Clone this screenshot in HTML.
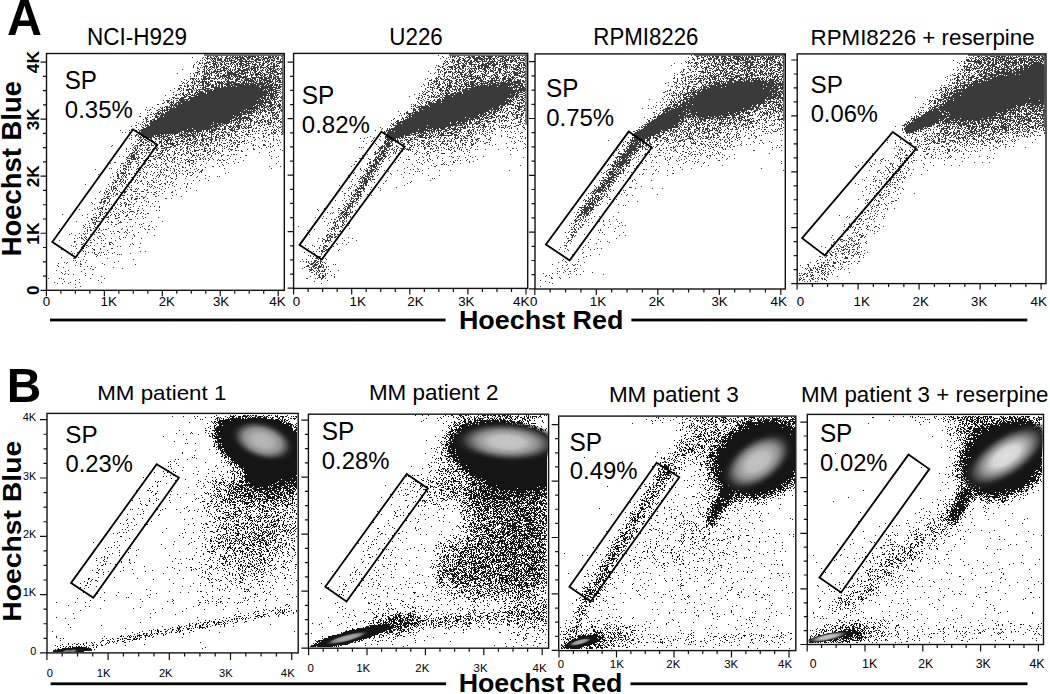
<!DOCTYPE html>
<html><head><meta charset="utf-8"><style>
html,body{margin:0;padding:0;background:#fff;}
svg{display:block;}
</style></head><body>
<svg width="1050" height="694" viewBox="0 0 1050 694" font-family="Liberation Sans, sans-serif">
<rect width="1050" height="694" fill="#fff"/>
<defs><radialGradient id="g0"><stop offset="0" stop-color="#b8b8b8"/><stop offset="0.3" stop-color="#b8b8b8" stop-opacity="0.95"/><stop offset="0.55" stop-color="#8c8c8c"/><stop offset="0.8" stop-color="#2a2a2a"/><stop offset="1" stop-color="#151515" stop-opacity="0"/></radialGradient><clipPath id="c0"><rect x="47.70" y="414.10" width="249.80" height="238.10"/></clipPath><radialGradient id="g1"><stop offset="0" stop-color="#c8c8c8"/><stop offset="0.3" stop-color="#c8c8c8" stop-opacity="0.95"/><stop offset="0.55" stop-color="#8c8c8c"/><stop offset="0.8" stop-color="#2a2a2a"/><stop offset="1" stop-color="#151515" stop-opacity="0"/></radialGradient><clipPath id="c1"><rect x="309.10" y="414.90" width="238.80" height="232.60"/></clipPath><radialGradient id="g2"><stop offset="0" stop-color="#c4c4c4"/><stop offset="0.3" stop-color="#c4c4c4" stop-opacity="0.95"/><stop offset="0.55" stop-color="#8c8c8c"/><stop offset="0.8" stop-color="#2a2a2a"/><stop offset="1" stop-color="#151515" stop-opacity="0"/></radialGradient><clipPath id="c2"><rect x="559.40" y="416.80" width="235.70" height="233.10"/></clipPath><radialGradient id="g3"><stop offset="0" stop-color="#e0e0e0"/><stop offset="0.3" stop-color="#e0e0e0" stop-opacity="0.95"/><stop offset="0.55" stop-color="#8c8c8c"/><stop offset="0.8" stop-color="#2a2a2a"/><stop offset="1" stop-color="#151515" stop-opacity="0"/></radialGradient><clipPath id="c3"><rect x="808.00" y="415.10" width="234.80" height="228.70"/></clipPath><radialGradient id="g4"><stop offset="0" stop-color="#a8a8a8"/><stop offset="0.3" stop-color="#a8a8a8" stop-opacity="0.95"/><stop offset="0.55" stop-color="#8c8c8c"/><stop offset="0.8" stop-color="#2a2a2a"/><stop offset="1" stop-color="#151515" stop-opacity="0"/></radialGradient><clipPath id="c4"><rect x="309.10" y="414.90" width="238.80" height="232.60"/></clipPath><radialGradient id="g5"><stop offset="0" stop-color="#a8a8a8"/><stop offset="0.3" stop-color="#a8a8a8" stop-opacity="0.95"/><stop offset="0.55" stop-color="#8c8c8c"/><stop offset="0.8" stop-color="#2a2a2a"/><stop offset="1" stop-color="#151515" stop-opacity="0"/></radialGradient><clipPath id="c5"><rect x="559.40" y="416.80" width="235.70" height="233.10"/></clipPath><radialGradient id="g6"><stop offset="0" stop-color="#c4c4c4"/><stop offset="0.3" stop-color="#c4c4c4" stop-opacity="0.95"/><stop offset="0.55" stop-color="#8c8c8c"/><stop offset="0.8" stop-color="#2a2a2a"/><stop offset="1" stop-color="#151515" stop-opacity="0"/></radialGradient><clipPath id="c6"><rect x="808.00" y="415.10" width="234.80" height="228.70"/></clipPath><radialGradient id="g7"><stop offset="0" stop-color="#707070"/><stop offset="0.3" stop-color="#707070" stop-opacity="0.95"/><stop offset="0.55" stop-color="#8c8c8c"/><stop offset="0.8" stop-color="#2a2a2a"/><stop offset="1" stop-color="#151515" stop-opacity="0"/></radialGradient><clipPath id="c7"><rect x="47.70" y="414.10" width="249.80" height="238.10"/></clipPath></defs>
<text x="6.89" y="35.40" font-size="49.86" font-weight="bold" textLength="34.92" lengthAdjust="spacingAndGlyphs" fill="#000">A</text>
<text x="6.79" y="402.10" font-size="48.41" font-weight="bold" textLength="34.57" lengthAdjust="spacingAndGlyphs" fill="#000">B</text>
<text transform="translate(20.70,256.28) rotate(-90)" x="0" y="0" font-size="26.76" font-weight="bold" textLength="175.25" lengthAdjust="spacingAndGlyphs">Hoechst Blue</text>
<text transform="translate(20.70,621.64) rotate(-90)" x="0" y="0" font-size="26.48" font-weight="bold" textLength="180.84" lengthAdjust="spacingAndGlyphs">Hoechst Blue</text>
<text x="458.95" y="328.50" font-size="26.48" font-weight="bold" textLength="164.47" lengthAdjust="spacingAndGlyphs" fill="#000">Hoechst Red</text>
<text x="458.66" y="692.00" font-size="25.66" font-weight="bold" textLength="163.75" lengthAdjust="spacingAndGlyphs" fill="#000">Hoechst Red</text>
<rect x="50" y="318.6" width="395.6" height="2.8" fill="#000"/>
<rect x="631.4" y="318.6" width="396" height="2.8" fill="#000"/>
<rect x="50.6" y="682.4" width="395.4" height="2.8" fill="#000"/>
<rect x="630.5" y="682.4" width="397" height="2.8" fill="#000"/>
<text x="87.10" y="44.90" font-size="23.29" textLength="100.03" lengthAdjust="spacingAndGlyphs" fill="#000">NCI-H929</text>
<text x="389.32" y="45.10" font-size="23.29" textLength="53.49" lengthAdjust="spacingAndGlyphs" fill="#000">U226</text>
<text x="593.32" y="45.20" font-size="23.00" textLength="105.17" lengthAdjust="spacingAndGlyphs" fill="#000">RPMI8226</text>
<text x="810.51" y="45.10" font-size="22.07" textLength="224.17" lengthAdjust="spacingAndGlyphs" fill="#000">RPMI8226 + reserpine</text>
<text x="97.21" y="400.10" font-size="21.10" textLength="129.20" lengthAdjust="spacingAndGlyphs" fill="#000">MM patient 1</text>
<text x="368.91" y="400.00" font-size="21.66" textLength="129.62" lengthAdjust="spacingAndGlyphs" fill="#000">MM patient 2</text>
<text x="608.90" y="402.10" font-size="21.66" textLength="129.91" lengthAdjust="spacingAndGlyphs" fill="#000">MM patient 3</text>
<text x="801.01" y="401.70" font-size="21.79" textLength="247.47" lengthAdjust="spacingAndGlyphs" fill="#000">MM patient 3 + reserpine</text>
<text x="64.71" y="89.40" font-size="25.00" textLength="32.30" lengthAdjust="spacingAndGlyphs" fill="#000">SP</text>
<text x="64.84" y="118.40" font-size="24.43" textLength="68.01" lengthAdjust="spacingAndGlyphs" fill="#000">0.35%</text>
<text x="301.70" y="104.40" font-size="25.00" textLength="32.51" lengthAdjust="spacingAndGlyphs" fill="#000">SP</text>
<text x="301.84" y="132.80" font-size="23.71" textLength="68.11" lengthAdjust="spacingAndGlyphs" fill="#000">0.82%</text>
<text x="546.01" y="97.00" font-size="24.86" textLength="32.41" lengthAdjust="spacingAndGlyphs" fill="#000">SP</text>
<text x="546.14" y="125.60" font-size="24.00" textLength="68.01" lengthAdjust="spacingAndGlyphs" fill="#000">0.75%</text>
<text x="810.51" y="93.20" font-size="24.57" textLength="32.41" lengthAdjust="spacingAndGlyphs" fill="#000">SP</text>
<text x="810.65" y="122.00" font-size="24.29" textLength="67.29" lengthAdjust="spacingAndGlyphs" fill="#000">0.06%</text>
<text x="65.31" y="442.60" font-size="24.43" textLength="32.41" lengthAdjust="spacingAndGlyphs" fill="#000">SP</text>
<text x="65.45" y="471.60" font-size="23.71" textLength="67.39" lengthAdjust="spacingAndGlyphs" fill="#000">0.23%</text>
<text x="321.70" y="440.30" font-size="25.00" textLength="32.51" lengthAdjust="spacingAndGlyphs" fill="#000">SP</text>
<text x="321.84" y="469.20" font-size="23.71" textLength="67.80" lengthAdjust="spacingAndGlyphs" fill="#000">0.28%</text>
<text x="569.60" y="450.80" font-size="25.00" textLength="32.51" lengthAdjust="spacingAndGlyphs" fill="#000">SP</text>
<text x="569.74" y="479.30" font-size="24.14" textLength="67.80" lengthAdjust="spacingAndGlyphs" fill="#000">0.49%</text>
<text x="819.91" y="442.40" font-size="24.86" textLength="32.41" lengthAdjust="spacingAndGlyphs" fill="#000">SP</text>
<text x="820.05" y="471.10" font-size="23.71" textLength="67.50" lengthAdjust="spacingAndGlyphs" fill="#000">0.02%</text>
<path d="M46.40 290.30v6M46.50 290.30h-6M60.89 290.30v3.5M46.50 276.04h-3.5M75.38 290.30v3.5M46.50 261.78h-3.5M89.86 290.30v3.5M46.50 247.51h-3.5M104.35 290.30v6M46.50 233.25h-6M118.84 290.30v3.5M46.50 218.99h-3.5M133.33 290.30v3.5M46.50 204.73h-3.5M147.81 290.30v3.5M46.50 190.46h-3.5M162.30 290.30v6M46.50 176.20h-6M176.79 290.30v3.5M46.50 161.94h-3.5M191.28 290.30v3.5M46.50 147.68h-3.5M205.76 290.30v3.5M46.50 133.41h-3.5M220.25 290.30v6M46.50 119.15h-6M234.74 290.30v3.5M46.50 104.89h-3.5M249.23 290.30v3.5M46.50 90.63h-3.5M263.71 290.30v3.5M46.50 76.36h-3.5M278.20 290.30v6M46.50 62.10h-6" stroke="#111" stroke-width="1.2" fill="none"/>
<path d="M293.60 288.40v6M293.60 288.20h-6M308.12 288.40v3.5M293.60 274.07h-3.5M322.65 288.40v3.5M293.60 259.95h-3.5M337.18 288.40v3.5M293.60 245.82h-3.5M351.70 288.40v6M293.60 231.70h-6M366.23 288.40v3.5M293.60 217.57h-3.5M380.75 288.40v3.5M293.60 203.45h-3.5M395.28 288.40v3.5M293.60 189.32h-3.5M409.80 288.40v6M293.60 175.20h-6M424.33 288.40v3.5M293.60 161.07h-3.5M438.85 288.40v3.5M293.60 146.95h-3.5M453.38 288.40v3.5M293.60 132.82h-3.5M467.90 288.40v6M293.60 118.70h-6M482.43 288.40v3.5M293.60 104.57h-3.5M496.95 288.40v3.5M293.60 90.45h-3.5M511.48 288.40v3.5M293.60 76.32h-3.5M526.00 288.40v6M293.60 62.20h-6" stroke="#111" stroke-width="1.2" fill="none"/>
<path d="M534.80 289.00v6M535.00 288.90h-6M550.17 289.00v3.5M535.00 274.70h-3.5M565.55 289.00v3.5M535.00 260.50h-3.5M580.92 289.00v3.5M535.00 246.30h-3.5M596.30 289.00v6M535.00 232.10h-6M611.67 289.00v3.5M535.00 217.90h-3.5M627.05 289.00v3.5M535.00 203.70h-3.5M642.42 289.00v3.5M535.00 189.50h-3.5M657.80 289.00v6M535.00 175.30h-6M673.17 289.00v3.5M535.00 161.10h-3.5M688.55 289.00v3.5M535.00 146.90h-3.5M703.92 289.00v3.5M535.00 132.70h-3.5M719.30 289.00v6M535.00 118.50h-6M734.67 289.00v3.5M535.00 104.30h-3.5M750.05 289.00v3.5M535.00 90.10h-3.5M765.42 289.00v3.5M535.00 75.90h-3.5M780.80 289.00v6M535.00 61.70h-6" stroke="#111" stroke-width="1.2" fill="none"/>
<path d="M797.10 283.60v6M797.20 283.60h-6M812.35 283.60v3.5M797.20 269.62h-3.5M827.60 283.60v3.5M797.20 255.65h-3.5M842.85 283.60v3.5M797.20 241.68h-3.5M858.10 283.60v6M797.20 227.70h-6M873.35 283.60v3.5M797.20 213.73h-3.5M888.60 283.60v3.5M797.20 199.75h-3.5M903.85 283.60v3.5M797.20 185.78h-3.5M919.10 283.60v6M797.20 171.80h-6M934.35 283.60v3.5M797.20 157.83h-3.5M949.60 283.60v3.5M797.20 143.85h-3.5M964.85 283.60v3.5M797.20 129.88h-3.5M980.10 283.60v6M797.20 115.90h-6M995.35 283.60v3.5M797.20 101.93h-3.5M1010.60 283.60v3.5M797.20 87.95h-3.5M1025.85 283.60v3.5M797.20 73.98h-3.5M1041.10 283.60v6M797.20 60.00h-6" stroke="#111" stroke-width="1.2" fill="none"/>
<path d="M46.90 652.90v7M47.00 652.90h-7M62.20 652.90v3.5M47.00 638.32h-3.5M77.50 652.90v3.5M47.00 623.75h-3.5M92.80 652.90v3.5M47.00 609.17h-3.5M108.10 652.90v7M47.00 594.60h-7M123.40 652.90v3.5M47.00 580.02h-3.5M138.70 652.90v3.5M47.00 565.45h-3.5M154.00 652.90v3.5M47.00 550.88h-3.5M169.30 652.90v7M47.00 536.30h-7M184.60 652.90v3.5M47.00 521.73h-3.5M199.90 652.90v3.5M47.00 507.15h-3.5M215.20 652.90v3.5M47.00 492.57h-3.5M230.50 652.90v7M47.00 478.00h-7M245.80 652.90v3.5M47.00 463.42h-3.5M261.10 652.90v3.5M47.00 448.85h-3.5M276.40 652.90v3.5M47.00 434.27h-3.5M291.70 652.90v7M47.00 419.70h-7" stroke="#111" stroke-width="1.2" fill="none"/>
<path d="M308.60 648.20v7M308.40 648.20h-7M323.20 648.20v3.5M308.40 633.95h-3.5M337.80 648.20v3.5M308.40 619.70h-3.5M352.40 648.20v3.5M308.40 605.45h-3.5M367.00 648.20v7M308.40 591.20h-7M381.60 648.20v3.5M308.40 576.95h-3.5M396.20 648.20v3.5M308.40 562.70h-3.5M410.80 648.20v3.5M308.40 548.45h-3.5M425.40 648.20v7M308.40 534.20h-7M440.00 648.20v3.5M308.40 519.95h-3.5M454.60 648.20v3.5M308.40 505.70h-3.5M469.20 648.20v3.5M308.40 491.45h-3.5M483.80 648.20v7M308.40 477.20h-7M498.40 648.20v3.5M308.40 462.95h-3.5M513.00 648.20v3.5M308.40 448.70h-3.5M527.60 648.20v3.5M308.40 434.45h-3.5M542.20 648.20v7M308.40 420.20h-7" stroke="#111" stroke-width="1.2" fill="none"/>
<path d="M559.00 650.60v7M558.70 650.40h-7M573.38 650.60v3.5M558.70 636.29h-3.5M587.75 650.60v3.5M558.70 622.17h-3.5M602.12 650.60v3.5M558.70 608.06h-3.5M616.50 650.60v7M558.70 593.95h-7M630.88 650.60v3.5M558.70 579.84h-3.5M645.25 650.60v3.5M558.70 565.72h-3.5M659.62 650.60v3.5M558.70 551.61h-3.5M674.00 650.60v7M558.70 537.50h-7M688.38 650.60v3.5M558.70 523.39h-3.5M702.75 650.60v3.5M558.70 509.27h-3.5M717.12 650.60v3.5M558.70 495.16h-3.5M731.50 650.60v7M558.70 481.05h-7M745.88 650.60v3.5M558.70 466.94h-3.5M760.25 650.60v3.5M558.70 452.82h-3.5M774.62 650.60v3.5M558.70 438.71h-3.5M789.00 650.60v7M558.70 424.60h-7" stroke="#111" stroke-width="1.2" fill="none"/>
<path d="M807.20 644.50v7M807.30 644.50h-7M821.65 644.50v3.5M807.30 630.60h-3.5M836.10 644.50v3.5M807.30 616.70h-3.5M850.55 644.50v3.5M807.30 602.80h-3.5M865.00 644.50v7M807.30 588.90h-7M879.45 644.50v3.5M807.30 575.00h-3.5M893.90 644.50v3.5M807.30 561.10h-3.5M908.35 644.50v3.5M807.30 547.20h-3.5M922.80 644.50v7M807.30 533.30h-7M937.25 644.50v3.5M807.30 519.40h-3.5M951.70 644.50v3.5M807.30 505.50h-3.5M966.15 644.50v3.5M807.30 491.60h-3.5M980.60 644.50v7M807.30 477.70h-7M995.05 644.50v3.5M807.30 463.80h-3.5M1009.50 644.50v3.5M807.30 449.90h-3.5M1023.95 644.50v3.5M807.30 436.00h-3.5M1038.40 644.50v7M807.30 422.10h-7" stroke="#111" stroke-width="1.2" fill="none"/>
<text transform="translate(38.6,295.06) rotate(-90)" font-size="17.14" font-weight="bold">0</text>
<text transform="translate(38.6,244.77) rotate(-90)" font-size="17.39" font-weight="bold">1K</text>
<text transform="translate(38.6,187.34) rotate(-90)" font-size="17.14" font-weight="bold">2K</text>
<text transform="translate(38.6,130.21) rotate(-90)" font-size="17.14" font-weight="bold">3K</text>
<text transform="translate(38.6,73.23) rotate(-90)" font-size="17.39" font-weight="bold">4K</text>
<text x="36.2" y="654.50" font-size="10.86" text-anchor="end">0</text>
<text x="36.2" y="596.20" font-size="11.01" text-anchor="end">1K</text>
<text x="36.2" y="537.90" font-size="10.86" text-anchor="end">2K</text>
<text x="36.2" y="479.60" font-size="10.86" text-anchor="end">3K</text>
<text x="36.2" y="421.30" font-size="11.01" text-anchor="end">4K</text>
<text x="42.77" y="306.30" font-size="13.29">0</text>
<text x="100.59" y="306.30" font-size="13.48">1K</text>
<text x="158.64" y="306.30" font-size="13.29">2K</text>
<text x="212.97" y="306.30" font-size="13.29">3K</text>
<text x="269.23" y="306.30" font-size="13.48">4K</text>
<text x="292.87" y="305.80" font-size="13.29">0</text>
<text x="349.59" y="305.80" font-size="13.48">1K</text>
<text x="407.34" y="305.80" font-size="13.29">2K</text>
<text x="458.17" y="305.80" font-size="13.29">3K</text>
<text x="513.03" y="305.80" font-size="13.48">4K</text>
<text x="530.07" y="305.80" font-size="13.29">0</text>
<text x="589.69" y="305.80" font-size="13.48">1K</text>
<text x="648.64" y="305.80" font-size="13.29">2K</text>
<text x="711.47" y="305.80" font-size="13.29">3K</text>
<text x="770.43" y="305.80" font-size="13.48">4K</text>
<text x="796.67" y="305.80" font-size="13.29">0</text>
<text x="853.59" y="305.80" font-size="13.48">1K</text>
<text x="912.54" y="305.80" font-size="13.29">2K</text>
<text x="971.07" y="305.80" font-size="13.29">3K</text>
<text x="1030.43" y="305.80" font-size="13.48">4K</text>
<text x="46.85" y="677.10" font-size="11.14">0</text>
<text x="96.65" y="677.10" font-size="11.30">1K</text>
<text x="158.94" y="677.10" font-size="11.14">2K</text>
<text x="219.05" y="677.10" font-size="11.14">3K</text>
<text x="280.87" y="677.10" font-size="11.30">4K</text>
<text x="307.44" y="671.60" font-size="11.43">0</text>
<text x="356.13" y="671.60" font-size="11.59">1K</text>
<text x="415.33" y="671.60" font-size="11.43">2K</text>
<text x="473.54" y="671.60" font-size="11.43">3K</text>
<text x="532.47" y="671.60" font-size="11.59">4K</text>
<text x="557.74" y="667.80" font-size="11.43">0</text>
<text x="609.83" y="667.80" font-size="11.59">1K</text>
<text x="666.33" y="667.80" font-size="11.43">2K</text>
<text x="724.14" y="667.80" font-size="11.43">3K</text>
<text x="778.07" y="667.80" font-size="11.59">4K</text>
<text x="809.81" y="668.00" font-size="12.29">0</text>
<text x="862.07" y="668.00" font-size="12.46">1K</text>
<text x="918.19" y="668.00" font-size="12.29">2K</text>
<text x="975.71" y="668.00" font-size="12.29">3K</text>
<text x="1029.45" y="668.00" font-size="12.46">4K</text>
<path d="M206 55.5h3m2 0h1m4 0h1m1 0h1m2 0h3m3 0h1m3 0h1m1 0h10m1 0h2m1 0h1m2 0h4m3 0h4m2 0h1m2 0h1m2 0h2m2 0h1m4 0h1m3 0h1M207 56.5h2m1 0h1m2 0h1m1 0h3m3 0h1m4 0h2m2 0h1m1 0h2m1 0h1m1 0h1m1 0h2m1 0h1m1 0h3m1 0h8m1 0h2m2 0h1m1 0h1m4 0h3m1 0h2m1 0h2m1 0h1m2 0h1M192 57.5h1m10 0h1m1 0h1m1 0h1m2 0h2m2 0h1m1 0h1m1 0h1m3 0h1m2 0h2m2 0h1m1 0h2m1 0h10m2 0h5m1 0h1m1 0h2m2 0h3m1 0h2m1 0h2m1 0h6m1 0h1m1 0h2M202 58.5h1m3 0h4m1 0h5m1 0h2m1 0h2m3 0h6m1 0h2m1 0h3m2 0h5m2 0h3m1 0h2m3 0h3m2 0h1m1 0h6m1 0h1m2 0h2m1 0h3m2 0h2M204 59.5h1m2 0h1m2 0h1m1 0h1m1 0h2m1 0h5m2 0h2m1 0h1m1 0h1m1 0h1m3 0h1m1 0h5m1 0h3m1 0h2m2 0h3m1 0h6m1 0h3m2 0h1m1 0h1m1 0h2m1 0h1m2 0h2m1 0h1M200 60.5h1m1 0h1m2 0h1m5 0h1m1 0h1m1 0h1m1 0h5m2 0h2m1 0h1m1 0h6m2 0h1m1 0h4m2 0h2m2 0h1m4 0h3m1 0h3m1 0h1m1 0h1m2 0h3m1 0h4m5 0h1M197 61.5h1m9 0h1m1 0h1m2 0h4m5 0h3m1 0h4m1 0h2m2 0h3m2 0h15m1 0h2m6 0h1m1 0h5m3 0h1m2 0h7M196 62.5h1m2 0h1m2 0h1m3 0h5m2 0h1m1 0h3m1 0h2m1 0h1m1 0h1m6 0h5m2 0h1m1 0h2m3 0h2m1 0h1m2 0h1m1 0h1m2 0h5m2 0h1m1 0h2m1 0h1m2 0h2m3 0h1m2 0h4M199 63.5h2m1 0h1m1 0h3m1 0h1m3 0h4m1 0h1m2 0h2m2 0h1m1 0h3m1 0h2m1 0h1m2 0h2m1 0h5m2 0h5m1 0h1m2 0h1m3 0h1m2 0h3m2 0h1m2 0h2m1 0h2m2 0h3M194 64.5h1m3 0h1m5 0h1m4 0h2m2 0h4m1 0h1m1 0h3m1 0h2m2 0h1m1 0h1m1 0h1m1 0h1m1 0h2m1 0h3m1 0h4m1 0h1m3 0h5m2 0h2m1 0h2m4 0h2m1 0h1m1 0h2m1 0h1M193 65.5h1m7 0h1m3 0h2m6 0h2m1 0h1m1 0h1m2 0h1m3 0h2m4 0h1m3 0h1m1 0h1m2 0h4m1 0h5m4 0h2m1 0h1m1 0h1m1 0h3m3 0h2m4 0h2m1 0h3m3 0h1M193 66.5h1m9 0h5m2 0h3m1 0h1m1 0h3m1 0h1m2 0h2m2 0h3m1 0h1m2 0h2m1 0h1m1 0h2m1 0h1m2 0h2m2 0h1m1 0h4m2 0h2m1 0h2m4 0h2m2 0h8m1 0h1M193 67.5h1m3 0h1m2 0h1m1 0h1m1 0h1m1 0h1m2 0h2m1 0h3m1 0h2m3 0h4m1 0h1m1 0h1m4 0h1m1 0h1m4 0h1m1 0h3m3 0h2m1 0h1m1 0h6m1 0h6m1 0h2m1 0h1m2 0h2m7 0h1M197 68.5h2m5 0h1m1 0h1m1 0h1m2 0h1m2 0h1m1 0h1m3 0h1m2 0h5m2 0h1m4 0h1m1 0h3m2 0h1m3 0h3m1 0h6m1 0h1m2 0h1m2 0h1m2 0h1m1 0h7m2 0h2m1 0h2M182 69.5h1m16 0h1m3 0h2m2 0h1m1 0h2m1 0h1m2 0h1m1 0h4m2 0h2m1 0h1m1 0h1m1 0h1m1 0h1m1 0h2m2 0h3m2 0h7m1 0h2m1 0h2m1 0h2m3 0h1m2 0h1m1 0h1m1 0h3m1 0h1m1 0h3m1 0h1m1 0h1M197 70.5h1m6 0h1m1 0h1m1 0h2m4 0h2m1 0h1m2 0h6m1 0h1m1 0h2m1 0h1m1 0h1m2 0h11m1 0h1m1 0h1m1 0h3m1 0h1m2 0h4m1 0h1m1 0h2m1 0h1m1 0h4m2 0h1m2 0h1M198 71.5h2m2 0h3m1 0h1m2 0h1m1 0h1m1 0h9m2 0h1m2 0h2m1 0h2m3 0h4m2 0h4m2 0h1m2 0h1m3 0h3m2 0h1m1 0h1m4 0h2m2 0h7m3 0h1M195 72.5h4m3 0h1m1 0h1m1 0h2m1 0h1m1 0h4m1 0h2m1 0h1m5 0h1m1 0h6m1 0h4m1 0h1m1 0h2m1 0h5m1 0h1m1 0h1m1 0h2m2 0h3m1 0h1m3 0h5m1 0h1m1 0h4m3 0h2M177 73.5h1m12 0h1m2 0h1m3 0h1m1 0h1m4 0h5m1 0h2m3 0h2m1 0h1m1 0h2m3 0h1m1 0h9m2 0h8m1 0h1m2 0h1m2 0h1m1 0h4m1 0h2m1 0h2m3 0h1m1 0h4m3 0h6M194 74.5h1m2 0h1m1 0h1m4 0h2m1 0h3m1 0h1m5 0h2m4 0h2m2 0h12m2 0h3m1 0h1m4 0h4m1 0h6m1 0h1m1 0h4m1 0h2m2 0h2m1 0h3m1 0h1m1 0h1M194 75.5h1m1 0h1m5 0h2m3 0h1m1 0h1m1 0h1m2 0h1m1 0h3m1 0h1m1 0h8m1 0h1m1 0h4m1 0h3m4 0h1m1 0h1m1 0h1m1 0h2m2 0h3m2 0h3m1 0h2m3 0h3m2 0h2M190 76.5h1m3 0h1m1 0h1m4 0h1m1 0h4m2 0h1m5 0h1m1 0h2m1 0h7m1 0h2m1 0h2m1 0h8m1 0h5m3 0h1m4 0h1m1 0h1m2 0h1m1 0h2m2 0h1m1 0h3m1 0h1m1 0h4m3 0h1M203 77.5h3m2 0h3m4 0h1m3 0h2m1 0h1m1 0h1m1 0h5m2 0h1m1 0h1m1 0h1m1 0h8m4 0h12m1 0h3m1 0h4m1 0h3m1 0h2m3 0h1M190 78.5h5m1 0h1m1 0h1m2 0h1m1 0h7m1 0h6m1 0h2m2 0h2m1 0h1m1 0h4m1 0h1m3 0h4m2 0h2m1 0h6m1 0h4m3 0h4m1 0h6m1 0h1m1 0h3m1 0h5M184 79.5h1m5 0h1m1 0h2m1 0h1m2 0h1m2 0h6m1 0h2m4 0h1m2 0h1m3 0h1m3 0h2m1 0h1m1 0h3m2 0h5m1 0h1m2 0h5m1 0h3m1 0h2m1 0h1m1 0h1m1 0h6m2 0h2m1 0h2m1 0h2m1 0h2M186 80.5h1m6 0h1m2 0h1m2 0h1m2 0h1m1 0h1m5 0h3m12 0h1m1 0h2m6 0h3m3 0h2m1 0h10m1 0h1m1 0h1m1 0h3m1 0h8m1 0h1m2 0h1m1 0h4m1 0h1M181 81.5h1m6 0h1m3 0h1m1 0h1m1 0h4m1 0h6m1 0h1m1 0h3m1 0h2m1 0h3m1 0h1m1 0h2m1 0h4m1 0h3m1 0h2m1 0h3m2 0h2m1 0h1m1 0h7m1 0h2m1 0h2m1 0h1m1 0h1m1 0h7m2 0h3m1 0h2m1 0h1M183 82.5h1m3 0h1m3 0h2m1 0h1m3 0h1m1 0h4m1 0h2m1 0h2m5 0h1m1 0h6m1 0h1m2 0h9m4 0h1m1 0h3m1 0h1m1 0h1m2 0h1m1 0h4m2 0h4m1 0h4m1 0h3m1 0h1m1 0h1m2 0h5M182 83.5h1m1 0h1m1 0h1m5 0h1m1 0h2m3 0h1m2 0h2m1 0h4m1 0h1m4 0h2m1 0h6m1 0h7m1 0h7m1 0h13m1 0h11m1 0h3m2 0h2m1 0h1M187 84.5h1m6 0h1m3 0h1m3 0h2m2 0h5m1 0h2m1 0h2m2 0h1m1 0h2m1 0h6m1 0h13m1 0h4m1 0h6m1 0h8m1 0h3m1 0h3m1 0h4m1 0h4M179 85.5h3m2 0h1m2 0h2m1 0h1m1 0h2m2 0h2m1 0h5m1 0h1m1 0h3m1 0h3m2 0h1m1 0h2m1 0h2m3 0h7m1 0h26m1 0h3m1 0h2m1 0h5m1 0h4m1 0h1M184 86.5h2m1 0h2m2 0h1m1 0h1m3 0h1m5 0h1m1 0h4m2 0h3m1 0h2m1 0h2m1 0h2m1 0h2m1 0h4m1 0h4m1 0h22m1 0h12m1 0h1m2 0h1m1 0h4M180 87.5h1m6 0h1m4 0h2m3 0h1m2 0h1m1 0h4m5 0h9m1 0h39m1 0h16m1 0h3M174 88.5h1m3 0h2m1 0h1m1 0h1m5 0h1m2 0h2m1 0h1m6 0h2m1 0h5m4 0h54m1 0h4m2 0h5M178 89.5h2m3 0h1m2 0h6m1 0h1m2 0h1m1 0h8m1 0h2m1 0h3m1 0h50m1 0h1m1 0h9m4 0h1m1 0h1M170 90.5h1m6 0h1m3 0h1m1 0h1m2 0h3m2 0h2m1 0h1m1 0h2m1 0h1m4 0h8m1 0h50m1 0h3m1 0h6m1 0h5M180 91.5h1m7 0h1m2 0h2m3 0h1m1 0h5m2 0h65m1 0h1m1 0h4m3 0h1M173 92.5h1m9 0h1m4 0h2m1 0h2m2 0h3m1 0h5m1 0h1m1 0h61m1 0h1m1 0h1m1 0h1m1 0h5m1 0h1M180 93.5h1m1 0h2m3 0h1m1 0h1m4 0h2m1 0h9m1 0h70m3 0h1m1 0h1M173 94.5h1m2 0h1m1 0h2m2 0h2m1 0h2m1 0h3m1 0h1m1 0h1m1 0h71m1 0h1m1 0h4m1 0h1m1 0h2M165 95.5h1m9 0h2m3 0h1m2 0h2m1 0h2m3 0h6m1 0h76m1 0h3m4 0h1M184 96.5h3m1 0h3m3 0h69m1 0h2m2 0h1m1 0h5m1 0h1m2 0h1m1 0h2M172 97.5h3m6 0h5m3 0h77m1 0h2m1 0h3m1 0h5m1 0h2M169 98.5h1m3 0h1m1 0h4m1 0h4m4 0h72m1 0h5m1 0h2m1 0h5m2 0h1m3 0h2M171 99.5h1m7 0h10m1 0h71m1 0h1m1 0h6m1 0h1m1 0h4m5 0h1M163 100.5h1m2 0h4m3 0h1m2 0h2m1 0h6m1 0h2m1 0h68m1 0h6m1 0h2m2 0h2m1 0h1m1 0h1m4 0h3M167 101.5h2m2 0h1m1 0h1m4 0h1m1 0h84m1 0h6m3 0h2m1 0h2m1 0h1M164 102.5h1m2 0h2m1 0h4m2 0h96m2 0h2m2 0h1m3 0h1M162 103.5h2m5 0h1m1 0h1m1 0h1m1 0h2m1 0h3m1 0h81m1 0h2m2 0h4m2 0h1m1 0h1m2 0h1m2 0h1M157 104.5h2m11 0h3m1 0h3m1 0h78m1 0h1m1 0h5m1 0h1m4 0h5m1 0h1m1 0h3M170 105.5h85m1 0h6m1 0h3m1 0h1m1 0h4m2 0h1m1 0h4m1 0h1M165 106.5h3m1 0h1m1 0h1m1 0h1m1 0h78m1 0h4m1 0h1m1 0h4m1 0h6m2 0h1m2 0h3m1 0h1M146 107.5h1m5 0h1m7 0h1m1 0h1m1 0h1m1 0h6m1 0h2m1 0h82m1 0h1m1 0h2m1 0h3m1 0h1m1 0h1m1 0h4m3 0h2m1 0h1M154 108.5h1m6 0h2m3 0h2m2 0h90m3 0h2m2 0h1m1 0h1m1 0h3m1 0h1m3 0h2M145 109.5h1m4 0h1m7 0h2m2 0h1m1 0h1m1 0h80m1 0h8m1 0h2m1 0h2m1 0h1m1 0h1m2 0h2m1 0h2m1 0h2m3 0h1m2 0h2M147 110.5h1m1 0h1m6 0h2m2 0h8m1 0h75m1 0h3m1 0h1m1 0h1m1 0h3m1 0h1m2 0h6m2 0h6m6 0h3M158 111.5h2m2 0h1m1 0h1m2 0h88m1 0h1m1 0h1m1 0h1m1 0h1m1 0h3m4 0h1m5 0h1m1 0h1m1 0h1M147 112.5h1m3 0h1m5 0h2m1 0h1m1 0h1m2 0h75m1 0h11m1 0h2m1 0h2m1 0h3m3 0h1m2 0h2m1 0h4m1 0h2m1 0h1M140 113.5h1m12 0h1m1 0h9m1 0h77m1 0h3m1 0h6m3 0h1m1 0h1m1 0h1m7 0h2m2 0h2m1 0h2M150 114.5h2m2 0h1m1 0h1m1 0h2m1 0h86m1 0h1m2 0h1m4 0h1m1 0h1m1 0h1m4 0h2m5 0h1m1 0h2m1 0h2M147 115.5h2m6 0h2m3 0h73m1 0h8m6 0h6m5 0h1m2 0h1m4 0h1m2 0h1m1 0h3m2 0h2M139 116.5h2m11 0h1m2 0h4m1 0h3m1 0h71m1 0h2m1 0h3m2 0h2m2 0h1m5 0h2m1 0h1m4 0h2m1 0h1m1 0h1m4 0h1m2 0h2m1 0h1m3 0h1M145 117.5h1m1 0h1m2 0h1m4 0h3m1 0h78m1 0h3m1 0h8m4 0h1m1 0h1m1 0h1m3 0h2m6 0h1m2 0h1m2 0h2M145 118.5h2m7 0h1m2 0h77m1 0h16m1 0h1m4 0h2m5 0h1m5 0h1m1 0h7m2 0h1M143 119.5h1m2 0h2m4 0h3m2 0h75m2 0h4m1 0h3m1 0h1m2 0h2m1 0h3m4 0h1m4 0h3m4 0h1m1 0h1m3 0h1m1 0h1m3 0h1M146 120.5h1m3 0h2m1 0h77m1 0h5m1 0h1m1 0h2m1 0h2m1 0h1m1 0h2m1 0h3m4 0h1m1 0h3m2 0h2m1 0h2m1 0h2m6 0h2M143 121.5h1m2 0h3m1 0h82m1 0h1m2 0h1m1 0h3m2 0h1m1 0h1m4 0h2m2 0h1m1 0h2m2 0h1m1 0h1m1 0h2m1 0h2m2 0h1m2 0h1m3 0h1m1 0h2M136 122.5h1m5 0h1m3 0h1m3 0h63m1 0h16m1 0h1m1 0h1m1 0h3m1 0h2m2 0h1m6 0h1m3 0h3m1 0h2m1 0h2m2 0h1m2 0h4m1 0h2m2 0h1m2 0h2M138 123.5h1m5 0h1m4 0h68m1 0h3m1 0h7m1 0h2m3 0h1m1 0h3m4 0h1m1 0h1m1 0h1m1 0h1m3 0h1m3 0h2m7 0h2m1 0h1m4 0h1m6 0h1M140 124.5h1m1 0h1m2 0h1m1 0h1m2 0h63m1 0h9m1 0h1m1 0h1m7 0h2m2 0h1m2 0h2m2 0h1m4 0h1m3 0h1m7 0h1m1 0h1m1 0h1m1 0h3m2 0h1m6 0h1M135 125.5h2m6 0h1m1 0h4m1 0h61m1 0h6m1 0h2m1 0h2m2 0h2m2 0h1m2 0h1m2 0h5m4 0h1m2 0h3m2 0h1m4 0h2m1 0h1m2 0h1m8 0h1m1 0h1M131 126.5h1m9 0h1m3 0h1m1 0h72m1 0h2m2 0h2m2 0h4m1 0h2m1 0h4m1 0h1m1 0h2m1 0h1m1 0h1m2 0h1m8 0h1m8 0h2m1 0h1m3 0h1m1 0h1m2 0h2M136 127.5h1m5 0h2m2 0h67m1 0h3m2 0h1m4 0h2m3 0h2m1 0h2m1 0h1m1 0h3m1 0h1m2 0h2m1 0h5m4 0h1m6 0h1m3 0h1m5 0h1m3 0h1m1 0h2M143 128.5h49m1 0h19m1 0h1m1 0h5m2 0h1m1 0h2m2 0h1m2 0h2m1 0h1m3 0h2m2 0h2m1 0h2m1 0h1m4 0h1m1 0h2m2 0h1m5 0h1m12 0h1M131 129.5h1m1 0h1m4 0h1m2 0h46m1 0h22m1 0h6m1 0h3m1 0h4m3 0h4m1 0h1m1 0h3m13 0h1m15 0h1m3 0h1m1 0h1m1 0h1m4 0h1M120 130.5h1m8 0h1m6 0h1m2 0h55m2 0h6m1 0h1m2 0h2m1 0h1m1 0h5m6 0h1m7 0h5m8 0h1m4 0h2m2 0h1m5 0h2m4 0h3m4 0h1m2 0h2m2 0h1M139 131.5h1m1 0h41m2 0h18m1 0h1m2 0h2m1 0h4m1 0h1m2 0h2m2 0h1m2 0h2m6 0h1m1 0h4m3 0h1m3 0h1m2 0h1m3 0h1m1 0h1m1 0h1m5 0h1m10 0h1m2 0h1m2 0h1m2 0h1M122 132.5h1m2 0h1m3 0h1m8 0h42m1 0h2m1 0h2m1 0h2m1 0h2m1 0h1m1 0h1m1 0h2m3 0h1m2 0h1m3 0h5m2 0h1m2 0h1m1 0h3m1 0h2m1 0h2m5 0h1m6 0h2m4 0h2m16 0h1m4 0h1m1 0h3m5 0h1M141 133.5h37m1 0h1m1 0h1m1 0h5m3 0h5m1 0h1m1 0h2m1 0h1m1 0h1m2 0h1m3 0h1m2 0h1m3 0h1m4 0h1m3 0h1m3 0h1m2 0h1m4 0h1m6 0h1m8 0h1m2 0h1m3 0h2m1 0h1m5 0h2m1 0h2m6 0h1M136 134.5h2m1 0h1m2 0h18m1 0h3m1 0h2m1 0h1m1 0h1m1 0h1m1 0h2m3 0h4m1 0h1m1 0h5m1 0h2m1 0h1m1 0h1m1 0h1m1 0h2m1 0h1m4 0h1m1 0h3m2 0h3m3 0h1m1 0h1m2 0h3m1 0h1m3 0h1m1 0h1m7 0h4m1 0h1m1 0h1m15 0h2m3 0h1m3 0h1m3 0h1M131 135.5h1m3 0h2m1 0h1m2 0h13m1 0h1m1 0h5m1 0h1m1 0h1m1 0h3m1 0h1m2 0h1m4 0h7m1 0h8m1 0h2m1 0h1m1 0h6m4 0h1m4 0h1m1 0h1m1 0h3m1 0h1m3 0h2m1 0h1m3 0h2m4 0h2m4 0h1m15 0h1m4 0h1M127 136.5h1m7 0h1m2 0h1m1 0h1m1 0h12m1 0h5m1 0h7m4 0h1m2 0h5m1 0h2m1 0h5m1 0h1m1 0h4m2 0h1m2 0h2m2 0h1m1 0h1m3 0h1m1 0h1m1 0h2m2 0h1m2 0h2m4 0h1m2 0h1m5 0h2m5 0h1m3 0h1m1 0h1m12 0h2m8 0h1m4 0h1M131 137.5h1m7 0h3m1 0h9m1 0h2m4 0h3m1 0h2m2 0h4m1 0h1m2 0h1m4 0h1m1 0h2m1 0h2m2 0h1m3 0h3m2 0h1m3 0h1m5 0h4m3 0h4m1 0h1m3 0h1m5 0h1m1 0h1m1 0h1m4 0h1m1 0h1m11 0h2m3 0h1m4 0h1m2 0h1M129 138.5h1m10 0h1m2 0h1m2 0h3m1 0h2m3 0h2m1 0h2m2 0h2m2 0h1m1 0h2m1 0h1m4 0h4m1 0h2m1 0h1m2 0h1m1 0h2m2 0h1m1 0h2m5 0h3m1 0h3m2 0h2m2 0h1m3 0h2m1 0h3m8 0h1m1 0h1m3 0h1m4 0h1m14 0h1m9 0h1m3 0h1M131 139.5h1m5 0h1m1 0h1m1 0h2m1 0h2m1 0h2m2 0h1m3 0h2m2 0h1m1 0h1m1 0h3m1 0h6m2 0h1m1 0h1m5 0h2m2 0h4m1 0h1m1 0h2m1 0h1m3 0h3m1 0h2m2 0h4m2 0h2m2 0h1m6 0h1m3 0h1m24 0h1m17 0h1m2 0h1M138 140.5h1m1 0h2m3 0h2m2 0h4m8 0h1m3 0h4m1 0h2m1 0h1m4 0h1m2 0h2m3 0h2m1 0h3m4 0h2m1 0h1m1 0h3m2 0h1m3 0h2m3 0h2m2 0h1m2 0h1m2 0h1m3 0h3m2 0h1m1 0h2m6 0h1m2 0h1m6 0h1m7 0h1m1 0h1m8 0h1m3 0h1m1 0h1M135 141.5h1m4 0h2m1 0h1m3 0h2m2 0h3m1 0h1m3 0h3m2 0h1m1 0h2m2 0h1m4 0h3m2 0h5m1 0h1m6 0h4m5 0h2m2 0h1m1 0h1m2 0h1m2 0h1m4 0h1m11 0h1m5 0h1m1 0h1m2 0h3m6 0h1m13 0h1m2 0h1M139 142.5h1m2 0h2m1 0h2m2 0h1m3 0h1m5 0h3m1 0h1m2 0h2m2 0h1m1 0h1m3 0h2m5 0h1m3 0h2m1 0h1m1 0h2m1 0h1m1 0h1m2 0h2m2 0h1m5 0h2m5 0h1m3 0h1m5 0h1m1 0h1m3 0h3m2 0h2m1 0h1m6 0h1m31 0h1M131 143.5h1m5 0h2m4 0h1m1 0h1m5 0h1m3 0h1m3 0h1m1 0h1m2 0h1m2 0h8m2 0h1m2 0h1m1 0h1m2 0h3m3 0h2m1 0h2m1 0h1m2 0h1m1 0h1m3 0h2m2 0h1m1 0h2m3 0h1m5 0h3m5 0h1m1 0h1m1 0h1m8 0h1m1 0h1m4 0h1m18 0h1m6 0h1M133 144.5h1m6 0h3m4 0h2m2 0h1m2 0h1m6 0h1m2 0h3m1 0h1m1 0h4m2 0h4m2 0h1m2 0h1m1 0h4m3 0h1m1 0h1m2 0h2m1 0h2m1 0h4m8 0h1m1 0h2m9 0h1m3 0h1m2 0h3m13 0h1m9 0h2m5 0h1M112 145.5h1m19 0h1m2 0h3m1 0h3m1 0h2m1 0h1m1 0h2m1 0h3m1 0h3m3 0h2m3 0h1m5 0h4m1 0h1m6 0h1m6 0h2m1 0h1m5 0h2m1 0h1m3 0h2m1 0h1m3 0h1m1 0h1m2 0h1m1 0h1m5 0h1m4 0h1m4 0h1m14 0h2m1 0h1m7 0h3m7 0h1m4 0h1M111 146.5h1m22 0h1m2 0h1m2 0h1m15 0h1m3 0h4m6 0h2m2 0h2m4 0h2m5 0h2m1 0h1m2 0h1m3 0h1m4 0h1m2 0h1m2 0h1m7 0h1m5 0h1m1 0h1m2 0h1m1 0h1m1 0h2m3 0h2m20 0h1m9 0h1m1 0h1m1 0h1M133 147.5h1m1 0h1m1 0h1m7 0h1m2 0h2m5 0h1m1 0h1m6 0h7m2 0h1m6 0h1m2 0h1m2 0h2m3 0h1m2 0h1m1 0h1m1 0h1m5 0h1m9 0h1m11 0h1m10 0h1m21 0h1m6 0h1m3 0h1M126 148.5h1m3 0h1m3 0h2m1 0h1m1 0h1m2 0h1m4 0h2m4 0h4m1 0h1m2 0h4m1 0h1m9 0h2m4 0h1m3 0h2m1 0h1m14 0h3m2 0h2m3 0h1m7 0h1m1 0h1m4 0h1m5 0h1m17 0h1m7 0h1M126 149.5h1m5 0h1m2 0h2m3 0h2m4 0h2m2 0h1m1 0h1m3 0h2m7 0h2m2 0h1m5 0h1m4 0h2m5 0h1m1 0h1m4 0h1m4 0h1m1 0h2m1 0h1m5 0h1m3 0h1m13 0h1m1 0h3m14 0h1m5 0h2m25 0h1M133 150.5h1m1 0h2m1 0h1m3 0h1m1 0h1m2 0h3m3 0h1m2 0h2m3 0h3m1 0h1m1 0h2m7 0h1m3 0h1m2 0h1m2 0h1m3 0h1m3 0h5m5 0h2m1 0h1m2 0h1m1 0h2m2 0h1m5 0h1m8 0h1m3 0h2m1 0h1m2 0h1m32 0h1m7 0h1M126 151.5h1m1 0h1m5 0h1m2 0h1m1 0h1m11 0h1m8 0h1m1 0h1m4 0h1m4 0h1m1 0h1m8 0h1m3 0h2m3 0h1m1 0h2m7 0h3m3 0h2m3 0h2m2 0h1m3 0h1m6 0h1m11 0h2m28 0h1M132 152.5h3m1 0h2m3 0h2m1 0h1m1 0h1m1 0h2m1 0h1m3 0h1m5 0h2m1 0h1m9 0h1m3 0h2m6 0h1m1 0h1m1 0h1m16 0h2m4 0h1m3 0h1m1 0h1m39 0h1m9 0h1M130 153.5h3m2 0h2m4 0h1m4 0h1m10 0h5m5 0h1m6 0h2m1 0h1m5 0h1m2 0h2m2 0h2m4 0h1m3 0h1m6 0h1m4 0h1m2 0h1m2 0h1m1 0h1M129 154.5h1m1 0h1m1 0h2m1 0h3m3 0h1m17 0h1m1 0h2m4 0h2m4 0h1m3 0h1m2 0h2m1 0h1m6 0h1m1 0h1m4 0h1m3 0h2m4 0h2m5 0h1m7 0h1m7 0h1m1 0h2m1 0h1M129 155.5h1m1 0h4m10 0h1m3 0h1m3 0h1m1 0h1m2 0h2m2 0h1m3 0h1m2 0h1m3 0h1m7 0h1m3 0h1m6 0h3m1 0h1m1 0h1m1 0h1m6 0h1m3 0h1m9 0h2m4 0h2m16 0h2m22 0h1M119 156.5h1m3 0h1m4 0h1m1 0h5m3 0h1m5 0h1m5 0h4m2 0h1m4 0h1m2 0h1m1 0h1m25 0h1m4 0h1m6 0h1m6 0h1m9 0h1m8 0h1m40 0h1m6 0h1M126 157.5h2m3 0h4m1 0h1m1 0h2m15 0h1m2 0h3m6 0h1m2 0h2m2 0h2m1 0h1m10 0h1m2 0h1m3 0h1m3 0h1m3 0h1m6 0h1m29 0h1m35 0h1M127 158.5h5m1 0h3m1 0h2m2 0h2m3 0h1m1 0h1m4 0h2m2 0h1m1 0h2m2 0h1m3 0h1m5 0h2m5 0h2m18 0h1m1 0h1m2 0h1m2 0h1m3 0h1m16 0h1m41 0h1M126 159.5h1m4 0h5m1 0h1m7 0h1m1 0h1m6 0h2m5 0h1m2 0h1m2 0h1m4 0h1m1 0h1m2 0h1m6 0h1m1 0h2m1 0h1m5 0h2m2 0h2m2 0h1m1 0h1m3 0h1m3 0h1m4 0h1m3 0h1m4 0h1m7 0h1M127 160.5h3m8 0h1m4 0h4m1 0h3m14 0h1m2 0h1m3 0h1m8 0h1m3 0h1m2 0h1m1 0h4m14 0h1m8 0h1m1 0h2m2 0h2m18 0h1M127 161.5h1m1 0h1m2 0h1m2 0h2m8 0h1m4 0h1m5 0h1m7 0h1m4 0h1m1 0h1m2 0h1m12 0h3m3 0h1m2 0h1m6 0h1m29 0h1m44 0h1M114 162.5h2m9 0h1m2 0h4m6 0h1m1 0h1m7 0h1m12 0h1m10 0h1m1 0h1m5 0h1m1 0h1m2 0h1m3 0h1m3 0h1m27 0h1m4 0h1m11 0h1M110 163.5h1m10 0h3m3 0h1m2 0h1m5 0h2m7 0h1m6 0h1m10 0h1m1 0h2m10 0h1m7 0h1m5 0h2m2 0h1m10 0h1m10 0h1m10 0h1m5 0h1m41 0h1M127 164.5h4m7 0h1m4 0h2m4 0h1m3 0h1m2 0h1m4 0h1m3 0h1m12 0h2m9 0h1m3 0h1m7 0h1m20 0h1M120 165.5h1m2 0h3m12 0h1m8 0h2m2 0h1m5 0h1m2 0h1m5 0h1m8 0h1m13 0h1m10 0h1m22 0h1M123 166.5h1m1 0h2m1 0h1m1 0h1m6 0h1m7 0h1m4 0h1m3 0h1m12 0h1m3 0h1m3 0h1m2 0h1m3 0h1m9 0h1m2 0h1m16 0h2m5 0h1m49 0h1m10 0h1M120 167.5h1m5 0h1m1 0h1m1 0h1m2 0h1m5 0h1m4 0h1m1 0h1m2 0h1m2 0h1m2 0h2m1 0h1m2 0h1m5 0h2m13 0h2m1 0h1m19 0h1M109 168.5h1m1 0h1m11 0h3m11 0h2m1 0h1m1 0h1m21 0h1m5 0h1m2 0h1m5 0h1m10 0h1m5 0h1m27 0h1m46 0h1M95 169.5h1m21 0h1m5 0h1m1 0h2m1 0h1m2 0h1m4 0h1m1 0h1m4 0h1m13 0h1m3 0h1m1 0h1m2 0h1m7 0h1m1 0h1m17 0h1m3 0h1m3 0h1M120 170.5h1m3 0h1m3 0h1m11 0h1m19 0h1m3 0h1m1 0h2m2 0h1m3 0h1m3 0h1m3 0h1m3 0h2m9 0h1m3 0h2M117 171.5h1m2 0h1m4 0h1m10 0h1m6 0h1m7 0h1m8 0h1m13 0h1m4 0h1m5 0h1m9 0h1m4 0h2M116 172.5h1m4 0h3m1 0h1m13 0h2m3 0h1m2 0h1m6 0h1m2 0h1m2 0h2m1 0h1m8 0h1m3 0h1m12 0h2m1 0h1m6 0h1m1 0h1m26 0h1M112 173.5h1m4 0h1m2 0h6m2 0h2m4 0h2m10 0h1m6 0h1m17 0h1m1 0h1m1 0h1m3 0h1m2 0h1m4 0h1m5 0h1m31 0h1M98 174.5h1m18 0h2m4 0h1m2 0h1m2 0h1m1 0h1m8 0h1m5 0h1m3 0h1m7 0h1m1 0h1m1 0h1m1 0h1m11 0h1m6 0h1m3 0h1m4 0h1M117 175.5h2m3 0h1m1 0h1m1 0h1m10 0h1m1 0h1m12 0h1m4 0h1m1 0h1m3 0h1m2 0h1m2 0h1m6 0h1m13 0h2m13 0h1M113 176.5h1m3 0h2m2 0h1m1 0h1m1 0h1m13 0h1m3 0h1m1 0h1m10 0h1m2 0h1m6 0h1m1 0h1m7 0h1m9 0h1m10 0h1m11 0h1m7 0h1m1 0h1M110 177.5h1m7 0h1m2 0h1m3 0h2m4 0h2m4 0h1m5 0h1m2 0h1m11 0h1m6 0h1m4 0h1m25 0h1M117 178.5h3m2 0h1m21 0h1m8 0h1m1 0h1m15 0h2m3 0h1m8 0h1m19 0h1M113 179.5h1m6 0h2m1 0h1m3 0h1m4 0h2m2 0h1m28 0h1m9 0h1M114 180.5h2m1 0h1m2 0h1m2 0h1m1 0h1m5 0h2m2 0h1m1 0h1m3 0h1m9 0h2m3 0h1m3 0h1m32 0h1m5 0h1m8 0h1M115 181.5h2m2 0h2m1 0h1m2 0h1m9 0h1m4 0h2m5 0h1m5 0h1m4 0h1m8 0h1m3 0h1M112 182.5h2m1 0h2m4 0h1m1 0h1m1 0h1m2 0h1m2 0h1m2 0h1m3 0h1m9 0h1m4 0h2m1 0h1m10 0h1m2 0h1m2 0h1M113 183.5h1m6 0h1m3 0h1m12 0h1m4 0h1m4 0h1m13 0h1m2 0h2m6 0h1m11 0h1m2 0h1m3 0h1M85 184.5h1m22 0h1m3 0h1m4 0h1m1 0h1m1 0h1m4 0h1m16 0h1m3 0h1m1 0h1m1 0h1m7 0h2m4 0h1m3 0h1m6 0h1m10 0h1M115 185.5h1m6 0h1m4 0h1m3 0h1m20 0h1m19 0h1M109 186.5h1m1 0h1m1 0h2m2 0h1m4 0h1m5 0h1m18 0h1m1 0h1m1 0h1m2 0h1m7 0h1m11 0h1m11 0h1M111 187.5h1m1 0h1m1 0h1m9 0h1m3 0h1m1 0h1m18 0h1m4 0h1m1 0h1m10 0h1m17 0h1M106 188.5h1m4 0h1m1 0h4m8 0h1m10 0h1m1 0h1m14 0h1m5 0h1m5 0h1m14 0h1m9 0h1M108 189.5h1m2 0h1m1 0h1m2 0h1m10 0h1m2 0h2m3 0h1m1 0h1m6 0h1m2 0h1m13 0h1M105 190.5h1m3 0h1m2 0h1m2 0h1m1 0h1m13 0h1m14 0h2m27 0h1m20 0h1M100 191.5h1m5 0h2m4 0h1m6 0h1m4 0h3m6 0h4m4 0h3m12 0h1m2 0h1m4 0h1m7 0h1m13 0h1M99 192.5h1m4 0h1m1 0h1m2 0h1m4 0h1m5 0h2m2 0h2m21 0h2m2 0h1m2 0h2m15 0h2M104 193.5h1m3 0h1m1 0h1m2 0h1m2 0h2m6 0h1m10 0h1m1 0h1m1 0h1m16 0h1m5 0h1M105 194.5h1m1 0h2m4 0h1m2 0h2m2 0h1m6 0h1m3 0h1m7 0h1m6 0h1m6 0h2m21 0h1M111 195.5h1m3 0h1m6 0h3m5 0h1m1 0h1m25 0h1m13 0h1M104 196.5h1m2 0h3m3 0h1m5 0h1m16 0h2m3 0h2m2 0h1m9 0h2m24 0h1M106 197.5h2m10 0h2m3 0h1m7 0h2m10 0h2M95 198.5h1m7 0h3m1 0h2m1 0h1m9 0h2m5 0h1m3 0h1m3 0h3m1 0h1m3 0h1m3 0h1m17 0h2m4 0h1M101 199.5h2m6 0h1m13 0h2m2 0h1m3 0h1m2 0h3M101 200.5h1m2 0h2m3 0h1m18 0h1m15 0h1M101 201.5h1m1 0h3m3 0h1m6 0h1m12 0h1m6 0h1m9 0h1m1 0h1m6 0h1m2 0h1M91 202.5h1m7 0h3m1 0h2m2 0h2m7 0h1m3 0h1m3 0h2m5 0h1m9 0h1m6 0h1M92 203.5h1m7 0h1m3 0h1m2 0h1m7 0h1m5 0h1m2 0h1m1 0h1m7 0h1m17 0h1M94 204.5h1m8 0h1m5 0h1m1 0h1m5 0h1m2 0h1m4 0h2m1 0h3m2 0h1M106 205.5h1m7 0h1m6 0h1m3 0h1m2 0h1m13 0h1m3 0h1M99 206.5h1m3 0h1m16 0h1m4 0h1m7 0h1m5 0h1m10 0h1m3 0h1m4 0h1M97 207.5h1m3 0h2m12 0h1m14 0h1m28 0h1M94 208.5h1m2 0h1m1 0h4m2 0h1m2 0h1m3 0h1m3 0h1m11 0h1m9 0h1m3 0h1M79 209.5h1m15 0h1m2 0h1m3 0h1m2 0h2m4 0h1m3 0h1m2 0h1m10 0h2M92 210.5h1m7 0h1m8 0h1m12 0h1m14 0h2m4 0h1m12 0h1m2 0h1M101 211.5h1m11 0h1m6 0h1m2 0h1m3 0h1m2 0h4m3 0h1M99 212.5h2m1 0h1m2 0h2m3 0h1m11 0h1m2 0h1m3 0h1m4 0h1m6 0h1M95 213.5h1m4 0h1m3 0h1m1 0h1m9 0h1m1 0h1m4 0h1m13 0h1m2 0h1m2 0h1m3 0h2M62 214.5h1m24 0h1m5 0h1m5 0h2m1 0h1m3 0h1m4 0h1m2 0h1m4 0h1m7 0h1m4 0h1m3 0h1m8 0h1M82 215.5h1m13 0h1m3 0h1m4 0h1m4 0h1m4 0h1m2 0h1m7 0h2M99 216.5h1m3 0h1m4 0h1m6 0h1m9 0h2m8 0h1m6 0h1M87 217.5h1m5 0h4m1 0h1m7 0h3m9 0h2m8 0h1m16 0h1m12 0h1M91 218.5h1m4 0h1m1 0h1m2 0h2m12 0h3m19 0h1m5 0h1M91 219.5h2m2 0h1m12 0h1m15 0h1m4 0h3M92 220.5h1m1 0h1m1 0h1m21 0h1M76 221.5h1m11 0h1m7 0h4m7 0h1m3 0h1m8 0h1m30 0h1m10 0h1M92 222.5h4m9 0h1m2 0h1m2 0h2m6 0h3m5 0h1m7 0h1M89 223.5h1m3 0h1m1 0h1m22 0h1m24 0h1M85 224.5h1m8 0h2m4 0h1m10 0h1m3 0h2m22 0h1m1 0h1M83 225.5h1m5 0h1m7 0h2m50 0h1M84 226.5h1m9 0h1m19 0h1m11 0h1m3 0h1m1 0h1m9 0h1m5 0h1m7 0h1M83 227.5h1m3 0h1m1 0h2m4 0h1m44 0h1m11 0h1M59 228.5h1m25 0h1m7 0h1m5 0h1m8 0h1m13 0h1m21 0h1M87 229.5h1m2 0h1m4 0h1m3 0h1m3 0h1m1 0h2m14 0h1m5 0h1m17 0h1m2 0h2m4 0h1M87 230.5h1m2 0h2m6 0h1m2 0h1m25 0h1m4 0h1M84 231.5h1m2 0h1m22 0h1m2 0h1m3 0h2m6 0h1M96 232.5h1m1 0h2m19 0h1m4 0h1m1 0h1m2 0h1m8 0h1m8 0h1M71 233.5h1m7 0h1m3 0h1m1 0h1m1 0h1m14 0h1m8 0h1m2 0h1m12 0h1M69 234.5h1m14 0h1m5 0h1m3 0h1m8 0h1m29 0h1M75 235.5h1m5 0h1m9 0h1m12 0h1m21 0h1m7 0h1m19 0h1M85 236.5h1m13 0h2m18 0h1m14 0h1M79 237.5h1m1 0h1m2 0h1m1 0h1m10 0h1m25 0h1m1 0h1M74 238.5h1m2 0h1m3 0h2m2 0h1m12 0h1m2 0h1m3 0h1m5 0h1m7 0h1m12 0h1m8 0h1M83 239.5h1m2 0h1m6 0h1m26 0h1M59 240.5h1m24 0h1m5 0h1m3 0h1m6 0h1m1 0h1m11 0h1M74 241.5h2m11 0h1M74 242.5h1m6 0h1m8 0h2m17 0h3M83 243.5h1m1 0h1m11 0h1m3 0h1m3 0h1m3 0h1m2 0h1m19 0h1m7 0h1M76 244.5h1m4 0h2m26 0h2m2 0h1m16 0h1m2 0h1M71 245.5h1m14 0h2m2 0h1m3 0h1M73 246.5h1m1 0h1m6 0h1m1 0h1m3 0h1m14 0h2m12 0h1m2 0h1m8 0h1M60 247.5h1m20 0h1m4 0h1m52 0h1M76 248.5h1m5 0h2m8 0h1m7 0h1m10 0h2M61 249.5h1m31 0h2m5 0h1M82 250.5h1m11 0h1m12 0h1M71 251.5h1m11 0h1m1 0h1m54 0h1m4 0h1M77 252.5h1m10 0h1m3 0h1m1 0h1m4 0h1m1 0h1m1 0h1m4 0h1m5 0h1M72 253.5h1m1 0h1m10 0h1m8 0h1m3 0h1m13 0h1m17 0h1M70 254.5h1m14 0h1m9 0h2m7 0h1m1 0h1m10 0h1m1 0h1m1 0h1M71 255.5h1m5 0h1m19 0h1m2 0h1M74 256.5h1m9 0h1m11 0h1M61 257.5h1m12 0h1m3 0h1M73 258.5h2m32 0h1M83 259.5h1m49 0h1M73 260.5h1m1 0h1m10 0h1M80 261.5h1m37 0h1M64 262.5h1m2 0h1m8 0h1m8 0h1m28 0h1M58 263.5h1m7 0h1m13 0h1m21 0h1M80 264.5h2m22 0h1m30 0h1M57 265.5h1m17 0h1M58 266.5h1m21 0h1m6 0h1m3 0h1M63 267.5h1m31 0h1m17 0h1M90 268.5h1m31 0h1M84 269.5h1m7 0h2M56 270.5h1m11 0h1M65 271.5h1m15 0h1M61 272.5h1M62 273.5h1m2 0h1m19 0h1M64 274.5h1m3 0h1m4 0h1m18 0h1M85 275.5h1M101 276.5h1M48 278.5h1m10 0h1m1 0h1m28 0h1m13 0h1M63 279.5h1m15 0h1M75 280.5h1m22 0h1M64 281.5h1M54 282.5h1m15 0h1m8 0h1m21 0h1M57 283.5h1m4 0h1m5 0h1M75 284.5h1M80 286.5h1M75 287.5h1" stroke="#3a3a3a" stroke-width="1" fill="none"/>
<path d="M438 55.5h1m11 0h1m1 0h3m2 0h1m1 0h3m1 0h2m2 0h5m1 0h1m2 0h1m1 0h2m1 0h3m1 0h9m5 0h2m2 0h2m4 0h2m3 0h2m3 0h1m3 0h1m1 0h1M442 56.5h1m7 0h1m1 0h4m1 0h2m5 0h1m3 0h2m1 0h4m3 0h2m1 0h4m1 0h7m2 0h2m1 0h6m1 0h2m2 0h1m1 0h4m2 0h1m1 0h1m2 0h1m2 0h1M443 57.5h1m4 0h1m1 0h1m1 0h1m1 0h1m4 0h2m5 0h5m1 0h3m1 0h5m2 0h2m3 0h4m3 0h1m1 0h2m3 0h4m2 0h2m1 0h1m1 0h1m2 0h1m1 0h2m4 0h1M440 58.5h1m5 0h1m9 0h1m2 0h1m2 0h2m1 0h1m3 0h2m2 0h10m1 0h7m1 0h3m1 0h1m3 0h3m1 0h2m2 0h1m1 0h2m1 0h3m1 0h3m1 0h3m1 0h1M449 59.5h1m2 0h2m4 0h3m2 0h2m3 0h2m4 0h4m1 0h6m1 0h2m1 0h3m1 0h2m2 0h1m2 0h1m1 0h2m1 0h4m3 0h1m1 0h2m3 0h2m2 0h2M445 60.5h1m6 0h3m2 0h3m2 0h4m1 0h2m1 0h2m2 0h4m3 0h2m1 0h1m1 0h1m2 0h1m2 0h1m1 0h1m3 0h3m1 0h1m1 0h5m1 0h4m1 0h2m1 0h1m1 0h5M444 61.5h1m1 0h2m2 0h1m1 0h1m1 0h1m1 0h3m1 0h1m3 0h4m2 0h2m1 0h2m1 0h5m1 0h5m1 0h8m1 0h1m2 0h5m1 0h1m3 0h3m1 0h3m8 0h1M445 62.5h1m1 0h1m3 0h2m1 0h1m2 0h2m2 0h1m2 0h1m1 0h1m1 0h5m2 0h1m1 0h2m3 0h1m4 0h2m1 0h4m2 0h2m1 0h2m3 0h2m1 0h1m2 0h2m4 0h1m1 0h6M443 63.5h2m3 0h1m4 0h1m4 0h3m1 0h2m1 0h2m2 0h3m7 0h1m2 0h2m1 0h7m1 0h2m1 0h2m4 0h4m11 0h1m1 0h2m2 0h2M443 64.5h1m2 0h2m7 0h4m4 0h2m1 0h1m2 0h8m1 0h1m2 0h6m1 0h3m1 0h6m1 0h2m1 0h1m1 0h7m2 0h2m3 0h2m1 0h1m1 0h2M436 65.5h1m1 0h1m6 0h1m7 0h2m1 0h1m1 0h1m2 0h5m5 0h1m2 0h1m3 0h11m2 0h5m3 0h1m3 0h4m3 0h1m2 0h1m1 0h5m1 0h1m1 0h3M438 66.5h2m2 0h2m4 0h5m1 0h2m2 0h2m2 0h4m1 0h2m2 0h1m1 0h3m1 0h3m1 0h2m1 0h5m4 0h2m4 0h1m1 0h3m1 0h3m1 0h1m1 0h1m3 0h1m1 0h2m2 0h1m3 0h1M435 67.5h1m4 0h1m1 0h1m4 0h1m1 0h4m1 0h2m1 0h3m2 0h2m5 0h1m5 0h1m2 0h2m1 0h2m1 0h7m2 0h1m1 0h3m3 0h1m1 0h5m1 0h1m1 0h3m2 0h4m2 0h3M443 68.5h2m6 0h2m2 0h2m2 0h2m1 0h2m1 0h1m2 0h1m1 0h7m1 0h4m1 0h3m1 0h1m1 0h1m2 0h2m1 0h1m2 0h3m2 0h1m1 0h1m1 0h1m1 0h1m3 0h4m2 0h3m1 0h1m1 0h1M437 69.5h3m4 0h2m1 0h2m1 0h1m1 0h1m1 0h2m2 0h1m1 0h2m3 0h1m1 0h1m1 0h1m1 0h1m2 0h1m1 0h1m1 0h1m3 0h4m2 0h1m1 0h1m2 0h1m1 0h1m2 0h4m3 0h2m4 0h1m1 0h6m1 0h1m2 0h1M438 70.5h1m2 0h1m2 0h1m10 0h1m2 0h1m3 0h2m1 0h1m3 0h2m1 0h1m1 0h2m3 0h1m4 0h3m3 0h3m1 0h2m2 0h3m2 0h1m2 0h1m9 0h2m1 0h2m2 0h1M428 71.5h1m9 0h1m1 0h1m1 0h1m3 0h1m1 0h4m3 0h2m1 0h2m2 0h1m1 0h1m3 0h6m1 0h1m2 0h1m1 0h2m1 0h1m1 0h2m1 0h1m1 0h4m3 0h1m1 0h2m3 0h2m1 0h1m1 0h1m2 0h3m3 0h1m1 0h3m1 0h2M435 72.5h1m2 0h1m1 0h1m3 0h3m1 0h3m1 0h1m1 0h2m1 0h7m3 0h1m1 0h3m2 0h2m1 0h1m6 0h2m2 0h1m4 0h1m1 0h3m1 0h2m4 0h5m1 0h1m1 0h5m1 0h2m1 0h3M430 73.5h1m3 0h1m9 0h2m6 0h2m2 0h1m3 0h2m3 0h2m2 0h2m2 0h1m7 0h2m2 0h1m1 0h2m6 0h2m2 0h1m1 0h1m1 0h3m4 0h1m2 0h8m4 0h1M438 74.5h2m2 0h1m1 0h1m7 0h1m1 0h1m3 0h1m1 0h3m1 0h2m2 0h1m1 0h3m9 0h3m1 0h1m6 0h2m1 0h2m4 0h1m1 0h1m1 0h1m1 0h2m1 0h1m2 0h4m4 0h1m1 0h2M444 75.5h1m3 0h1m3 0h1m4 0h1m1 0h1m1 0h1m2 0h4m1 0h3m3 0h1m1 0h2m1 0h1m1 0h1m1 0h3m4 0h2m1 0h2m1 0h1m4 0h2m2 0h1m2 0h2m3 0h6m1 0h1m1 0h2M438 76.5h2m3 0h2m2 0h1m1 0h2m1 0h1m2 0h3m3 0h4m2 0h9m1 0h1m1 0h1m2 0h3m2 0h3m1 0h1m3 0h3m1 0h1m4 0h3m1 0h1m1 0h1m1 0h2m5 0h5M436 77.5h1m1 0h1m1 0h1m5 0h1m4 0h1m1 0h1m1 0h1m1 0h3m2 0h1m1 0h4m3 0h1m1 0h1m1 0h6m1 0h1m1 0h1m5 0h1m2 0h1m1 0h4m4 0h3m2 0h1m2 0h4m1 0h2m3 0h2m1 0h2M427 78.5h1m7 0h3m2 0h2m2 0h1m2 0h1m4 0h4m7 0h1m2 0h1m1 0h1m1 0h5m1 0h5m2 0h1m1 0h1m3 0h1m1 0h4m1 0h3m1 0h1m1 0h4m1 0h4m1 0h2m1 0h1m9 0h1M425 79.5h1m5 0h1m4 0h1m1 0h1m2 0h3m1 0h5m6 0h2m1 0h3m1 0h3m3 0h1m1 0h2m2 0h2m1 0h1m1 0h2m1 0h1m1 0h1m5 0h2m1 0h1m1 0h1m2 0h1m2 0h4m2 0h5m1 0h1m2 0h2m1 0h1M429 80.5h3m2 0h1m1 0h2m6 0h2m2 0h4m3 0h2m2 0h2m2 0h2m1 0h2m6 0h2m3 0h4m4 0h2m1 0h10m2 0h2m2 0h6m2 0h1m2 0h4m1 0h2m1 0h1M433 81.5h5m1 0h1m3 0h1m3 0h1m1 0h1m1 0h2m3 0h2m1 0h1m1 0h1m1 0h1m1 0h1m2 0h1m1 0h6m4 0h6m2 0h5m1 0h2m3 0h1m1 0h1m1 0h1m1 0h2m1 0h4m1 0h8m1 0h3M428 82.5h1m2 0h1m2 0h1m1 0h1m2 0h1m3 0h2m4 0h3m3 0h2m1 0h1m2 0h1m2 0h1m1 0h3m1 0h5m2 0h3m1 0h1m1 0h1m1 0h4m1 0h3m2 0h4m1 0h6m1 0h3m1 0h10m2 0h2M428 83.5h1m3 0h2m2 0h2m1 0h1m2 0h1m1 0h1m2 0h1m1 0h2m1 0h1m1 0h3m2 0h2m3 0h3m1 0h1m1 0h4m1 0h3m2 0h8m1 0h7m1 0h16m1 0h9M423 84.5h1m4 0h1m1 0h2m3 0h2m1 0h3m4 0h1m1 0h1m1 0h2m5 0h2m3 0h2m1 0h5m1 0h5m1 0h2m1 0h1m1 0h2m1 0h1m2 0h4m1 0h7m1 0h16m2 0h2m1 0h2m1 0h2M424 85.5h1m3 0h1m4 0h1m4 0h2m5 0h1m1 0h5m2 0h1m3 0h2m1 0h1m3 0h2m1 0h2m1 0h5m1 0h2m1 0h8m1 0h22m1 0h1m1 0h9M421 86.5h1m8 0h1m3 0h1m2 0h2m3 0h2m3 0h5m1 0h4m2 0h6m1 0h8m1 0h22m1 0h10m1 0h1m1 0h1m1 0h5m2 0h4m1 0h1M427 87.5h2m1 0h4m3 0h3m2 0h2m2 0h2m1 0h3m3 0h1m1 0h1m2 0h1m2 0h1m2 0h1m4 0h50m1 0h3M425 88.5h1m6 0h1m1 0h1m1 0h2m2 0h2m2 0h1m1 0h1m1 0h2m2 0h1m2 0h1m1 0h1m1 0h2m1 0h1m2 0h48m1 0h1m1 0h1m2 0h7M425 89.5h1m4 0h1m1 0h1m6 0h3m4 0h2m1 0h1m2 0h5m1 0h3m1 0h6m1 0h44m2 0h2m1 0h8M427 90.5h1m4 0h1m6 0h5m1 0h4m1 0h1m3 0h1m1 0h1m1 0h2m2 0h64M422 91.5h1m1 0h1m3 0h2m3 0h1m6 0h1m1 0h1m2 0h1m1 0h2m2 0h2m3 0h1m2 0h2m1 0h57m1 0h2m1 0h2M423 92.5h1m2 0h2m3 0h2m2 0h1m1 0h1m3 0h1m3 0h2m1 0h2m4 0h2m1 0h5m1 0h53m1 0h6m2 0h1M419 93.5h1m2 0h1m2 0h1m6 0h1m5 0h1m1 0h1m1 0h2m1 0h5m1 0h11m1 0h52m1 0h3m4 0h2M414 94.5h1m8 0h3m7 0h1m1 0h1m4 0h2m1 0h1m2 0h2m2 0h4m1 0h55m1 0h7m1 0h4m2 0h1M419 95.5h1m1 0h1m5 0h2m2 0h1m2 0h1m2 0h3m2 0h1m1 0h71m1 0h3m4 0h3M409 96.5h1m12 0h1m1 0h1m4 0h1m1 0h4m1 0h1m1 0h2m2 0h1m2 0h7m1 0h61m1 0h4m1 0h3m2 0h1M418 97.5h2m2 0h1m5 0h2m1 0h1m1 0h1m1 0h3m2 0h2m1 0h71m1 0h3m1 0h1m1 0h2m1 0h2M416 98.5h1m1 0h1m2 0h1m3 0h1m13 0h1m2 0h1m1 0h63m2 0h1m1 0h1m1 0h1m2 0h1m1 0h1m3 0h2M418 99.5h1m4 0h1m3 0h2m5 0h1m2 0h4m1 0h67m1 0h1m1 0h3m1 0h1m3 0h3m1 0h1M420 100.5h2m2 0h1m5 0h1m2 0h2m2 0h4m1 0h70m1 0h1m3 0h3m1 0h3M417 101.5h1m4 0h1m3 0h4m2 0h1m2 0h70m1 0h7m2 0h1m7 0h2M418 102.5h1m2 0h1m3 0h2m1 0h4m1 0h1m2 0h5m1 0h66m1 0h2m2 0h1m3 0h1m1 0h3m1 0h1m1 0h1M419 103.5h1m2 0h1m3 0h1m1 0h81m1 0h1m3 0h1m2 0h3m1 0h2m2 0h1M411 104.5h1m1 0h1m1 0h1m4 0h1m4 0h1m2 0h78m1 0h7m5 0h1m5 0h1M414 105.5h2m1 0h1m3 0h1m3 0h3m1 0h71m1 0h4m2 0h1m4 0h2m1 0h3m1 0h1m2 0h3M411 106.5h1m1 0h1m1 0h1m2 0h11m1 0h69m1 0h3m2 0h1m9 0h1m1 0h6m1 0h1M416 107.5h4m1 0h78m1 0h3m6 0h1m1 0h1m3 0h1m2 0h4m1 0h1M411 108.5h1m1 0h2m4 0h73m1 0h7m1 0h1m2 0h1m1 0h2m3 0h3m1 0h2m1 0h2m4 0h2M413 109.5h3m2 0h4m1 0h76m1 0h2m1 0h1m3 0h1m9 0h5m2 0h1M413 110.5h3m3 0h70m2 0h2m1 0h2m1 0h3m1 0h1m1 0h1m2 0h2m5 0h2m3 0h2m3 0h3M398 111.5h1m8 0h1m5 0h1m1 0h3m1 0h71m1 0h1m1 0h5m2 0h1m1 0h1m2 0h1m3 0h2m5 0h2m3 0h2M406 112.5h2m4 0h74m2 0h4m1 0h3m3 0h2m1 0h1m1 0h1m3 0h1m2 0h1m1 0h1m1 0h2m1 0h1m4 0h1M400 113.5h1m3 0h1m1 0h7m1 0h70m1 0h2m2 0h3m1 0h2m1 0h1m9 0h1m1 0h1m2 0h2m2 0h1m5 0h3M404 114.5h1m3 0h3m1 0h67m1 0h7m1 0h2m2 0h3m12 0h1m4 0h3m1 0h4m1 0h2M399 115.5h1m1 0h1m5 0h1m1 0h69m1 0h3m1 0h3m1 0h2m2 0h1m2 0h2m2 0h2m2 0h3m2 0h1m4 0h1m3 0h2m2 0h3m2 0h1M406 116.5h1m1 0h3m1 0h67m1 0h4m2 0h1m2 0h4m3 0h3m1 0h1m1 0h3m1 0h1m6 0h1m2 0h2m3 0h1m3 0h1M402 117.5h1m2 0h3m1 0h56m1 0h14m2 0h1m1 0h5m2 0h4m1 0h1m3 0h1m1 0h1m2 0h3m6 0h1m1 0h2m1 0h2m2 0h1M394 118.5h1m7 0h2m3 0h62m1 0h4m1 0h5m1 0h1m1 0h1m1 0h3m1 0h3m6 0h1m2 0h1m4 0h1m1 0h1m6 0h3m3 0h1M393 119.5h1m7 0h1m1 0h1m1 0h70m2 0h1m1 0h5m4 0h1m6 0h1m3 0h1m3 0h1m7 0h1m1 0h2m5 0h2m3 0h1M391 120.5h1m5 0h2m4 0h65m1 0h2m1 0h1m1 0h1m4 0h2m4 0h3m5 0h3m3 0h1m1 0h2m1 0h3m1 0h1m3 0h1m7 0h1m3 0h1M396 121.5h3m1 0h57m1 0h10m1 0h2m3 0h1m1 0h4m1 0h2m1 0h1m1 0h5m1 0h3m4 0h1m1 0h1m2 0h1m2 0h1m10 0h1m1 0h2m3 0h1M395 122.5h1m1 0h53m1 0h5m1 0h4m1 0h3m1 0h1m2 0h3m3 0h2m1 0h3m6 0h2m5 0h2m3 0h1m11 0h1m6 0h3M391 123.5h1m1 0h1m2 0h5m1 0h48m1 0h16m2 0h3m2 0h6m2 0h1m1 0h1m4 0h2m11 0h1m8 0h1m1 0h1m1 0h1m6 0h1m1 0h1M392 124.5h2m3 0h60m1 0h1m1 0h2m1 0h2m1 0h2m1 0h1m2 0h2m2 0h2m2 0h1m2 0h2m3 0h1m4 0h1m2 0h1m22 0h2M390 125.5h1m2 0h34m1 0h35m2 0h1m1 0h1m4 0h1m6 0h1m1 0h4m8 0h1m4 0h1m2 0h1m1 0h1m1 0h2m3 0h1m5 0h3m4 0h1M391 126.5h1m3 0h56m1 0h1m2 0h2m5 0h1m1 0h2m1 0h2m3 0h1m1 0h1m3 0h2m3 0h4m1 0h1m1 0h1m1 0h1m6 0h1m5 0h1m2 0h2m4 0h2m6 0h1M380 127.5h1m13 0h52m2 0h3m3 0h2m2 0h8m1 0h1m1 0h2m1 0h2m2 0h3m1 0h1m1 0h2m1 0h1m4 0h1m8 0h1m1 0h3m1 0h1m1 0h1m3 0h1m11 0h2M382 128.5h1m4 0h1m1 0h1m1 0h35m1 0h5m1 0h6m1 0h5m2 0h3m1 0h5m1 0h1m2 0h1m2 0h3m8 0h1m8 0h1m6 0h1m2 0h2m9 0h1m4 0h1m1 0h1m5 0h1m6 0h1M381 129.5h1m5 0h1m1 0h29m1 0h9m1 0h1m1 0h5m1 0h2m2 0h6m2 0h2m1 0h7m1 0h2m7 0h1m2 0h2m3 0h1m2 0h1m1 0h1m1 0h1m4 0h1m4 0h2m21 0h1m7 0h1M375 130.5h1m10 0h5m1 0h40m1 0h2m1 0h6m3 0h4m4 0h2m2 0h1m1 0h2m6 0h3m1 0h1m1 0h1m3 0h1m1 0h1m3 0h1m3 0h1m3 0h1m9 0h1M384 131.5h1m1 0h1m1 0h6m1 0h29m1 0h1m1 0h3m1 0h4m1 0h1m1 0h1m1 0h1m2 0h4m4 0h2m2 0h2m2 0h2m3 0h1m2 0h2m1 0h1m2 0h1m1 0h1m6 0h2m1 0h1m5 0h2m12 0h1m1 0h1m2 0h1m3 0h1m3 0h1M384 132.5h2m1 0h29m2 0h8m3 0h1m1 0h2m1 0h1m3 0h2m1 0h1m1 0h1m3 0h5m2 0h5m2 0h1m6 0h1m1 0h2m3 0h1m3 0h1m7 0h1m1 0h1m21 0h1m9 0h2M387 133.5h25m2 0h5m1 0h2m1 0h5m1 0h2m1 0h1m3 0h1m1 0h2m1 0h3m1 0h1m1 0h2m1 0h4m5 0h1m3 0h1m2 0h1m1 0h2m1 0h1m1 0h1m2 0h1m2 0h1m2 0h1m2 0h1m6 0h1m22 0h1m4 0h1M385 134.5h25m1 0h5m3 0h1m1 0h3m2 0h1m1 0h1m1 0h1m2 0h1m1 0h1m2 0h1m1 0h4m7 0h2m1 0h3m1 0h1m11 0h1m1 0h1m2 0h1m5 0h1m1 0h1m3 0h1m7 0h1m11 0h1M386 135.5h18m1 0h6m2 0h1m1 0h1m1 0h7m1 0h3m1 0h1m1 0h2m2 0h1m1 0h1m1 0h13m2 0h4m2 0h1m1 0h1m3 0h4m2 0h1m11 0h2m3 0h1m11 0h1M370 136.5h1m9 0h1m4 0h19m1 0h1m10 0h1m1 0h5m2 0h1m3 0h3m1 0h2m3 0h1m2 0h1m6 0h1m6 0h1m2 0h1m2 0h1m1 0h2m2 0h1m2 0h2m13 0h1m15 0h1m5 0h1m5 0h1m6 0h1m1 0h1M367 137.5h1m6 0h1m2 0h1m7 0h15m1 0h3m1 0h2m1 0h2m2 0h1m1 0h2m1 0h1m1 0h8m1 0h3m2 0h1m2 0h3m1 0h1m3 0h2m8 0h2m1 0h2m5 0h2m5 0h1m2 0h1m15 0h1m18 0h2m4 0h1m9 0h1M360 138.5h1m3 0h1m8 0h1m11 0h1m1 0h9m1 0h1m1 0h2m1 0h1m1 0h1m5 0h2m2 0h1m10 0h2m2 0h1m1 0h1m8 0h1m3 0h1m1 0h1m2 0h1m2 0h1m2 0h3m2 0h2m1 0h1m1 0h3m9 0h3m6 0h1m3 0h1m21 0h1m8 0h1m3 0h1M379 139.5h1m6 0h8m1 0h1m1 0h1m7 0h3m2 0h3m1 0h4m10 0h1m6 0h1m3 0h1m3 0h1m7 0h1m2 0h1m6 0h1m9 0h2m2 0h3m10 0h2M372 140.5h1m7 0h1m4 0h1m1 0h3m1 0h3m1 0h1m1 0h2m1 0h3m1 0h1m1 0h1m1 0h3m6 0h1m3 0h4m5 0h1m1 0h1m5 0h1m5 0h1m2 0h2m2 0h1m8 0h3m1 0h2m1 0h1m4 0h1m3 0h1m1 0h1m11 0h1m27 0h1M363 141.5h1m7 0h1m12 0h3m1 0h1m1 0h3m5 0h1m1 0h1m6 0h2m2 0h2m6 0h1m2 0h2m4 0h2m1 0h3m2 0h1m2 0h2m1 0h3m2 0h1m1 0h3m1 0h1m1 0h1m4 0h1m10 0h2m4 0h1m2 0h1m2 0h1m27 0h1m2 0h1m5 0h1m1 0h1M384 142.5h2m1 0h3m1 0h1m3 0h1m2 0h1m2 0h2m4 0h3m4 0h1m6 0h1m2 0h1m2 0h1m1 0h1m12 0h1m12 0h1m4 0h1m4 0h2m3 0h1m4 0h1m10 0h2m1 0h1m25 0h1M366 143.5h1m8 0h1m8 0h7m1 0h1m10 0h2m3 0h1m3 0h1m4 0h1m3 0h3m2 0h1m1 0h2m1 0h1m4 0h1m4 0h3m1 0h1m1 0h1m2 0h1m4 0h2m5 0h2m7 0h1m1 0h1m1 0h1m8 0h2m20 0h1m7 0h1m9 0h1M376 144.5h1m8 0h5m2 0h1m7 0h1m2 0h2m2 0h1m1 0h1m4 0h1m2 0h1m1 0h1m3 0h1m2 0h2m1 0h1m3 0h2m5 0h1m3 0h1m1 0h2m10 0h1m3 0h1m1 0h2m5 0h3m15 0h1m5 0h1m29 0h1M382 145.5h1m1 0h1m1 0h7m3 0h1m13 0h3m1 0h1m3 0h1m5 0h1m3 0h1m2 0h1m3 0h2m3 0h1m5 0h1m4 0h1m4 0h1m1 0h1m3 0h1m2 0h1m5 0h2m19 0h1M370 146.5h1m7 0h1m2 0h4m1 0h5m5 0h2m4 0h2m1 0h1m5 0h1m5 0h1m3 0h1m1 0h1m3 0h3m2 0h1m4 0h1m10 0h1m3 0h1m5 0h1m10 0h1m7 0h1M359 147.5h1m1 0h1m1 0h1m15 0h4m1 0h2m1 0h2m5 0h1m3 0h1m10 0h2m2 0h1m10 0h2m10 0h1m1 0h1m2 0h1m1 0h1m6 0h2m2 0h1m2 0h1m2 0h1m1 0h1m2 0h1m5 0h1m35 0h1m17 0h1M379 148.5h4m1 0h3m2 0h1m2 0h1m4 0h1m2 0h2m3 0h1m1 0h1m1 0h1m8 0h1m5 0h2m4 0h2m1 0h1m2 0h1m1 0h1m5 0h1m3 0h1m4 0h1m3 0h1m1 0h1m10 0h1m41 0h2m2 0h1m6 0h1M378 149.5h1m1 0h1m3 0h3m2 0h1m1 0h2m1 0h1m1 0h1m7 0h1m1 0h5m1 0h1m11 0h1m5 0h1m1 0h1m13 0h1m1 0h2m1 0h1m7 0h1m1 0h1m4 0h2m7 0h1m1 0h1m7 0h1m12 0h1M379 150.5h2m1 0h3m1 0h3m4 0h1m2 0h1m2 0h1m2 0h1m5 0h1m1 0h1m5 0h1m18 0h1m1 0h2m2 0h1m8 0h1m3 0h1m6 0h1m7 0h1m40 0h1m6 0h1M375 151.5h1m3 0h1m1 0h5m8 0h1m1 0h1m5 0h1m9 0h1m4 0h1m9 0h2m4 0h2m19 0h2m7 0h1m3 0h1M374 152.5h2m1 0h2m2 0h3m2 0h2m2 0h1m2 0h1m1 0h1m4 0h1m15 0h1m2 0h1m6 0h1m3 0h1m7 0h1m13 0h1m16 0h1M375 153.5h3m1 0h1m1 0h5m1 0h1m5 0h1m1 0h1m2 0h1m16 0h1m6 0h1m1 0h1m2 0h2m12 0h4m6 0h1m12 0h1M367 154.5h1m6 0h2m3 0h3m1 0h2m4 0h1m9 0h1m14 0h1m1 0h1m10 0h1m82 0h1M362 155.5h1m15 0h1m1 0h1m1 0h4m2 0h1m37 0h1m2 0h1m6 0h1m31 0h1M376 156.5h1m1 0h3m2 0h4m3 0h1m5 0h1m11 0h1m13 0h1m6 0h1m8 0h1m10 0h1m1 0h1m5 0h1m1 0h1m10 0h1m4 0h1m7 0h1M375 157.5h4m2 0h2m2 0h1m3 0h1m10 0h1m18 0h1m3 0h1m13 0h1m14 0h2m11 0h1m6 0h1m50 0h1M359 158.5h3m1 0h1m4 0h1m6 0h1m1 0h6m1 0h1m3 0h1m7 0h1m32 0h1m7 0h1m4 0h1m15 0h1M369 159.5h2m3 0h3m1 0h4m1 0h1m22 0h1m1 0h2m8 0h1m8 0h1m2 0h1m36 0h1m9 0h1M373 160.5h4m2 0h2m1 0h1m6 0h1m8 0h1m17 0h1m6 0h1m3 0h1m4 0h1m9 0h1m12 0h1m1 0h1m2 0h1m5 0h1M355 161.5h2m13 0h1m2 0h1m1 0h3m1 0h1m2 0h2m44 0h1m21 0h1m2 0h1m15 0h1m3 0h1M369 162.5h2m4 0h4m16 0h1m7 0h1m13 0h1m1 0h1m4 0h1m19 0h1m8 0h2m14 0h1M367 163.5h1m1 0h2m2 0h1m1 0h4m2 0h1m39 0h1m11 0h1m9 0h1m16 0h1M354 164.5h1m12 0h1m5 0h4m1 0h3m31 0h1m9 0h1m18 0h2m1 0h1m1 0h1m5 0h1M369 165.5h6m1 0h1m54 0h1m4 0h1m11 0h1m71 0h1M351 166.5h1m18 0h7m4 0h1m32 0h1m19 0h2M368 167.5h2m1 0h1m1 0h3m1 0h1m1 0h1m27 0h1M360 168.5h1m5 0h1m3 0h2m3 0h2m27 0h1m12 0h1m10 0h1M360 169.5h1m3 0h1m2 0h1m3 0h4m1 0h3m31 0h1m2 0h1m4 0h1M361 170.5h1m3 0h3m1 0h5m1 0h1m8 0h1m12 0h1m24 0h1m16 0h1m10 0h1m58 0h1M363 171.5h1m2 0h2m2 0h3m1 0h2m1 0h1m10 0h1m26 0h1m1 0h1m1 0h1M354 172.5h1m12 0h5m32 0h1M353 173.5h1m12 0h4m1 0h1m1 0h1m16 0h1m18 0h1m12 0h1M364 174.5h1m2 0h3m1 0h1m2 0h1m3 0h1m12 0h1m9 0h1m11 0h1M348 175.5h1m6 0h1m7 0h1m1 0h1m1 0h1m1 0h1m2 0h1m4 0h1m50 0h1m10 0h1M360 176.5h1m1 0h1m2 0h4m1 0h4M349 177.5h1m11 0h4m2 0h3m2 0h1m14 0h1m15 0h1M357 178.5h1m2 0h2m1 0h4m1 0h1m1 0h1m61 0h1m1 0h1M352 179.5h1m6 0h1m2 0h1m1 0h3m1 0h3m1 0h3M362 180.5h1m1 0h4m2 0h1m15 0h1m43 0h1M351 181.5h1m6 0h3m1 0h6m3 0h1m13 0h1m25 0h1M360 182.5h3m1 0h4m6 0h1m35 0h1M359 183.5h1m1 0h1m1 0h4m16 0h1m23 0h1M352 184.5h1m2 0h1m7 0h1m1 0h2M339 185.5h1m14 0h1m4 0h5m1 0h2m1 0h1m35 0h1M341 186.5h1m9 0h1m4 0h1m3 0h2m1 0h1M349 187.5h1m7 0h1m1 0h1m1 0h3m7 0h1m6 0h1m17 0h1M348 188.5h1m1 0h1m6 0h8m15 0h1M355 189.5h2m1 0h1m1 0h1m2 0h2m5 0h1M348 190.5h1m4 0h1m1 0h3m5 0h1m16 0h1M338 191.5h1m3 0h1m12 0h1m1 0h5m2 0h1M351 192.5h1m4 0h5M344 193.5h2m5 0h1m3 0h1m1 0h1m2 0h1M351 194.5h1m1 0h6m1 0h2m5 0h1m1 0h1M344 195.5h1m3 0h1m3 0h1m1 0h1m2 0h4m10 0h1M349 196.5h1m3 0h3m1 0h2m1 0h2M351 197.5h1m6 0h1m8 0h1M344 198.5h1m6 0h3m1 0h4m1 0h1M349 199.5h1m1 0h1m2 0h1m1 0h2m8 0h1M335 200.5h1m6 0h1m3 0h1m3 0h1m2 0h1m2 0h1m1 0h1M345 201.5h1m4 0h6M352 202.5h2m2 0h2M346 203.5h2m1 0h4m2 0h1M343 204.5h1m3 0h2m1 0h1m1 0h1m4 0h1M344 205.5h1m3 0h3m1 0h1M345 206.5h2m1 0h5m1 0h1m4 0h1M332 207.5h1m11 0h1m2 0h3m2 0h1M324 208.5h1m13 0h2m3 0h1m1 0h1m1 0h3M317 209.5h1m26 0h2m1 0h1m2 0h1M318 210.5h1m19 0h1m1 0h2m3 0h3m2 0h1m4 0h1M342 211.5h3m1 0h1m3 0h1m1 0h1M327 212.5h1m5 0h1m4 0h1m2 0h3m1 0h4m1 0h3M330 213.5h1m1 0h1m7 0h3m1 0h3m2 0h1M339 214.5h1m1 0h1m1 0h7M340 215.5h1m1 0h1m1 0h1m1 0h2M323 216.5h1m14 0h2m2 0h2m1 0h2m1 0h1m1 0h1M315 217.5h1m20 0h1m1 0h1m1 0h2m1 0h2m1 0h1m3 0h1M322 218.5h1m3 0h1m12 0h3m2 0h1m1 0h1M331 219.5h1m2 0h2m3 0h1m4 0h1M337 220.5h1m1 0h1m2 0h2m2 0h1m3 0h1M324 221.5h1m9 0h1m1 0h2m2 0h1m1 0h1m1 0h1m1 0h1M330 222.5h1m2 0h3m6 0h2M328 223.5h1m4 0h1m1 0h1m7 0h1m5 0h1M335 224.5h1m1 0h1m4 0h1m1 0h1M327 225.5h1m6 0h2m1 0h1m4 0h2m4 0h1M298 226.5h1m36 0h2m1 0h1m1 0h2M332 227.5h3m3 0h1m3 0h1M329 228.5h1m1 0h1m1 0h2m1 0h3m10 0h1M314 229.5h1m16 0h2m1 0h1M307 230.5h1m19 0h1m6 0h1m5 0h1M328 231.5h1m2 0h1m3 0h1m3 0h2M330 233.5h1m3 0h1M309 234.5h1m17 0h2m2 0h2m1 0h2m1 0h2M326 235.5h2m1 0h2m3 0h1M326 236.5h1m2 0h4m2 0h2M327 237.5h3m1 0h2m1 0h2m12 0h1M318 238.5h1m3 0h1m4 0h1m2 0h1m11 0h1m9 0h1M323 239.5h2m2 0h1m2 0h1m5 0h1M322 240.5h1m2 0h6m13 0h1m11 0h1M317 241.5h1m4 0h1m2 0h2m1 0h1m2 0h1M325 242.5h1m3 0h1m18 0h1M323 243.5h1m12 0h1m5 0h1M337 244.5h1m8 0h1M305 245.5h1m6 0h1m7 0h1m3 0h3M314 246.5h1m8 0h1m1 0h3m5 0h1M319 247.5h1m3 0h2m6 0h1M308 248.5h1m10 0h1m3 0h1m1 0h1m2 0h1M317 249.5h1m5 0h2m1 0h3m10 0h1M321 250.5h2m2 0h2m11 0h1M308 251.5h1m4 0h1m2 0h1m2 0h1m1 0h4M304 252.5h1m17 0h1M314 253.5h1m6 0h1M321 254.5h1m2 0h1M308 255.5h1m1 0h1m4 0h1M310 256.5h1m2 0h1m3 0h4m2 0h1M316 257.5h4m2 0h1M312 258.5h1m2 0h3m7 0h1M302 259.5h1m3 0h1m11 0h1m1 0h1m5 0h1M314 260.5h3m3 0h1M300 261.5h1m2 0h1m2 0h1m1 0h1m2 0h1m2 0h2m1 0h2m1 0h2M306 262.5h1m1 0h1m4 0h2m1 0h2m2 0h1m1 0h1m1 0h1M309 263.5h1m1 0h3m1 0h1m2 0h1m1 0h1m4 0h1M310 264.5h3m1 0h4m3 0h2m10 0h1m1 0h1M307 265.5h2m4 0h4m2 0h1m1 0h1m1 0h1M306 266.5h3m3 0h3m3 0h4m1 0h1m2 0h1m1 0h1M304 267.5h1m4 0h1m1 0h1m1 0h1m1 0h2m1 0h3m1 0h2m2 0h1M302 268.5h1m8 0h1m2 0h2m1 0h2M309 269.5h4m5 0h1m5 0h2m2 0h1M310 270.5h2m1 0h1m2 0h1m1 0h2m2 0h1m1 0h1m13 0h1M309 271.5h1m4 0h1m2 0h1m1 0h1m1 0h4m5 0h1M311 272.5h2m3 0h1m1 0h1M316 273.5h1m3 0h1m1 0h1m2 0h1m1 0h1M314 274.5h1m1 0h1m2 0h1m5 0h1m8 0h1M318 275.5h2m2 0h2m1 0h1m5 0h1M310 276.5h1m8 0h1m2 0h3m9 0h1M318 277.5h3m1 0h2m10 0h1M306 278.5h2m7 0h1m1 0h1m3 0h2m2 0h1M321 279.5h1M327 280.5h1M314 281.5h1M321 283.5h1" stroke="#3a3a3a" stroke-width="1" fill="none"/>
<path d="M691 55.5h1m4 0h1m1 0h2m4 0h2m3 0h1m1 0h2m2 0h3m2 0h3m4 0h2m2 0h3m1 0h3m1 0h2m1 0h2m5 0h3m2 0h6m3 0h6m1 0h9m1 0h1m1 0h1M696 56.5h3m2 0h1m2 0h2m1 0h1m1 0h1m2 0h2m1 0h4m2 0h5m2 0h3m2 0h8m1 0h1m1 0h1m1 0h1m1 0h2m1 0h2m1 0h6m1 0h3m2 0h1m1 0h1m1 0h1m1 0h2m1 0h5m2 0h1M688 57.5h1m3 0h1m4 0h1m3 0h3m3 0h1m2 0h1m1 0h2m2 0h3m2 0h2m1 0h3m3 0h1m1 0h3m1 0h3m1 0h4m1 0h2m1 0h6m1 0h1m4 0h2m1 0h2m1 0h1m1 0h6m1 0h2m2 0h1m1 0h1m1 0h1M693 58.5h1m3 0h3m3 0h1m4 0h4m2 0h4m3 0h1m1 0h3m1 0h4m2 0h7m1 0h3m1 0h4m2 0h3m1 0h1m1 0h1m2 0h1m1 0h4m1 0h6m2 0h2m1 0h1m3 0h2M692 59.5h3m2 0h1m5 0h1m2 0h1m1 0h4m1 0h2m1 0h1m1 0h2m1 0h6m1 0h1m1 0h2m3 0h6m1 0h2m1 0h4m2 0h5m1 0h4m1 0h1m1 0h1m1 0h5m1 0h3m5 0h1M689 60.5h1m4 0h1m6 0h5m3 0h1m3 0h2m3 0h2m3 0h2m1 0h1m1 0h6m3 0h2m1 0h6m1 0h1m1 0h2m3 0h2m1 0h1m5 0h1m2 0h2m2 0h3m1 0h1m3 0h1m1 0h1m2 0h1M685 61.5h1m2 0h1m12 0h2m1 0h1m2 0h1m2 0h1m2 0h2m4 0h1m2 0h4m4 0h2m2 0h1m2 0h3m5 0h6m1 0h2m3 0h2m1 0h1m4 0h3m1 0h1m1 0h1m1 0h3m3 0h1m2 0h1M686 62.5h1m1 0h2m1 0h2m2 0h3m2 0h2m2 0h1m3 0h1m3 0h1m1 0h1m1 0h1m2 0h2m1 0h1m1 0h2m1 0h3m1 0h1m1 0h3m1 0h1m2 0h1m1 0h13m1 0h3m1 0h1m2 0h2m1 0h2m1 0h1m2 0h1m1 0h2m1 0h3m2 0h2M674 63.5h1m6 0h1m6 0h1m1 0h1m3 0h3m1 0h1m1 0h1m1 0h1m3 0h4m1 0h1m2 0h3m1 0h1m2 0h3m1 0h5m2 0h1m1 0h5m1 0h2m1 0h1m1 0h3m2 0h3m5 0h2m4 0h1m1 0h1m2 0h3m1 0h1m4 0h3m2 0h1M696 64.5h2m6 0h1m2 0h1m3 0h1m3 0h1m1 0h4m1 0h2m1 0h1m2 0h1m6 0h4m3 0h1m2 0h3m2 0h4m2 0h2m3 0h2m1 0h1m1 0h2m2 0h3m2 0h7m1 0h1M671 65.5h1m19 0h1m2 0h1m1 0h1m3 0h1m7 0h1m2 0h3m1 0h1m1 0h1m2 0h1m1 0h2m3 0h4m1 0h3m5 0h2m1 0h3m1 0h2m1 0h3m2 0h2m1 0h3m1 0h3m1 0h2m1 0h2m3 0h2m1 0h1m1 0h4M687 66.5h2m2 0h1m1 0h1m1 0h1m1 0h1m3 0h2m3 0h1m1 0h2m3 0h4m1 0h1m2 0h1m3 0h2m1 0h1m2 0h2m1 0h1m5 0h1m1 0h1m1 0h4m1 0h2m2 0h2m1 0h1m3 0h3m2 0h3m4 0h1m4 0h1m2 0h1m2 0h1M694 67.5h1m2 0h2m2 0h1m2 0h5m5 0h1m2 0h2m2 0h2m4 0h1m2 0h3m2 0h3m1 0h1m3 0h2m2 0h10m1 0h1m1 0h3m1 0h2m1 0h1m2 0h6m2 0h4M688 68.5h1m7 0h1m5 0h2m1 0h2m2 0h3m1 0h1m2 0h1m1 0h1m3 0h4m1 0h1m1 0h4m1 0h1m2 0h1m2 0h3m3 0h5m6 0h1m1 0h1m4 0h1m1 0h1m1 0h2m1 0h1m7 0h3m1 0h1M683 69.5h2m4 0h2m4 0h2m8 0h2m5 0h1m3 0h4m3 0h2m1 0h1m2 0h1m2 0h5m1 0h1m2 0h2m1 0h2m1 0h1m1 0h1m1 0h1m1 0h2m1 0h1m3 0h1m2 0h1m1 0h1m1 0h1m2 0h2m2 0h1m2 0h3m3 0h1M683 70.5h1m6 0h1m11 0h1m2 0h1m1 0h1m1 0h2m3 0h4m1 0h5m1 0h2m6 0h2m3 0h3m1 0h4m1 0h4m2 0h2m1 0h1m1 0h1m1 0h2m4 0h2m1 0h3m1 0h2m3 0h2m1 0h3M681 71.5h1m1 0h1m8 0h2m1 0h1m2 0h6m1 0h1m1 0h1m4 0h2m1 0h1m4 0h1m1 0h1m1 0h1m1 0h2m2 0h3m5 0h1m2 0h2m1 0h1m1 0h1m1 0h2m4 0h3m1 0h1m1 0h4m2 0h1m3 0h1m1 0h1m2 0h3m2 0h1m1 0h1M680 72.5h1m1 0h1m4 0h2m2 0h1m9 0h5m1 0h4m2 0h1m6 0h2m2 0h3m2 0h2m1 0h1m1 0h2m1 0h2m5 0h1m1 0h1m1 0h1m1 0h3m2 0h2m2 0h4m2 0h1m2 0h1m2 0h1m1 0h2m3 0h3M674 73.5h1m11 0h1m13 0h1m2 0h1m4 0h1m1 0h1m1 0h1m1 0h1m1 0h2m2 0h2m1 0h1m1 0h1m1 0h3m1 0h2m3 0h2m1 0h1m4 0h1m1 0h2m1 0h4m1 0h1m4 0h2m1 0h1m1 0h3m1 0h6m2 0h1m5 0h1M677 74.5h1m3 0h4m9 0h1m1 0h1m10 0h1m2 0h1m2 0h1m1 0h1m2 0h3m2 0h1m1 0h3m3 0h4m5 0h4m1 0h4m2 0h4m2 0h1m2 0h4m1 0h2m1 0h1m1 0h2m1 0h1m2 0h3m1 0h2m1 0h1M674 75.5h1m7 0h1m7 0h2m2 0h1m4 0h2m2 0h1m1 0h1m3 0h4m1 0h1m1 0h3m4 0h4m1 0h3m4 0h7m1 0h1m1 0h3m2 0h3m1 0h5m1 0h1m2 0h2m1 0h1m2 0h2m1 0h1m2 0h1m1 0h1m4 0h2M687 76.5h2m1 0h1m1 0h1m3 0h1m2 0h1m1 0h3m1 0h3m2 0h2m1 0h4m1 0h2m1 0h3m1 0h1m2 0h1m1 0h4m1 0h5m6 0h4m1 0h2m2 0h1m11 0h2m1 0h1m1 0h1m1 0h4m1 0h4M674 77.5h1m8 0h1m1 0h1m2 0h2m1 0h1m3 0h1m2 0h1m4 0h1m3 0h1m1 0h1m1 0h5m2 0h1m5 0h1m1 0h2m3 0h1m2 0h4m1 0h3m1 0h1m1 0h3m1 0h1m1 0h1m5 0h2m1 0h1m1 0h1m1 0h1m1 0h2m4 0h4m1 0h2m3 0h1M673 78.5h2m2 0h1m3 0h2m2 0h1m8 0h1m1 0h7m1 0h2m1 0h3m2 0h1m1 0h3m1 0h1m1 0h1m1 0h2m1 0h10m1 0h1m3 0h3m1 0h3m1 0h2m1 0h9m1 0h3m2 0h1m1 0h1m1 0h1m3 0h1m2 0h2m2 0h1M677 79.5h1m7 0h1m2 0h1m1 0h2m1 0h1m1 0h2m3 0h1m2 0h2m1 0h1m2 0h2m1 0h4m2 0h1m1 0h1m2 0h1m3 0h1m1 0h5m4 0h7m1 0h1m1 0h3m1 0h2m1 0h2m1 0h2m1 0h2m1 0h1m1 0h1m2 0h6m1 0h2m1 0h3m1 0h1M677 80.5h1m3 0h1m2 0h2m13 0h3m1 0h1m5 0h2m4 0h1m1 0h3m1 0h1m4 0h1m2 0h7m2 0h3m2 0h2m1 0h4m1 0h10m1 0h2m1 0h2m1 0h6m1 0h4m2 0h1M673 81.5h1m3 0h1m4 0h1m2 0h1m2 0h1m1 0h3m1 0h2m2 0h3m4 0h3m2 0h1m2 0h2m1 0h1m2 0h6m1 0h6m2 0h9m1 0h6m1 0h1m1 0h15m1 0h7m1 0h2m1 0h1m1 0h2M668 82.5h1m5 0h3m5 0h1m6 0h1m1 0h2m5 0h1m1 0h2m1 0h1m2 0h2m1 0h3m1 0h7m1 0h1m1 0h1m1 0h1m1 0h6m1 0h33m1 0h6m1 0h2m2 0h2m1 0h2M665 83.5h1m10 0h1m2 0h1m3 0h1m1 0h1m2 0h2m6 0h2m3 0h1m4 0h1m1 0h3m1 0h1m1 0h6m1 0h5m1 0h48m1 0h7M674 84.5h1m5 0h1m1 0h1m2 0h2m6 0h4m5 0h1m1 0h2m3 0h1m1 0h1m2 0h7m1 0h41m1 0h20M668 85.5h1m7 0h1m11 0h1m13 0h2m1 0h1m1 0h9m1 0h57m1 0h2m1 0h5M671 86.5h2m2 0h1m1 0h1m4 0h1m2 0h1m1 0h4m2 0h3m5 0h1m1 0h4m2 0h16m1 0h40m1 0h12m1 0h1m1 0h1M676 87.5h1m1 0h2m3 0h1m3 0h2m3 0h1m3 0h1m1 0h1m1 0h2m1 0h6m1 0h11m1 0h50m1 0h5m2 0h4M676 88.5h1m6 0h2m2 0h2m3 0h3m4 0h1m1 0h1m1 0h3m1 0h56m1 0h19M670 89.5h1m12 0h1m2 0h2m3 0h1m1 0h2m2 0h2m1 0h74m1 0h4m2 0h2M667 90.5h1m1 0h2m4 0h1m1 0h1m4 0h1m4 0h1m2 0h4m1 0h2m1 0h3m1 0h68m1 0h7m2 0h1m2 0h1M665 91.5h1m1 0h1m5 0h1m6 0h1m1 0h1m4 0h1m3 0h1m1 0h3m1 0h3m1 0h76m1 0h5M663 92.5h2m8 0h2m4 0h1m2 0h1m1 0h1m2 0h93m1 0h2M669 93.5h1m1 0h1m1 0h1m1 0h2m3 0h2m3 0h4m1 0h1m1 0h3m2 0h75m1 0h1m1 0h2m1 0h3m1 0h2M667 94.5h1m1 0h1m6 0h1m1 0h1m1 0h1m1 0h5m1 0h2m1 0h5m1 0h81m1 0h3m1 0h1M666 95.5h1m4 0h4m1 0h1m1 0h1m1 0h1m2 0h3m2 0h1m1 0h1m2 0h79m1 0h8m2 0h1M664 96.5h1m7 0h1m5 0h2m3 0h1m2 0h91m1 0h3M668 97.5h1m4 0h1m2 0h1m1 0h1m1 0h1m2 0h4m3 0h3m1 0h73m1 0h8m1 0h6M662 98.5h1m11 0h1m1 0h1m3 0h1m3 0h90m1 0h4m1 0h4M649 99.5h1m13 0h1m3 0h1m1 0h1m1 0h1m2 0h1m4 0h1m1 0h1m1 0h5m1 0h76m1 0h5m2 0h2m2 0h2m3 0h1M671 100.5h1m2 0h1m2 0h1m2 0h4m2 0h79m2 0h1m2 0h1m5 0h1m2 0h2m1 0h2M666 101.5h1m3 0h1m1 0h2m1 0h1m2 0h3m2 0h2m1 0h81m1 0h7m1 0h1m1 0h1m1 0h1M656 102.5h1m3 0h1m3 0h1m5 0h2m1 0h1m1 0h2m1 0h3m1 0h6m1 0h76m1 0h1m1 0h3m2 0h6m1 0h2M671 103.5h1m2 0h1m2 0h1m2 0h1m1 0h84m1 0h3m2 0h2m2 0h1m2 0h1M662 104.5h1m3 0h1m2 0h3m1 0h5m2 0h12m1 0h64m1 0h3m2 0h1m2 0h1m3 0h1m1 0h1m1 0h1m1 0h5m1 0h1M648 105.5h1m7 0h1m4 0h1m4 0h1m1 0h2m3 0h5m1 0h7m1 0h65m1 0h3m2 0h2m3 0h4m2 0h1m1 0h1m3 0h2m1 0h4m1 0h1M653 106.5h1m13 0h1m2 0h1m1 0h3m1 0h5m1 0h75m1 0h2m3 0h4m2 0h2m1 0h1m1 0h1m3 0h2m1 0h1m1 0h1M655 107.5h1m6 0h1m4 0h4m3 0h3m1 0h73m1 0h2m1 0h4m1 0h1m9 0h1m1 0h2m1 0h1m1 0h2m2 0h2M642 108.5h1m5 0h1m2 0h1m8 0h1m4 0h9m1 0h68m1 0h10m2 0h4m1 0h2m1 0h3m1 0h1m2 0h1m1 0h1m1 0h1m2 0h4M663 109.5h7m1 0h15m1 0h67m2 0h2m1 0h2m7 0h6m1 0h1m4 0h3M656 110.5h1m3 0h1m1 0h2m1 0h3m1 0h20m1 0h57m4 0h1m2 0h4m7 0h1m1 0h1m5 0h3m2 0h1m1 0h1m1 0h1M663 111.5h20m1 0h56m1 0h4m1 0h1m1 0h1m4 0h3m4 0h1m1 0h1m3 0h1m1 0h1m1 0h1m2 0h1m1 0h3m1 0h3M653 112.5h2m5 0h1m2 0h2m1 0h20m1 0h9m1 0h31m1 0h7m1 0h4m1 0h2m1 0h6m1 0h1m1 0h1m5 0h2m1 0h2m1 0h2m1 0h2m2 0h1m2 0h1m1 0h1m2 0h1M656 113.5h1m2 0h1m2 0h27m2 0h43m1 0h5m3 0h1m1 0h5m5 0h1m3 0h1m3 0h5m2 0h1m1 0h1m1 0h1m3 0h1M654 114.5h1m3 0h1m2 0h25m1 0h1m1 0h40m1 0h5m1 0h4m1 0h2m5 0h2m2 0h1m2 0h1m3 0h1m2 0h1m1 0h1m1 0h2m2 0h2m7 0h1M658 115.5h21m1 0h11m1 0h3m1 0h25m1 0h8m1 0h6m2 0h2m2 0h1m3 0h1m1 0h4m5 0h1m1 0h1m1 0h2m3 0h1m1 0h1m3 0h2m4 0h1m2 0h2M654 116.5h2m1 0h27m1 0h11m1 0h11m1 0h5m1 0h4m1 0h2m1 0h4m5 0h3m4 0h4m1 0h2m1 0h2m8 0h1m3 0h1m7 0h1m1 0h1m5 0h3M644 117.5h1m8 0h3m1 0h29m1 0h4m1 0h2m1 0h2m1 0h3m1 0h9m1 0h4m1 0h14m1 0h4m1 0h3m1 0h4m2 0h1m12 0h2m4 0h1m2 0h2m3 0h1m3 0h1M650 118.5h1m5 0h28m1 0h1m2 0h1m2 0h1m1 0h1m1 0h1m1 0h1m1 0h4m1 0h10m2 0h5m1 0h1m2 0h1m1 0h3m2 0h2m1 0h1m2 0h4m2 0h1m5 0h1m1 0h2m10 0h1m1 0h1m2 0h1m8 0h1m2 0h2M647 119.5h1m4 0h1m1 0h26m1 0h3m2 0h1m1 0h1m1 0h3m1 0h2m1 0h1m1 0h7m3 0h1m1 0h2m1 0h2m1 0h1m1 0h7m1 0h1m2 0h2m1 0h2m1 0h1m1 0h2m1 0h2m2 0h1m1 0h3m1 0h1m6 0h2m1 0h1m1 0h1m1 0h1m9 0h1m1 0h6M648 120.5h2m2 0h29m1 0h2m1 0h2m7 0h2m2 0h1m1 0h2m1 0h3m2 0h2m5 0h1m1 0h1m1 0h1m1 0h1m1 0h1m3 0h1m1 0h2m2 0h1m1 0h2m2 0h3m1 0h7m3 0h1m2 0h2m1 0h1m4 0h2m2 0h1m2 0h1m1 0h2m4 0h1m3 0h1M648 121.5h2m1 0h36m4 0h3m1 0h2m1 0h1m1 0h2m2 0h2m1 0h1m3 0h2m3 0h1m4 0h3m2 0h2m1 0h1m4 0h1m1 0h1m3 0h1m4 0h1m2 0h1m1 0h5m2 0h1m8 0h1m7 0h1m6 0h1M646 122.5h1m2 0h30m2 0h2m3 0h2m1 0h1m1 0h1m3 0h1m1 0h4m1 0h1m5 0h1m2 0h1m2 0h3m2 0h3m3 0h1m3 0h3m1 0h2m4 0h2m6 0h1m1 0h3m4 0h1m1 0h1m6 0h2m15 0h1M647 123.5h31m1 0h3m1 0h1m4 0h1m1 0h1m1 0h2m2 0h3m3 0h4m3 0h2m1 0h3m3 0h8m1 0h4m1 0h1m1 0h2m2 0h1m4 0h1m1 0h1m1 0h1m2 0h3m2 0h2m2 0h1m2 0h1m9 0h1m1 0h1m2 0h1m5 0h1M644 124.5h35m1 0h2m1 0h1m1 0h1m2 0h2m1 0h1m1 0h1m1 0h2m1 0h2m1 0h1m1 0h2m2 0h2m6 0h1m3 0h2m1 0h1m1 0h1m3 0h1m1 0h1m3 0h2m1 0h1m1 0h1m2 0h4m1 0h1m1 0h1m14 0h1m6 0h1m2 0h1m4 0h1m1 0h1M642 125.5h1m2 0h1m1 0h27m1 0h3m1 0h1m2 0h1m5 0h1m1 0h1m1 0h2m1 0h2m2 0h1m2 0h1m4 0h3m1 0h1m1 0h1m1 0h1m3 0h2m3 0h1m1 0h2m1 0h1m6 0h1m4 0h2m2 0h2m5 0h1m3 0h1m5 0h1m6 0h2m1 0h2m5 0h1m1 0h1M641 126.5h1m1 0h36m1 0h1m3 0h1m2 0h1m2 0h2m2 0h1m1 0h1m7 0h1m2 0h1m1 0h1m7 0h2m3 0h2m1 0h1m2 0h1m4 0h3m3 0h1m1 0h1m1 0h1m4 0h1m3 0h2m5 0h1m5 0h1m15 0h1M639 127.5h1m1 0h2m1 0h34m1 0h1m1 0h1m2 0h3m1 0h2m1 0h1m4 0h2m1 0h2m1 0h2m3 0h1m4 0h1m1 0h1m2 0h1m1 0h2m6 0h1m7 0h2m1 0h1m6 0h2m1 0h2m1 0h1m1 0h1m8 0h1m1 0h1m1 0h2m15 0h1M643 128.5h29m6 0h2m8 0h2m6 0h4m3 0h1m1 0h4m3 0h5m1 0h1m1 0h1m6 0h2m3 0h1m3 0h1m1 0h1m4 0h1m4 0h1m9 0h2m18 0h1m1 0h2M638 129.5h2m1 0h27m2 0h2m1 0h2m2 0h1m1 0h1m1 0h1m2 0h3m1 0h3m3 0h2m2 0h2m2 0h2m1 0h3m1 0h1m2 0h1m1 0h1m1 0h1m1 0h1m2 0h1m3 0h1m2 0h1m1 0h3m2 0h3m5 0h1m4 0h1m7 0h1m4 0h1m2 0h2m5 0h1m3 0h1m1 0h1m1 0h1M636 130.5h2m1 0h22m1 0h7m1 0h2m1 0h1m1 0h2m3 0h1m1 0h2m3 0h2m5 0h1m1 0h2m1 0h1m2 0h1m2 0h1m1 0h1m1 0h4m2 0h3m1 0h2m3 0h1m15 0h1m5 0h1m3 0h1m3 0h1m17 0h1m4 0h1m4 0h1M633 131.5h2m2 0h25m1 0h2m2 0h2m1 0h1m1 0h2m1 0h3m2 0h1m1 0h1m1 0h2m2 0h1m1 0h1m3 0h2m3 0h1m2 0h3m2 0h3m7 0h1m1 0h1m8 0h1m2 0h1m5 0h1m2 0h1m10 0h1m10 0h2m2 0h1m1 0h1m4 0h4m3 0h1M635 132.5h25m1 0h4m4 0h1m3 0h2m1 0h1m4 0h1m1 0h1m2 0h1m3 0h1m1 0h1m1 0h2m5 0h1m2 0h3m1 0h1m5 0h1m3 0h4m1 0h1m1 0h1m10 0h1m8 0h1m8 0h1m15 0h1M634 133.5h26m3 0h1m1 0h2m3 0h3m6 0h1m3 0h1m2 0h2m1 0h3m1 0h1m4 0h2m2 0h3m3 0h2m2 0h1m2 0h3m2 0h1m6 0h2m1 0h1m6 0h2m9 0h1m4 0h1m11 0h1m1 0h1m3 0h1M634 134.5h22m2 0h2m2 0h2m5 0h2m1 0h1m1 0h1m1 0h1m3 0h2m2 0h1m2 0h1m1 0h1m1 0h1m1 0h1m4 0h1m10 0h1m2 0h2m3 0h1m8 0h2m1 0h1m4 0h1m1 0h1m2 0h1m11 0h1m28 0h1m1 0h1M632 135.5h2m1 0h20m1 0h2m1 0h3m4 0h1m1 0h1m1 0h1m1 0h1m1 0h1m1 0h2m1 0h1m6 0h2m1 0h1m2 0h1m2 0h1m1 0h1m4 0h1m5 0h1m4 0h2m2 0h2m7 0h1m9 0h1m1 0h1m6 0h1m5 0h1m2 0h1m4 0h1m1 0h1M634 136.5h17m2 0h1m3 0h4m10 0h1m1 0h1m2 0h1m1 0h2m1 0h1m3 0h2m1 0h2m1 0h1m5 0h1m1 0h2m2 0h1m1 0h2m1 0h1m2 0h1m1 0h1m5 0h1m4 0h1m2 0h1m5 0h1m2 0h1m7 0h1m10 0h2M628 137.5h1m3 0h16m1 0h2m2 0h4m2 0h2m2 0h3m1 0h1m7 0h1m2 0h1m2 0h1m1 0h1m5 0h2m1 0h1m5 0h1m2 0h1m4 0h3m1 0h2m1 0h2m2 0h2m4 0h2m2 0h1m1 0h1m2 0h1m3 0h1m1 0h3m15 0h1M632 138.5h1m1 0h17m2 0h1m1 0h3m4 0h2m2 0h2m7 0h1m4 0h1m6 0h6m7 0h1m1 0h2m1 0h3m2 0h1m5 0h1m11 0h1m2 0h1m5 0h1m10 0h2m5 0h1M630 139.5h1m1 0h1m1 0h11m2 0h3m6 0h2m6 0h2m1 0h2m2 0h1m2 0h2m6 0h2m1 0h2m3 0h1m1 0h2m1 0h1m4 0h1m7 0h2m3 0h1m5 0h2m1 0h1m2 0h1m3 0h1m5 0h1m3 0h1M608 140.5h1m21 0h15m1 0h4m5 0h2m3 0h2m4 0h2m4 0h1m1 0h1m1 0h1m2 0h4m1 0h1m8 0h1m17 0h1m8 0h1m3 0h1m4 0h1m7 0h1m22 0h2m19 0h1M625 141.5h1m5 0h7m1 0h2m1 0h3m2 0h1m1 0h1m4 0h1m2 0h1m2 0h1m3 0h1m1 0h1m1 0h1m6 0h1m2 0h3m2 0h2m5 0h1m3 0h1m2 0h1m3 0h2m2 0h1m8 0h1m9 0h1m2 0h1m3 0h2m8 0h1m11 0h1m15 0h1M623 142.5h1m3 0h2m1 0h2m1 0h1m1 0h6m1 0h3m1 0h1m2 0h1m2 0h1m1 0h1m12 0h1m4 0h2m3 0h1m13 0h1m1 0h1m1 0h1m13 0h2m1 0h1m3 0h1m1 0h1m6 0h2m2 0h1m24 0h1m7 0h1m8 0h1M627 143.5h1m1 0h1m1 0h8m1 0h1m1 0h2m5 0h2m12 0h1m5 0h2m7 0h1m5 0h1m6 0h5m4 0h2m1 0h1m13 0h1m2 0h1m8 0h1m11 0h1m17 0h1m3 0h1M623 144.5h1m4 0h1m1 0h3m1 0h7m2 0h1m4 0h1m1 0h2m4 0h3m3 0h1m15 0h1m5 0h1m10 0h1m5 0h2m1 0h1m2 0h1m2 0h1m2 0h1m1 0h2m14 0h1m8 0h1m5 0h1m3 0h1M622 145.5h1m1 0h1m4 0h8m2 0h2m1 0h1m2 0h2m10 0h1m3 0h1m6 0h1m7 0h1m3 0h1m2 0h1m7 0h1m6 0h2m5 0h1m2 0h1m6 0h1m2 0h1m1 0h1m3 0h1m2 0h1m2 0h1m6 0h1m3 0h1m35 0h1m3 0h1M622 146.5h1m4 0h17m2 0h1m2 0h1m1 0h1m1 0h1m2 0h1m16 0h1m1 0h1m1 0h1m1 0h1m2 0h2m2 0h1m18 0h1m3 0h1m1 0h1m4 0h1m10 0h1m1 0h1m3 0h2M626 147.5h1m2 0h7m2 0h3m1 0h1m1 0h1m3 0h1m1 0h1m4 0h1m10 0h1m3 0h2m1 0h2m12 0h1m2 0h1m5 0h1m6 0h1m8 0h2m5 0h1m1 0h2m7 0h1m41 0h1m3 0h1m2 0h1M626 148.5h2m1 0h9m4 0h1m2 0h1m6 0h1m6 0h1m3 0h1m2 0h1m6 0h1m9 0h1m4 0h1m2 0h1m5 0h1m10 0h1m1 0h1m11 0h1m2 0h1M618 149.5h1m4 0h2m2 0h10m1 0h1m3 0h1m2 0h3m11 0h1m10 0h1m4 0h1m11 0h1m13 0h1m11 0h1m9 0h1m1 0h1m6 0h1m39 0h1M616 150.5h1m7 0h1m1 0h13m18 0h1m2 0h2m5 0h1m3 0h1m2 0h2m23 0h1m3 0h1m1 0h1m8 0h1m38 0h2m26 0h1M619 151.5h1m4 0h8m2 0h1m1 0h2m2 0h1m32 0h1m2 0h1m5 0h2m5 0h1m3 0h1m1 0h1m13 0h1m7 0h1M618 152.5h1m6 0h1m1 0h6m1 0h2m13 0h1m8 0h2m3 0h1m13 0h1m7 0h2m4 0h1m7 0h1m5 0h1m6 0h1m5 0h1m1 0h1M618 153.5h4m1 0h2m1 0h7m1 0h1m1 0h1m1 0h1m6 0h1m1 0h1m17 0h1m3 0h1m10 0h1m7 0h1m1 0h1m9 0h1m1 0h1m13 0h1m1 0h1m50 0h1M620 154.5h9m1 0h1m1 0h3m9 0h2m3 0h1m1 0h1m30 0h1m6 0h1m2 0h1m1 0h2m1 0h1m3 0h1m10 0h1m6 0h1m2 0h1m11 0h1M613 155.5h1m8 0h10m3 0h1m3 0h1m2 0h1m16 0h2m20 0h1m9 0h1m8 0h1m6 0h1m1 0h2m3 0h1m9 0h1M617 156.5h11m1 0h2m7 0h1m6 0h1m8 0h1m1 0h1m7 0h1m7 0h1m6 0h1m4 0h2m2 0h1m6 0h1m10 0h1m3 0h1m18 0h1M615 157.5h3m1 0h10m1 0h2m2 0h1m1 0h1m7 0h1m5 0h1m4 0h1m11 0h1m2 0h1m36 0h1m14 0h1M616 158.5h1m2 0h1m1 0h4m1 0h2m5 0h1m9 0h1m21 0h1m4 0h1m7 0h1m7 0h1m7 0h1m14 0h1m6 0h1m10 0h1m6 0h1M617 159.5h1m1 0h2m1 0h5m1 0h3m1 0h1m5 0h1m26 0h1m3 0h1m11 0h1m2 0h1m13 0h1m27 0h1M615 160.5h1m1 0h1m1 0h1m2 0h9m14 0h1m6 0h1m14 0h1m8 0h1m2 0h1m9 0h1m28 0h2M613 161.5h3m1 0h10m2 0h1m8 0h1m7 0h1m30 0h1m8 0h1m5 0h1m2 0h1m2 0h1m82 0h1M614 162.5h4m1 0h11m6 0h1m4 0h1m9 0h1m4 0h1m11 0h1m16 0h1m11 0h1m6 0h1M614 163.5h2m1 0h8m1 0h4m12 0h1m40 0h1m10 0h1m8 0h1m77 0h1M608 164.5h1m1 0h1m1 0h1m2 0h9m1 0h2m41 0h1m9 0h1M607 165.5h1m3 0h4m1 0h2m1 0h4m3 0h2m1 0h1m3 0h1m3 0h1m70 0h1m13 0h1M612 166.5h9m1 0h2m2 0h1m1 0h2m6 0h1m14 0h1m1 0h1m5 0h1m41 0h1M613 167.5h1m2 0h1m1 0h4m50 0h1m7 0h1M610 168.5h1m1 0h2m1 0h1m1 0h1m2 0h2m1 0h1m1 0h1m8 0h1m56 0h1m69 0h1M608 169.5h3m1 0h4m1 0h3m2 0h2m19 0h2m1 0h1m9 0h1m25 0h1M607 170.5h1m5 0h2m1 0h1m1 0h1m1 0h1m1 0h3m30 0h1m11 0h1m5 0h1m109 0h1M606 171.5h1m2 0h5m1 0h1m1 0h2m1 0h1m2 0h1m4 0h1m29 0h1M601 172.5h1m2 0h1m3 0h5m1 0h3m2 0h2m2 0h1m3 0h1m3 0h1M603 173.5h1m2 0h1m2 0h5m2 0h6m1 0h1m19 0h1m9 0h1m18 0h2M606 174.5h2m1 0h7m1 0h2m20 0h1m2 0h1m9 0h1M607 175.5h2m1 0h1m1 0h5m8 0h1m4 0h1m36 0h1M608 176.5h1m2 0h3m2 0h3M602 177.5h2m1 0h2m1 0h8m4 0h1M603 178.5h1m3 0h5m1 0h1m2 0h1m13 0h1M604 179.5h2m2 0h6m2 0h1m17 0h1M599 180.5h1m1 0h9m2 0h3m8 0h1m8 0h1m2 0h1m15 0h1M603 181.5h1m1 0h7m2 0h2m2 0h1m13 0h1M600 182.5h1m2 0h2m1 0h8M600 183.5h3m1 0h4m1 0h1m3 0h1m22 0h1M600 184.5h1m1 0h3m1 0h1m1 0h2m1 0h1M594 185.5h1m6 0h5m1 0h3m2 0h1M595 186.5h1m2 0h1m2 0h4m2 0h4m30 0h1M596 187.5h1m1 0h8m2 0h1m20 0h3M596 188.5h1m1 0h3m1 0h2m1 0h2m1 0h1m26 0h1m16 0h1m9 0h1M594 189.5h2m1 0h6m1 0h1m1 0h1m1 0h1m1 0h1M594 190.5h12m3 0h1m3 0h1m9 0h1m1 0h1M592 191.5h3m1 0h5m1 0h2m1 0h2m3 0h1M591 192.5h1m1 0h1m1 0h2m1 0h3m23 0h1M588 193.5h1m1 0h1m1 0h4m5 0h2m1 0h1m1 0h1m11 0h2M594 194.5h1m5 0h2m2 0h1m2 0h1m13 0h1m5 0h1m29 0h1M586 195.5h1m4 0h2m2 0h4m5 0h1m2 0h1m18 0h1m5 0h1M592 196.5h1m2 0h2m1 0h1m1 0h1m1 0h2m2 0h1M588 197.5h1m3 0h2m1 0h1m1 0h3m1 0h1m5 0h1m1 0h1M588 198.5h1m1 0h3m1 0h3m1 0h2m1 0h2m11 0h1M584 199.5h1m4 0h2m1 0h1m1 0h1m1 0h3m1 0h2m7 0h2m5 0h1M583 200.5h1m1 0h2m1 0h1m1 0h1m1 0h3m2 0h3M585 201.5h1m1 0h4m1 0h1m1 0h2m1 0h1m4 0h1m10 0h1m14 0h1m8 0h1M589 202.5h1m1 0h2m1 0h2m1 0h1M585 203.5h9m1 0h1m3 0h1m7 0h1M586 204.5h1m1 0h7m1 0h1m3 0h1m17 0h1M582 205.5h1m1 0h2m2 0h2m2 0h2m1 0h4m24 0h1m1 0h1M584 206.5h2m1 0h1m1 0h2m2 0h1M579 207.5h15M581 208.5h1m2 0h9M578 209.5h1m3 0h7m1 0h4M580 210.5h2m1 0h6m1 0h2M581 211.5h2m1 0h4m1 0h2M574 212.5h1m2 0h2m2 0h6m1 0h1m3 0h1m25 0h1M581 213.5h2m1 0h5m1 0h1M576 214.5h1m2 0h3m1 0h2m1 0h3M578 215.5h4m2 0h1m1 0h2m1 0h1M575 216.5h1m1 0h2m3 0h2m1 0h1m8 0h1m4 0h1m13 0h1M577 217.5h2m1 0h1m2 0h1m1 0h1M576 218.5h1m3 0h1m2 0h1m7 0h1M575 219.5h1m2 0h2m1 0h1m3 0h1m2 0h1m20 0h1m6 0h1M574 220.5h4m2 0h1m1 0h1m2 0h1m17 0h1M575 221.5h2m2 0h1m4 0h1m1 0h1m12 0h1m3 0h1m5 0h1m7 0h1M575 222.5h1m5 0h1m6 0h1m3 0h1m28 0h1M571 223.5h1m1 0h1m4 0h1m40 0h1M575 224.5h2m1 0h1m3 0h2m19 0h1m6 0h1M569 225.5h1m4 0h1m4 0h1m2 0h1m5 0h1m15 0h1m17 0h1m2 0h1M574 226.5h1m5 0h1m37 0h1M571 227.5h1m1 0h1m2 0h1m3 0h2m26 0h1M574 228.5h1m3 0h1m36 0h1M571 229.5h2m1 0h2m2 0h1m21 0h1M575 230.5h1m22 0h1m1 0h1M569 231.5h1m3 0h2m1 0h1m37 0h1M565 232.5h1m2 0h1m2 0h2m1 0h3m22 0h1m2 0h1m20 0h1M570 234.5h2m1 0h1m10 0h1m19 0h1M571 235.5h3m1 0h1m43 0h1m5 0h1M566 236.5h1m5 0h1m1 0h1M571 237.5h2M567 238.5h2m47 0h1M571 239.5h1m18 0h1m7 0h1M568 240.5h3M568 241.5h1m2 0h1m28 0h1m6 0h1M564 242.5h1m2 0h1m20 0h1m20 0h1M566 243.5h1m3 0h1m25 0h1M564 245.5h3m12 0h1m5 0h1M566 246.5h1M560 247.5h1m22 0h1m4 0h1M565 248.5h1m31 0h1m3 0h1M559 249.5h1m7 0h1m14 0h1m7 0h1m3 0h1M568 250.5h1M564 251.5h1M583 252.5h1M582 253.5h1M572 254.5h1m26 0h1M590 255.5h1M586 256.5h1M583 257.5h1M563 259.5h1m14 0h1M562 260.5h1M565 261.5h1m12 0h1M558 262.5h1m7 0h1m17 0h1M552 264.5h1m14 0h1m4 0h1m2 0h1m1 0h1M562 265.5h1m3 0h1m6 0h2m5 0h1M562 267.5h1M557 268.5h1m10 0h1m6 0h1m1 0h1M567 269.5h1m6 0h1M564 270.5h1m11 0h1M557 271.5h1m1 0h1m5 0h1m3 0h2m3 0h1m8 0h1M563 272.5h1m28 0h1M543 273.5h1m8 0h1m4 0h1m12 0h1M568 274.5h1m7 0h1m3 0h1m22 0h1M546 275.5h1m2 0h1M545 276.5h1M551 277.5h1m7 0h1m9 0h1M551 278.5h2m7 0h1M540 280.5h1M545 281.5h1M549 282.5h1M552 283.5h1M540 286.5h1" stroke="#3a3a3a" stroke-width="1" fill="none"/>
<path d="M968 55.5h1m9 0h2m1 0h3m1 0h2m2 0h2m2 0h2m1 0h4m2 0h3m2 0h3m1 0h3m2 0h1m1 0h1m1 0h2m2 0h3m1 0h2m1 0h1m1 0h6m1 0h2m2 0h1M973 56.5h1m3 0h3m1 0h1m3 0h3m2 0h5m1 0h4m1 0h5m2 0h1m1 0h1m1 0h1m3 0h1m1 0h2m1 0h1m1 0h3m3 0h1m1 0h1m1 0h3m2 0h2m1 0h2m1 0h1M966 57.5h1m2 0h1m1 0h1m3 0h2m1 0h1m1 0h1m1 0h3m2 0h3m4 0h3m1 0h5m1 0h1m1 0h3m1 0h2m1 0h5m2 0h1m2 0h1m2 0h1m1 0h2m2 0h8m2 0h3M970 58.5h1m1 0h2m1 0h1m3 0h1m1 0h1m1 0h1m1 0h6m1 0h2m2 0h3m1 0h1m1 0h3m1 0h9m4 0h8m1 0h1m1 0h2m3 0h2m1 0h1m1 0h4M966 59.5h3m2 0h1m3 0h2m1 0h1m1 0h1m1 0h3m1 0h2m1 0h2m1 0h2m1 0h2m1 0h7m1 0h1m1 0h1m2 0h2m2 0h2m1 0h4m1 0h2m1 0h1m1 0h8m2 0h2m1 0h4M953 60.5h1m12 0h4m1 0h1m2 0h2m1 0h3m1 0h1m1 0h4m1 0h1m2 0h3m1 0h3m1 0h2m1 0h7m1 0h1m2 0h4m2 0h7m2 0h5m1 0h4m1 0h3m1 0h1M961 61.5h1m2 0h1m2 0h15m2 0h1m2 0h4m2 0h1m1 0h2m1 0h1m1 0h3m2 0h2m1 0h3m1 0h1m1 0h3m1 0h1m1 0h3m1 0h5m2 0h3m2 0h1m1 0h1m1 0h3M957 62.5h1m6 0h1m9 0h8m1 0h3m2 0h3m1 0h2m1 0h4m1 0h2m2 0h15m1 0h3m1 0h1m1 0h2m1 0h12m1 0h1m1 0h1M959 63.5h1m4 0h2m2 0h3m3 0h1m1 0h1m1 0h4m2 0h2m1 0h3m2 0h2m1 0h2m1 0h2m2 0h1m1 0h2m1 0h3m2 0h5m1 0h1m1 0h2m2 0h1m3 0h4m1 0h9M968 64.5h1m2 0h1m1 0h1m2 0h1m2 0h2m1 0h2m2 0h3m2 0h6m4 0h6m1 0h1m1 0h1m1 0h2m1 0h2m1 0h2m3 0h4m1 0h2m1 0h13M960 65.5h1m3 0h1m2 0h1m2 0h2m1 0h1m3 0h1m3 0h3m3 0h8m4 0h1m1 0h1m2 0h4m3 0h5m3 0h3m1 0h6m1 0h15M963 66.5h5m2 0h1m3 0h2m1 0h2m1 0h3m2 0h2m1 0h1m1 0h1m1 0h5m2 0h2m1 0h1m1 0h1m1 0h6m1 0h1m2 0h3m1 0h3m1 0h21M957 67.5h1m6 0h1m1 0h6m2 0h1m1 0h1m2 0h2m1 0h1m1 0h2m2 0h2m1 0h2m2 0h5m1 0h1m2 0h5m2 0h1m1 0h1m1 0h2m3 0h3m1 0h4m1 0h16M964 68.5h1m1 0h1m2 0h1m2 0h8m1 0h1m2 0h1m2 0h4m1 0h1m1 0h2m1 0h2m2 0h4m2 0h4m3 0h3m1 0h1m1 0h25M953 69.5h1m4 0h1m2 0h2m2 0h5m1 0h1m1 0h1m1 0h1m7 0h7m1 0h2m2 0h2m1 0h10m1 0h3m1 0h10m1 0h21M957 70.5h1m4 0h1m1 0h1m1 0h5m1 0h1m4 0h3m1 0h2m1 0h1m1 0h2m1 0h4m1 0h2m1 0h2m3 0h3m1 0h3m1 0h4m1 0h4m1 0h25M960 71.5h1m3 0h1m4 0h1m6 0h3m1 0h2m1 0h2m1 0h1m1 0h2m2 0h1m1 0h6m1 0h4m1 0h2m1 0h3m1 0h2m1 0h29M963 72.5h1m2 0h1m1 0h2m4 0h1m2 0h2m1 0h1m2 0h4m3 0h2m2 0h18m1 0h32M954 73.5h1m3 0h3m3 0h2m5 0h1m3 0h1m3 0h1m1 0h1m1 0h7m1 0h2m3 0h49M952 74.5h1m4 0h1m2 0h1m3 0h1m3 0h2m4 0h1m3 0h5m2 0h2m1 0h11m2 0h1m1 0h12m1 0h3m1 0h25M950 75.5h1m2 0h3m2 0h1m3 0h1m1 0h2m1 0h1m1 0h1m2 0h2m3 0h1m1 0h3m2 0h3m1 0h9m1 0h6m1 0h1m1 0h38M947 76.5h1m9 0h2m3 0h2m2 0h1m1 0h1m2 0h4m5 0h8m2 0h3m1 0h2m1 0h48M945 77.5h1m10 0h4m2 0h2m2 0h1m1 0h6m2 0h3m4 0h3m2 0h57M947 78.5h1m6 0h2m1 0h1m5 0h1m4 0h1m1 0h2m2 0h4m3 0h9m2 0h53M950 79.5h1m1 0h1m1 0h1m2 0h2m2 0h2m1 0h1m1 0h3m1 0h2m4 0h1m1 0h4m2 0h61M946 80.5h1m3 0h1m5 0h5m5 0h1m1 0h4m3 0h3m1 0h4m1 0h1m1 0h1m1 0h57M957 81.5h1m1 0h1m2 0h1m1 0h1m3 0h1m3 0h73M949 82.5h1m2 0h1m1 0h1m1 0h2m2 0h1m2 0h3m1 0h3m1 0h1m1 0h5m1 0h1m1 0h64M952 83.5h3m1 0h3m1 0h5m3 0h1m2 0h74M948 84.5h1m8 0h1m2 0h1m3 0h81M941 85.5h1m2 0h1m4 0h3m3 0h1m1 0h1m1 0h9m1 0h3m1 0h72M948 86.5h1m4 0h1m1 0h2m1 0h1m1 0h1m1 0h3m1 0h79M940 87.5h1m2 0h4m4 0h1m2 0h5m1 0h1m1 0h3m2 0h78M941 88.5h1m3 0h1m1 0h1m1 0h1m1 0h1m1 0h4m4 0h1m1 0h2m1 0h79M940 89.5h2m3 0h2m1 0h1m1 0h1m1 0h1m3 0h89M935 90.5h2m2 0h1m1 0h1m3 0h2m1 0h1m2 0h1m2 0h91M942 91.5h2m1 0h1m1 0h1m3 0h1m1 0h5m1 0h2m1 0h83M940 92.5h2m3 0h1m1 0h2m1 0h3m1 0h1m1 0h89M936 93.5h1m2 0h1m2 0h1m1 0h1m1 0h2m1 0h96M932 94.5h1m8 0h1m1 0h3m1 0h1m1 0h3m1 0h92M937 95.5h1m3 0h2m1 0h4m1 0h1m2 0h8m1 0h84M930 96.5h1m2 0h1m7 0h1m1 0h3m2 0h2m1 0h94M915 97.5h1m17 0h1m7 0h2m1 0h101M935 98.5h3m5 0h4m1 0h5m1 0h75m1 0h15M927 99.5h1m9 0h7m2 0h3m1 0h95M929 100.5h2m1 0h1m1 0h2m2 0h4m2 0h2m1 0h6m1 0h85m1 0h5M929 101.5h1m1 0h1m2 0h2m2 0h1m1 0h1m1 0h4m1 0h98M930 102.5h1m3 0h2m1 0h1m2 0h1m2 0h1m1 0h99M923 103.5h1m5 0h1m3 0h3m1 0h2m3 0h2m1 0h81m1 0h3m1 0h14M925 104.5h1m2 0h1m8 0h1m1 0h86m1 0h14m1 0h4M930 105.5h1m3 0h1m1 0h3m1 0h2m1 0h73m1 0h8m1 0h2m2 0h4m1 0h4m1 0h3M931 106.5h1m2 0h4m1 0h78m1 0h3m3 0h1m1 0h1m1 0h5m1 0h2m1 0h3m1 0h2m1 0h1M920 107.5h1m1 0h2m5 0h2m1 0h4m2 0h78m1 0h3m2 0h2m3 0h3m2 0h6m1 0h6M928 108.5h1m1 0h1m1 0h1m1 0h4m1 0h74m1 0h3m1 0h3m1 0h4m1 0h8m2 0h1m1 0h4M918 109.5h1m10 0h1m1 0h76m1 0h3m1 0h3m1 0h4m1 0h3m1 0h2m3 0h5m1 0h2m1 0h2m2 0h2M921 110.5h1m1 0h1m5 0h3m1 0h6m1 0h80m1 0h1m2 0h3m1 0h1m3 0h2m1 0h2m1 0h7M918 111.5h1m7 0h1m1 0h12m1 0h3m1 0h63m2 0h2m1 0h1m1 0h1m2 0h4m2 0h3m2 0h2m1 0h6m1 0h2m2 0h2M918 112.5h1m1 0h2m1 0h1m1 0h21m1 0h1m1 0h47m1 0h5m1 0h4m1 0h8m3 0h1m1 0h1m4 0h1m1 0h1m1 0h2m2 0h1m1 0h1m4 0h1m1 0h2M915 113.5h1m3 0h1m5 0h17m1 0h55m2 0h6m1 0h1m1 0h2m1 0h4m1 0h2m4 0h2m1 0h5m1 0h2m1 0h2m1 0h2m3 0h1M919 114.5h2m2 0h19m2 0h5m1 0h47m1 0h2m1 0h6m2 0h2m1 0h2m1 0h1m1 0h3m1 0h1m2 0h7m3 0h11M916 115.5h1m4 0h25m1 0h57m4 0h1m1 0h1m4 0h1m1 0h1m1 0h1m1 0h1m4 0h2m3 0h2m4 0h2m2 0h3M911 116.5h1m2 0h1m1 0h3m2 0h72m1 0h2m3 0h2m1 0h2m1 0h1m1 0h6m1 0h10m1 0h3m2 0h2m3 0h1m1 0h1m1 0h2m1 0h2M914 117.5h1m1 0h1m1 0h29m2 0h39m1 0h15m1 0h1m1 0h1m1 0h2m3 0h2m1 0h1m1 0h1m1 0h1m1 0h3m1 0h2m1 0h1m1 0h4m4 0h1m1 0h1M911 118.5h4m1 0h29m1 0h14m1 0h21m1 0h15m1 0h7m1 0h1m2 0h3m2 0h1m1 0h2m1 0h5m1 0h1m1 0h3m1 0h7m1 0h5M911 119.5h1m1 0h26m1 0h4m1 0h9m1 0h32m2 0h2m1 0h2m4 0h1m1 0h1m1 0h9m2 0h1m3 0h4m1 0h1m1 0h7m5 0h1m4 0h1m1 0h1M910 120.5h1m1 0h31m1 0h6m1 0h7m1 0h8m1 0h4m1 0h7m1 0h3m1 0h3m1 0h7m1 0h2m1 0h2m3 0h3m1 0h6m1 0h1m2 0h1m1 0h4m1 0h6m2 0h2m1 0h2m1 0h1m3 0h1M906 121.5h1m1 0h1m3 0h1m1 0h25m1 0h1m1 0h9m2 0h1m1 0h2m1 0h1m1 0h4m1 0h2m1 0h3m1 0h3m2 0h3m1 0h2m2 0h3m1 0h2m1 0h1m3 0h2m1 0h1m1 0h1m1 0h3m1 0h1m1 0h2m2 0h2m1 0h1m1 0h4m1 0h2m3 0h4m1 0h2m1 0h4m2 0h2M907 122.5h3m1 0h28m1 0h1m1 0h2m1 0h16m2 0h3m1 0h2m1 0h3m1 0h2m1 0h3m1 0h4m2 0h2m1 0h1m1 0h1m4 0h1m1 0h5m2 0h1m5 0h2m1 0h1m1 0h3m3 0h1m3 0h2m3 0h1m2 0h1m2 0h1m1 0h1m1 0h2M905 123.5h1m1 0h1m1 0h26m1 0h4m2 0h5m1 0h2m1 0h1m1 0h2m2 0h4m1 0h7m1 0h6m2 0h3m1 0h1m1 0h1m1 0h1m1 0h2m1 0h2m2 0h1m5 0h2m1 0h2m1 0h3m1 0h1m3 0h1m2 0h4m2 0h3m1 0h2m5 0h3m1 0h3M904 124.5h3m1 0h27m4 0h1m1 0h1m2 0h1m1 0h1m1 0h1m1 0h1m1 0h3m1 0h1m1 0h9m1 0h1m4 0h4m1 0h1m2 0h11m3 0h2m1 0h1m2 0h1m1 0h4m2 0h2m3 0h1m1 0h3m3 0h5m3 0h1m4 0h1m2 0h1m3 0h2M902 125.5h3m1 0h26m1 0h1m3 0h4m1 0h1m3 0h1m3 0h1m6 0h1m1 0h3m1 0h2m1 0h5m1 0h1m3 0h1m2 0h1m1 0h3m3 0h3m3 0h1m5 0h1m1 0h3m1 0h1m1 0h4m2 0h1m1 0h3m2 0h1m1 0h1m4 0h2m5 0h2m2 0h7M895 126.5h1m8 0h1m1 0h26m4 0h2m1 0h1m1 0h1m2 0h6m2 0h3m1 0h1m1 0h1m1 0h2m4 0h5m1 0h6m1 0h5m1 0h1m1 0h2m1 0h1m1 0h1m1 0h5m1 0h7m1 0h1m1 0h1m1 0h1m4 0h1m1 0h1m2 0h1m2 0h2m1 0h2m1 0h3m1 0h1m1 0h2m3 0h1m1 0h1M905 127.5h19m1 0h1m1 0h1m6 0h1m2 0h1m5 0h1m3 0h3m2 0h1m2 0h1m1 0h2m2 0h1m2 0h2m2 0h2m1 0h4m1 0h1m2 0h1m2 0h8m1 0h4m2 0h2m1 0h9m1 0h1m2 0h1m1 0h1m2 0h2m1 0h2m1 0h1m1 0h1m2 0h5m1 0h1m1 0h1m2 0h2M902 128.5h1m1 0h19m1 0h3m1 0h2m9 0h1m1 0h7m1 0h1m1 0h2m2 0h1m1 0h4m1 0h1m2 0h1m1 0h3m1 0h3m1 0h2m4 0h4m6 0h1m1 0h4m1 0h1m3 0h5m1 0h1m2 0h2m1 0h2m1 0h1m1 0h1m3 0h1m3 0h2m3 0h2m1 0h2m2 0h1m3 0h1M902 129.5h1m1 0h15m1 0h4m6 0h1m2 0h1m2 0h1m4 0h3m2 0h1m2 0h2m3 0h1m6 0h1m2 0h1m3 0h2m1 0h2m1 0h2m2 0h3m1 0h1m1 0h1m1 0h1m1 0h1m2 0h2m1 0h4m1 0h4m1 0h3m1 0h1m1 0h4m2 0h4m2 0h1m1 0h2m1 0h1m1 0h1m6 0h1m2 0h1m3 0h1M902 130.5h1m2 0h12m1 0h1m1 0h1m5 0h1m1 0h1m1 0h1m9 0h2m2 0h4m6 0h1m2 0h3m3 0h1m2 0h2m2 0h2m2 0h3m2 0h2m1 0h2m2 0h3m3 0h1m1 0h1m2 0h1m1 0h1m2 0h1m2 0h4m3 0h1m6 0h1m2 0h1m3 0h1m1 0h2m3 0h1m7 0h1m1 0h2M905 131.5h9m1 0h2m1 0h1m1 0h2m3 0h1m7 0h1m6 0h2m2 0h1m2 0h2m4 0h1m3 0h3m3 0h2m4 0h6m1 0h4m1 0h1m3 0h2m3 0h1m1 0h4m2 0h2m1 0h1m3 0h2m6 0h1m2 0h3m1 0h1m2 0h3m1 0h2m5 0h3M903 132.5h1m2 0h8m9 0h1m9 0h1m6 0h1m3 0h4m2 0h2m1 0h2m1 0h2m1 0h1m2 0h1m2 0h4m1 0h3m1 0h1m1 0h1m4 0h1m1 0h3m7 0h2m1 0h3m3 0h4m1 0h2m1 0h1m1 0h1m2 0h1m1 0h1m1 0h1m1 0h1m5 0h2m2 0h2m5 0h1m5 0h1M906 133.5h2m1 0h1m3 0h3m9 0h2m2 0h1m2 0h1m1 0h1m1 0h4m1 0h3m1 0h3m1 0h2m2 0h4m2 0h1m3 0h1m1 0h1m1 0h3m2 0h5m1 0h2m1 0h3m1 0h2m3 0h2m1 0h1m1 0h1m4 0h2m4 0h1m1 0h1m4 0h2m1 0h2m5 0h1m6 0h1m1 0h1m11 0h1M912 134.5h1m3 0h1m1 0h1m3 0h1m1 0h2m8 0h1m2 0h1m1 0h1m3 0h2m3 0h2m3 0h2m1 0h1m1 0h4m1 0h1m2 0h1m3 0h3m2 0h1m1 0h1m1 0h1m1 0h1m6 0h3m1 0h2m2 0h1m3 0h3m2 0h1m6 0h1m10 0h1m1 0h1m2 0h1m4 0h1M907 135.5h1m1 0h1m13 0h1m3 0h1m3 0h1m4 0h1m1 0h2m3 0h1m1 0h4m2 0h2m2 0h1m1 0h1m4 0h1m2 0h1m1 0h1m1 0h2m2 0h1m4 0h4m2 0h1m1 0h1m1 0h2m2 0h1m6 0h1m8 0h1m7 0h2m1 0h1m1 0h1m2 0h1m5 0h1m3 0h1m2 0h1m1 0h2M904 136.5h1m7 0h1m6 0h1m1 0h1m5 0h1m1 0h2m1 0h1m1 0h2m1 0h1m3 0h1m1 0h1m1 0h1m5 0h1m2 0h2m2 0h1m5 0h2m2 0h2m1 0h2m1 0h1m1 0h1m1 0h2m1 0h1m1 0h1m5 0h1m3 0h1m2 0h1m6 0h1m2 0h1m6 0h1m2 0h1m1 0h1m3 0h1m1 0h1m1 0h2m2 0h1M905 137.5h1m5 0h1m4 0h1m7 0h1m1 0h1m8 0h1m2 0h1m3 0h1m2 0h1m3 0h2m2 0h1m2 0h1m1 0h2m1 0h5m1 0h1m5 0h1m4 0h1m4 0h2m6 0h2m1 0h1m2 0h2m3 0h1m1 0h1m3 0h1m4 0h1m13 0h1M911 138.5h1m3 0h1m9 0h1m1 0h1m3 0h1m1 0h1m4 0h2m4 0h3m9 0h5m1 0h2m1 0h1m1 0h1m1 0h1m2 0h3m8 0h1m1 0h1m1 0h1m2 0h1m1 0h1m1 0h1m4 0h2m4 0h1m3 0h1M900 139.5h1m14 0h1m1 0h1m6 0h2m2 0h2m2 0h1m5 0h2m1 0h2m2 0h1m2 0h1m9 0h1m4 0h1m2 0h1m1 0h1m4 0h4m4 0h1m4 0h4m1 0h3m4 0h1m13 0h1m1 0h1m3 0h1m16 0h1M887 140.5h1m7 0h1m13 0h1m4 0h2m1 0h2m7 0h2m1 0h1m1 0h1m1 0h2m3 0h2m5 0h1m3 0h6m4 0h1m3 0h2m2 0h1m8 0h1m1 0h1m2 0h2m2 0h1m3 0h1m5 0h1m1 0h1m2 0h1m1 0h1m2 0h1m5 0h1m3 0h1M905 141.5h1m11 0h1m3 0h1m2 0h2m6 0h3m3 0h2m1 0h5m4 0h1m1 0h1m1 0h2m1 0h1m1 0h1m6 0h2m1 0h1m1 0h1m6 0h1m1 0h1m1 0h2m3 0h1m7 0h3m1 0h2m1 0h1m4 0h1m4 0h1m1 0h1M887 142.5h1m7 0h1m4 0h1m5 0h1m2 0h2m3 0h1m2 0h1m13 0h1m1 0h3m1 0h1m3 0h1m1 0h2m4 0h1m3 0h1m1 0h1m1 0h1m2 0h2m4 0h1m6 0h1m2 0h1m1 0h1m4 0h1m5 0h2m5 0h1m1 0h1m3 0h1m29 0h1M895 143.5h1m6 0h1m7 0h2m7 0h1m7 0h1m1 0h2m3 0h1m1 0h4m6 0h3m8 0h1m6 0h1m2 0h1m2 0h1m1 0h1m9 0h1m1 0h1m5 0h1m7 0h1m15 0h1M905 144.5h1m11 0h1m3 0h1m1 0h1m1 0h2m1 0h1m17 0h1m1 0h1m5 0h1m4 0h1m2 0h1m3 0h1m4 0h1m1 0h2m2 0h1m3 0h2m20 0h1m1 0h2M919 145.5h1m22 0h1m8 0h1m8 0h1m3 0h1m1 0h1m2 0h1m14 0h3m6 0h1m6 0h1M896 146.5h1m1 0h1m16 0h2m1 0h1m1 0h1m7 0h1m12 0h3m2 0h1m2 0h2m4 0h1m6 0h1m13 0h1m3 0h1m8 0h1m3 0h1m5 0h1m5 0h1m3 0h1m3 0h1M900 147.5h1m9 0h1m7 0h1m6 0h1m1 0h1m6 0h1m3 0h1m5 0h1m10 0h1m8 0h1m5 0h1m1 0h1m22 0h2m8 0h1m19 0h1M894 148.5h1m6 0h1m20 0h1m3 0h1m2 0h1m17 0h1m6 0h1m22 0h1m4 0h1m6 0h1m7 0h1M899 149.5h1m1 0h2m9 0h1m1 0h1m2 0h1m6 0h1m1 0h1m1 0h2m3 0h2m2 0h1m1 0h1m7 0h3m2 0h1m4 0h1m7 0h1m27 0h1M899 150.5h1m2 0h1m2 0h1m3 0h1m6 0h2m27 0h1m2 0h2m2 0h1m2 0h2m2 0h1m6 0h1m7 0h1m5 0h1m9 0h1M905 151.5h1m4 0h1m12 0h3m7 0h1m5 0h1m2 0h1m5 0h2m4 0h1m4 0h1m1 0h1m6 0h1m2 0h1m3 0h1m1 0h1M897 152.5h1m2 0h1m3 0h1m7 0h1m22 0h1m9 0h1m1 0h1m9 0h1M872 153.5h1m25 0h1m3 0h1m9 0h1m1 0h1m12 0h2m14 0h1m3 0h1m15 0h1m30 0h1M898 154.5h1m1 0h1m5 0h1m5 0h1m13 0h2m3 0h1m3 0h1m4 0h1m22 0h1m6 0h1M895 155.5h2m8 0h3m3 0h1m1 0h1m6 0h1m11 0h1m17 0h1M897 156.5h1m26 0h1m6 0h1m17 0h1m1 0h1m27 0h1m7 0h1M894 157.5h1m4 0h1m4 0h1m1 0h1m1 0h1m4 0h1m10 0h1m6 0h1m3 0h1m9 0h1m2 0h1m1 0h1m10 0h1m6 0h1m20 0h1M883 158.5h1m14 0h1m1 0h2m3 0h4m2 0h1m13 0h1m7 0h1m4 0h1m2 0h1m5 0h1m16 0h1m22 0h1m5 0h1M875 159.5h1m5 0h2m17 0h1m54 0h1M875 160.5h1m4 0h1m4 0h1m2 0h1m11 0h1m3 0h1m2 0h1m5 0h2m1 0h1m4 0h1m22 0h1M866 161.5h1m14 0h1m18 0h1m1 0h1m1 0h1m6 0h1m50 0h1M862 162.5h1m6 0h1m35 0h1m2 0h1m3 0h1m17 0h1m43 0h1m7 0h1m6 0h1M872 163.5h1m7 0h1m9 0h2m1 0h1m6 0h1m1 0h1m5 0h1m14 0h1M874 164.5h1m15 0h1m1 0h1m31 0h1m19 0h1M858 165.5h1m11 0h1m21 0h1m4 0h1m2 0h1m2 0h1m29 0h1m17 0h1m7 0h1M855 166.5h1m7 0h1m7 0h1m13 0h1m6 0h1m5 0h2m5 0h1M856 167.5h1m29 0h1m2 0h1m3 0h1m7 0h1m5 0h1m15 0h1M887 168.5h1m7 0h1m2 0h2m4 0h1m3 0h1M888 169.5h1m3 0h2m5 0h2m8 0h1m3 0h1M869 170.5h1m8 0h2m5 0h1m2 0h1m8 0h3m8 0h1m18 0h1M877 171.5h1m11 0h1m5 0h1m2 0h1m1 0h1m1 0h1M877 172.5h1m2 0h1m2 0h1m5 0h2m1 0h1m7 0h1m5 0h1M881 173.5h1m11 0h1m2 0h2m5 0h1m2 0h1m4 0h1M884 174.5h1m2 0h1m4 0h1m28 0h1M896 175.5h1m2 0h1m1 0h1m8 0h1M873 176.5h1m1 0h1m6 0h1m5 0h1m15 0h1M866 177.5h1m20 0h1m3 0h4m1 0h1m1 0h1m2 0h1m1 0h1m1 0h1M853 178.5h1m20 0h1m9 0h1m1 0h1m2 0h2m13 0h1M862 179.5h1m10 0h1m12 0h1m4 0h1m1 0h1m3 0h1m1 0h2M864 180.5h1m10 0h2m2 0h2m8 0h2m6 0h1M873 181.5h1m1 0h1m10 0h1m3 0h1m7 0h1m3 0h1M879 182.5h1m1 0h1m8 0h1m1 0h1m1 0h2m6 0h1M855 183.5h1m25 0h1m3 0h1m3 0h1M848 184.5h1m9 0h1m11 0h1m10 0h1m2 0h1m2 0h2m1 0h1m1 0h1m1 0h1m2 0h1M873 185.5h1m2 0h1m12 0h1M866 186.5h1m11 0h1m3 0h3m1 0h2m2 0h1M865 187.5h1m12 0h2m6 0h1m7 0h2m3 0h1M870 188.5h1m4 0h1m6 0h1m12 0h1m6 0h1M866 189.5h1m21 0h1m9 0h1m4 0h1M876 190.5h1m7 0h1m1 0h1M862 191.5h1m7 0h1m17 0h2m5 0h1M873 192.5h1m3 0h1m3 0h1m11 0h1M869 193.5h1m6 0h1m1 0h1m5 0h1m3 0h2m10 0h1m13 0h1M879 194.5h2m2 0h1m2 0h1m10 0h1M863 195.5h1m10 0h1m4 0h2m1 0h1m5 0h1M875 196.5h1m10 0h1M880 197.5h1m1 0h1m2 0h1m5 0h1M881 198.5h1m16 0h1M858 199.5h1m7 0h1m1 0h1m2 0h1m3 0h1m7 0h1M865 200.5h1m1 0h1m6 0h1m1 0h1m1 0h1m16 0h2M878 201.5h2m11 0h3M867 202.5h1m1 0h1M865 203.5h1m13 0h1m4 0h1m3 0h1m2 0h1M873 204.5h1m4 0h1m2 0h1m3 0h1M870 205.5h1m5 0h3m7 0h1M872 206.5h1m1 0h1M866 207.5h1m4 0h1m4 0h1m2 0h1M857 208.5h1m6 0h1m7 0h1m12 0h1m1 0h1m6 0h1M864 209.5h1m6 0h1m11 0h1m3 0h1M867 210.5h2m6 0h1m2 0h1M855 211.5h1m5 0h1m6 0h1m2 0h1m2 0h1m2 0h1M862 212.5h1m1 0h2m15 0h1M862 213.5h1m7 0h1m4 0h1M865 214.5h1m2 0h1m8 0h1m6 0h1M839 215.5h1m23 0h1m10 0h1M847 216.5h1m7 0h1m1 0h1m3 0h1m8 0h1m1 0h1m3 0h1m5 0h1m1 0h1M846 217.5h1m2 0h1m19 0h1M859 218.5h2m6 0h1m1 0h1m4 0h1m8 0h1M858 219.5h2m1 0h1m3 0h2m4 0h1m1 0h1M861 220.5h1M853 221.5h1m1 0h1m1 0h1m2 0h1m2 0h1m10 0h1M854 222.5h1m13 0h1M849 223.5h1m1 0h1m7 0h1m3 0h1M844 224.5h1m4 0h1m6 0h3m3 0h1m8 0h1m7 0h1M851 225.5h1m14 0h1m1 0h1M844 226.5h1m3 0h4m1 0h1m13 0h1m1 0h1m5 0h2m6 0h1M850 227.5h1m1 0h1m2 0h1m3 0h2m6 0h1m6 0h1m3 0h1M847 228.5h1m7 0h1m10 0h1m12 0h1M848 229.5h1m5 0h1m3 0h1m2 0h1m5 0h2M843 230.5h1m3 0h1m6 0h1m15 0h1m1 0h1M858 231.5h1m15 0h1m2 0h1M853 232.5h1m1 0h1m1 0h1M852 233.5h1m3 0h1m5 0h1m11 0h1M859 234.5h2m5 0h1M832 235.5h1m14 0h1m8 0h1m2 0h1m1 0h3M841 236.5h2m11 0h1m2 0h1m3 0h2m2 0h1M831 237.5h1m17 0h1m1 0h1m8 0h2m2 0h1M848 238.5h1m1 0h1m1 0h1M833 239.5h1m3 0h1m2 0h3m6 0h1m1 0h1m6 0h2M840 240.5h1m2 0h2m1 0h1m4 0h2m2 0h1m2 0h1M834 241.5h1m6 0h2m5 0h1m4 0h2m11 0h1M833 242.5h1m14 0h1m9 0h1m6 0h1M846 243.5h1m4 0h1m2 0h1m1 0h1m1 0h1m1 0h1m5 0h1M831 244.5h1m6 0h1m7 0h1m1 0h1m1 0h1m4 0h3M831 245.5h1m7 0h1m4 0h1m1 0h1m4 0h1m1 0h2m4 0h1M821 246.5h1m11 0h1m2 0h1m3 0h1m2 0h1m1 0h1m1 0h1m5 0h1m4 0h1M813 247.5h1m11 0h1m15 0h3m4 0h2m2 0h1m4 0h1m1 0h1m1 0h1M836 248.5h2m1 0h1m5 0h1m11 0h1M834 249.5h1m2 0h1m3 0h1m1 0h2m1 0h2m1 0h1m2 0h3m2 0h1M827 250.5h1m1 0h1m8 0h1m3 0h2m5 0h1m14 0h1M831 251.5h1m3 0h1m2 0h1m1 0h1m7 0h2m3 0h1m2 0h1m4 0h1M827 252.5h1m1 0h1m2 0h2m10 0h1m1 0h1m1 0h1m3 0h1m4 0h3m7 0h1M821 253.5h1m1 0h1m2 0h2m2 0h1m4 0h2m4 0h3m5 0h1m5 0h1m1 0h1m6 0h1M830 254.5h2m3 0h1m6 0h1m1 0h1m3 0h1m5 0h1m1 0h1m1 0h1m1 0h1M826 255.5h2m3 0h2m3 0h1m14 0h3m9 0h1M819 256.5h2m5 0h1m8 0h1m9 0h1m7 0h1m5 0h1M822 257.5h1m2 0h1m4 0h1m6 0h1m4 0h1m2 0h3m11 0h1m3 0h1M835 258.5h1m8 0h4m3 0h1M820 259.5h1m6 0h1m3 0h1m4 0h1M817 260.5h1m7 0h1m1 0h1m1 0h1m10 0h1M816 261.5h1m16 0h1m3 0h1m5 0h1m2 0h1m1 0h2m4 0h1m3 0h2M810 262.5h1m10 0h1m1 0h2m2 0h2m4 0h3m2 0h1m4 0h3M817 263.5h2m4 0h1m9 0h3m4 0h1m10 0h1m5 0h1M807 264.5h2m12 0h1m3 0h4m11 0h1m1 0h1m5 0h1M800 265.5h1m7 0h1m5 0h1m6 0h2m1 0h1m4 0h1m2 0h2M808 266.5h1m9 0h1m2 0h1m2 0h2m1 0h1m2 0h1m1 0h2m7 0h1M802 267.5h1m6 0h1m3 0h1m1 0h1m3 0h3m12 0h1m3 0h1m3 0h1M805 268.5h1m1 0h1m2 0h1m2 0h1m1 0h1m1 0h1m4 0h2m1 0h1m2 0h1m6 0h1m5 0h1m6 0h1M806 269.5h1m3 0h2m4 0h2m1 0h1m5 0h1m3 0h1m8 0h1m1 0h1m3 0h1M808 270.5h1m1 0h3m4 0h1m3 0h3m6 0h1m2 0h1M809 271.5h1m5 0h1m2 0h1m2 0h1m3 0h1m2 0h1M809 272.5h1m1 0h2m4 0h2m3 0h1m1 0h1m2 0h1m3 0h1m17 0h1M799 273.5h1m1 0h1m2 0h2m1 0h1m13 0h1m1 0h1m1 0h1m2 0h1M803 274.5h2m1 0h1m3 0h1m1 0h1m9 0h1m1 0h1m2 0h2m3 0h1M799 275.5h2m1 0h1m4 0h1m3 0h3m5 0h1m4 0h1M806 276.5h2m2 0h2m14 0h1m10 0h1M800 277.5h1m2 0h1m9 0h1m4 0h1m8 0h1M799 278.5h1m1 0h1m9 0h2m2 0h1m1 0h1m3 0h2m1 0h1M799 279.5h2m2 0h2m4 0h1m2 0h2m4 0h1m3 0h1m1 0h2M799 280.5h1m2 0h1m7 0h1m15 0h1M804 281.5h1m2 0h1m2 0h1m4 0h1m1 0h1" stroke="#3a3a3a" stroke-width="1" fill="none"/>
<path d="M216 415.5h1m13 0h1m2 0h1m1 0h1m7 0h3m1 0h2m1 0h1m1 0h2m1 0h2m6 0h1m4 0h2m1 0h1m3 0h1m1 0h1m9 0h1M172 416.5h1m10 0h1m10 0h1m2 0h1m16 0h1m10 0h1m4 0h5m3 0h3m1 0h6m1 0h1m1 0h1m3 0h2m1 0h5m1 0h1m1 0h2m7 0h3m2 0h4m1 0h2m4 0h1m1 0h1m1 0h2M205 417.5h1m5 0h1m5 0h2m1 0h1m6 0h1m1 0h1m2 0h2m2 0h1m1 0h3m1 0h1m2 0h2m1 0h1m1 0h1m1 0h4m1 0h4m2 0h4m1 0h1m1 0h1m1 0h2m3 0h1m1 0h1m2 0h2m4 0h1m7 0h1M195 418.5h1m20 0h2m1 0h1m1 0h1m1 0h1m4 0h1m1 0h11m1 0h2m1 0h1m1 0h20m4 0h2m5 0h2m2 0h1m7 0h2m1 0h3M200 419.5h1m1 0h1m12 0h1m1 0h1m1 0h1m3 0h1m1 0h49m1 0h4m1 0h1m1 0h1m1 0h2m2 0h1m5 0h1M217 420.5h1m1 0h11m1 0h49m1 0h2m1 0h1m1 0h2M211 421.5h1m2 0h2m2 0h65m1 0h2m3 0h1M189 422.5h1m22 0h1m1 0h1m1 0h5m1 0h60m1 0h2m1 0h1m1 0h1M207 423.5h1m5 0h1m1 0h1m2 0h66m2 0h5m5 0h1M216 424.5h1m2 0h74m2 0h1M214 425.5h2m3 0h3m1 0h66m1 0h2m1 0h1m2 0h1M210 426.5h1m3 0h1m2 0h75m1 0h1m1 0h1M208 427.5h1m5 0h1m1 0h76m2 0h3M205 428.5h1m4 0h1m3 0h79m3 0h1M215 429.5h78m2 0h2M179 430.5h1m25 0h2m5 0h81m1 0h3M209 431.5h1m4 0h1m1 0h3m1 0h76M191 432.5h1m13 0h1m9 0h82M176 433.5h1m13 0h1m1 0h1m15 0h1m2 0h2m1 0h2m1 0h80M183 434.5h1m14 0h1m13 0h1m2 0h82M209 435.5h1m2 0h3m1 0h1m1 0h79M163 436.5h1m45 0h2m1 0h1m1 0h83M212 437.5h1m2 0h82M213 438.5h6m2 0h76M186 439.5h1m30 0h80M215 440.5h1m1 0h80M174 441.5h1m38 0h1m1 0h82M215 442.5h82M185 443.5h1m1 0h1m7 0h1m18 0h1m3 0h1m1 0h1m1 0h75M214 444.5h1m1 0h1m1 0h79M214 445.5h1m3 0h3m1 0h75M213 446.5h2m2 0h80M216 447.5h1m1 0h79M218 448.5h4m2 0h73M209 449.5h1m6 0h1m1 0h1m1 0h1m1 0h75M195 450.5h1m24 0h3m1 0h73M221 451.5h76M182 452.5h1m34 0h1m3 0h3m1 0h72M182 453.5h1m33 0h1m3 0h2m1 0h2m1 0h71M222 454.5h1m2 0h72M194 455.5h1m27 0h1m1 0h2m1 0h70M221 456.5h2m2 0h2m1 0h69M192 457.5h1m1 0h1m29 0h3m1 0h1m1 0h67M196 458.5h1m27 0h1m3 0h1m2 0h66M175 459.5h1m2 0h1m8 0h1m40 0h1m1 0h67M221 460.5h1m3 0h1m5 0h66M170 461.5h1m3 0h1m52 0h2m1 0h1m1 0h1m1 0h63M168 462.5h1m36 0h1m15 0h1m2 0h1m1 0h1m2 0h1m1 0h66M176 463.5h1m51 0h1m1 0h2m2 0h63M170 464.5h1m59 0h2m2 0h1m1 0h1m1 0h59M178 465.5h1m37 0h1m10 0h1m2 0h1m3 0h1m1 0h1m2 0h58M168 466.5h1m1 0h1m44 0h1m7 0h1m11 0h1m2 0h59M183 467.5h1m12 0h1m35 0h2m1 0h3m1 0h58M171 468.5h1m45 0h1m15 0h1m3 0h1m3 0h2m1 0h53M208 469.5h1m24 0h1m5 0h1m2 0h55M168 470.5h1m13 0h1m47 0h1m2 0h1m4 0h1m3 0h1m1 0h53M163 471.5h1m9 0h1m24 0h1m13 0h1m1 0h1m6 0h1m5 0h1m3 0h2m1 0h2m1 0h1m2 0h1m1 0h1m1 0h53M154 472.5h1m12 0h1m7 0h1m51 0h1m2 0h1m5 0h2m2 0h1m2 0h54M164 473.5h1m28 0h1m14 0h1m23 0h2m3 0h2m1 0h2m2 0h53M197 474.5h1m21 0h1m3 0h1m8 0h1m1 0h1m5 0h1m4 0h1m1 0h50M170 475.5h1m2 0h1m46 0h1m13 0h1m3 0h1m1 0h1m1 0h1m1 0h52M163 476.5h1m2 0h1m9 0h1m29 0h1m15 0h1m11 0h1m2 0h1m4 0h55M143 477.5h1m68 0h1m2 0h1m12 0h1m2 0h1m2 0h1m4 0h2m1 0h1m1 0h53M171 478.5h1m50 0h2m7 0h1m2 0h1m1 0h1m4 0h2m2 0h47m1 0h4M185 479.5h1m19 0h1m10 0h1m4 0h1m12 0h1m7 0h1m2 0h36m1 0h15M175 480.5h1m22 0h1m13 0h1m2 0h1m6 0h1m2 0h1m7 0h2m4 0h3m2 0h53M155 481.5h1m2 0h1m1 0h1m39 0h1m6 0h1m5 0h1m1 0h2m6 0h1m3 0h1m3 0h3m3 0h1m1 0h5m1 0h33m1 0h6m1 0h4m1 0h4m1 0h1M157 482.5h1m40 0h1m9 0h1m1 0h1m5 0h1m2 0h3m1 0h2m6 0h1m1 0h2m4 0h5m1 0h3m1 0h28m1 0h9m1 0h6m1 0h2M166 483.5h1m36 0h1m8 0h1m2 0h1m3 0h2m3 0h1m4 0h1m2 0h2m2 0h1m1 0h1m3 0h1m3 0h1m1 0h1m1 0h25m1 0h21M196 484.5h1m16 0h1m4 0h1m2 0h1m1 0h1m4 0h1m1 0h2m1 0h1m1 0h4m2 0h1m2 0h28m1 0h12m1 0h2m1 0h1m1 0h1m1 0h4M157 485.5h1m46 0h1m9 0h1m1 0h1m2 0h1m4 0h1m1 0h2m1 0h2m1 0h1m4 0h40m2 0h7m1 0h10M152 486.5h1m4 0h1m39 0h1m5 0h1m10 0h1m10 0h1m3 0h2m1 0h2m1 0h2m2 0h4m2 0h1m1 0h1m1 0h4m1 0h14m1 0h1m1 0h1m1 0h9m2 0h4m1 0h4m1 0h3M188 487.5h1m16 0h1m6 0h1m1 0h1m2 0h1m1 0h1m7 0h1m1 0h1m1 0h1m1 0h1m1 0h4m1 0h5m1 0h1m2 0h3m1 0h7m1 0h1m1 0h5m1 0h2m1 0h9m1 0h6m1 0h2m2 0h1m1 0h2M149 488.5h1m51 0h1m14 0h1m3 0h1m7 0h1m2 0h1m1 0h3m2 0h2m1 0h2m1 0h2m1 0h2m3 0h5m2 0h18m1 0h4m1 0h7m2 0h3m1 0h1M210 489.5h1m5 0h3m2 0h1m1 0h1m1 0h1m3 0h2m2 0h10m1 0h5m1 0h2m1 0h18m1 0h3m1 0h5m2 0h1m2 0h2m1 0h3m1 0h3M136 490.5h1m10 0h2m1 0h1m63 0h1m4 0h1m4 0h3m2 0h1m1 0h2m2 0h1m1 0h1m3 0h1m2 0h2m1 0h5m2 0h8m3 0h3m1 0h8m2 0h2m2 0h1m1 0h8m2 0h1M152 491.5h1m4 0h1m13 0h1m41 0h1m3 0h4m5 0h1m1 0h2m1 0h1m1 0h1m2 0h6m2 0h4m3 0h5m1 0h1m1 0h4m1 0h2m1 0h5m2 0h6m2 0h2m3 0h4m1 0h3M151 492.5h1m52 0h1m2 0h1m18 0h1m1 0h1m1 0h1m1 0h4m1 0h1m1 0h1m2 0h2m3 0h1m1 0h2m1 0h2m2 0h2m1 0h6m1 0h3m1 0h3m1 0h2m1 0h2m1 0h3m1 0h1m1 0h2m1 0h5M155 493.5h2m29 0h1m18 0h2m1 0h1m1 0h1m3 0h1m2 0h1m2 0h1m7 0h1m1 0h4m1 0h2m2 0h1m1 0h3m1 0h6m1 0h2m1 0h1m2 0h1m4 0h6m2 0h3m1 0h4m1 0h2m1 0h2m1 0h2m1 0h5m2 0h1M155 494.5h1m14 0h1m6 0h1m16 0h1m13 0h1m6 0h1m2 0h1m1 0h1m3 0h1m2 0h3m4 0h1m1 0h2m2 0h1m3 0h3m1 0h3m2 0h2m3 0h5m1 0h4m1 0h6m2 0h6m1 0h1m2 0h3m3 0h1m1 0h2M153 495.5h1m47 0h1m9 0h1m1 0h2m2 0h1m1 0h1m1 0h1m5 0h1m1 0h4m1 0h1m1 0h1m2 0h7m2 0h5m1 0h1m1 0h1m1 0h1m1 0h1m1 0h1m3 0h4m4 0h3m1 0h1m1 0h3m1 0h2m3 0h2m1 0h1M210 496.5h1m4 0h1m1 0h1m1 0h3m2 0h1m4 0h1m2 0h1m2 0h2m1 0h1m1 0h1m2 0h10m1 0h3m1 0h4m1 0h2m1 0h5m1 0h3m1 0h4m3 0h3m3 0h4m1 0h1M169 497.5h1m10 0h1m21 0h1m8 0h1m4 0h1m1 0h1m3 0h1m1 0h1m4 0h1m4 0h7m1 0h1m1 0h1m3 0h2m1 0h2m1 0h2m8 0h2m1 0h8m2 0h5m1 0h1m1 0h2m2 0h1m2 0h1M139 498.5h1m9 0h1m6 0h1m39 0h1m1 0h1m14 0h1m6 0h1m3 0h1m1 0h1m1 0h2m1 0h2m1 0h1m2 0h1m3 0h2m3 0h1m1 0h4m1 0h2m1 0h5m1 0h1m2 0h1m1 0h8m1 0h3m1 0h1m2 0h4m1 0h1m1 0h1m1 0h2M158 499.5h1m36 0h1m8 0h1m7 0h1m3 0h1m5 0h2m1 0h2m1 0h3m1 0h2m1 0h1m4 0h1m2 0h3m2 0h1m2 0h1m3 0h2m1 0h3m1 0h6m4 0h1m1 0h3m4 0h1m4 0h2m4 0h2m1 0h2M132 500.5h1m16 0h1m6 0h1m12 0h1m41 0h1m11 0h3m1 0h1m2 0h2m5 0h1m1 0h2m1 0h1m2 0h1m1 0h1m2 0h3m2 0h1m1 0h1m1 0h1m1 0h2m3 0h3m1 0h4m2 0h3m1 0h2m1 0h3m2 0h1m1 0h1m1 0h1M140 501.5h1m8 0h1m12 0h1m29 0h1m9 0h3m5 0h3m3 0h1m3 0h3m2 0h1m1 0h1m1 0h1m1 0h1m1 0h2m2 0h2m1 0h5m6 0h4m2 0h1m1 0h2m2 0h5m2 0h2m2 0h1m2 0h1m3 0h2m2 0h3m4 0h1M170 502.5h1m29 0h1m15 0h1m4 0h2m2 0h1m1 0h1m1 0h2m1 0h4m6 0h1m1 0h8m1 0h1m5 0h1m3 0h2m1 0h1m4 0h1m1 0h1m1 0h1m4 0h1m1 0h1m1 0h1m3 0h1m3 0h1m1 0h1M140 503.5h1m12 0h1m53 0h2m2 0h1m3 0h1m3 0h1m3 0h1m5 0h1m7 0h1m4 0h1m1 0h5m3 0h1m1 0h1m3 0h2m3 0h2m2 0h1m4 0h3m2 0h2m3 0h2m4 0h1m1 0h3m1 0h1M141 504.5h1m3 0h1m61 0h1m6 0h1m2 0h1m3 0h1m8 0h1m1 0h4m4 0h1m3 0h1m1 0h2m2 0h1m2 0h2m3 0h1m1 0h1m7 0h1m1 0h1m2 0h1m1 0h2m4 0h1m2 0h2m1 0h4m5 0h1M146 505.5h2m55 0h1m6 0h1m6 0h1m3 0h1m3 0h1m1 0h1m2 0h1m3 0h2m3 0h1m9 0h1m3 0h1m1 0h1m3 0h1m1 0h3m4 0h1m2 0h1m3 0h2m1 0h2m2 0h1m2 0h3m3 0h2m1 0h1M187 506.5h1m20 0h2m4 0h3m1 0h2m5 0h1m2 0h1m5 0h1m11 0h7m1 0h1m2 0h1m1 0h1m2 0h4m7 0h3m2 0h1m3 0h1m3 0h2m8 0h1M186 507.5h1m17 0h1m2 0h1m5 0h1m12 0h1m7 0h2m1 0h2m3 0h2m1 0h1m1 0h1m3 0h1m5 0h2m4 0h1m1 0h1m1 0h2m1 0h1m4 0h1m11 0h1m4 0h1M138 508.5h1m26 0h1m18 0h1m19 0h1m13 0h1m2 0h2m7 0h2m1 0h2m3 0h2m6 0h1m2 0h1m6 0h1m2 0h2m1 0h1m2 0h1m3 0h1m1 0h3m2 0h1m9 0h1m3 0h1m2 0h1M130 509.5h1m1 0h1m9 0h1m14 0h1m4 0h1m13 0h1m21 0h1m10 0h1m6 0h2m17 0h1m3 0h1m2 0h1m3 0h2m7 0h1m3 0h2m1 0h2m5 0h1m1 0h1m1 0h2m2 0h2m3 0h2m8 0h1M155 510.5h1m4 0h1m28 0h1m4 0h1m11 0h1m9 0h1m2 0h1m5 0h1m2 0h1m9 0h3m2 0h1m6 0h1m1 0h1m5 0h1m3 0h1m1 0h1m1 0h2m2 0h1m13 0h2m1 0h1m4 0h1m1 0h2M143 511.5h1m44 0h1m8 0h1m4 0h1m3 0h1m1 0h1m8 0h1m1 0h2m2 0h1m6 0h1m2 0h1m1 0h3m1 0h3m4 0h1m1 0h2m3 0h2m4 0h1m2 0h1m1 0h5m2 0h1m2 0h2m2 0h1m4 0h1m10 0h1M180 512.5h1m27 0h1m5 0h1m9 0h5m5 0h2m5 0h1m4 0h1m3 0h1m10 0h2m12 0h1m1 0h2m1 0h2m4 0h2m2 0h1m1 0h1m1 0h1M143 513.5h1m66 0h1m11 0h2m4 0h1m2 0h1m1 0h1m1 0h1m5 0h1m2 0h3m1 0h1m7 0h1m2 0h1m4 0h1m1 0h2m4 0h1m2 0h1m3 0h1m5 0h1m1 0h1m8 0h1M127 514.5h1m9 0h1m2 0h1m18 0h1m51 0h1m3 0h1m9 0h1m2 0h2m3 0h5m2 0h1m6 0h1m3 0h1m8 0h1m5 0h1m4 0h1m5 0h1m5 0h1m1 0h1m3 0h1m6 0h1M158 515.5h1m48 0h1m18 0h3m1 0h1m4 0h1m2 0h2m5 0h1m1 0h1m2 0h1m6 0h1m2 0h1m3 0h3m1 0h2m1 0h1m4 0h3m5 0h2M201 516.5h1m7 0h1m2 0h1m3 0h1m3 0h1m8 0h1m1 0h3m1 0h1m1 0h1m2 0h1m3 0h2m2 0h3m5 0h1m1 0h2m2 0h1m2 0h1m1 0h1m2 0h1m2 0h2m1 0h1m3 0h1m1 0h1m1 0h1m5 0h2m1 0h1M214 517.5h1m3 0h2m2 0h2m2 0h4m3 0h1m2 0h1m2 0h1m2 0h1m3 0h1m2 0h3m1 0h2m2 0h2m1 0h2m2 0h3m1 0h2m2 0h2m6 0h1m1 0h1m6 0h3M133 518.5h1m8 0h1m49 0h1m21 0h1m3 0h2m2 0h4m4 0h1m1 0h2m11 0h1m1 0h1m1 0h3m7 0h1m1 0h1m1 0h1m3 0h1m10 0h1m1 0h1m2 0h2m2 0h1m4 0h1m2 0h2M127 519.5h1m6 0h1m49 0h1m30 0h1m3 0h1m5 0h1m1 0h1m3 0h1m6 0h1m3 0h1m5 0h2m4 0h1m3 0h1m1 0h1m11 0h1m1 0h1m2 0h2m10 0h1M126 520.5h1m90 0h1m2 0h1m5 0h1m3 0h1m3 0h1m1 0h1m1 0h1m6 0h1m2 0h1m1 0h3m1 0h1m1 0h1m3 0h1m3 0h2m2 0h1m2 0h1m2 0h1m1 0h4m1 0h1m2 0h1M151 521.5h1m57 0h2m4 0h1m8 0h2m6 0h2m2 0h3m13 0h1m2 0h1m1 0h4m3 0h1m2 0h2m2 0h1m1 0h3m2 0h1m4 0h1m3 0h2m3 0h1m2 0h1M131 522.5h1m14 0h1m66 0h2m5 0h1m17 0h1m4 0h1m3 0h1m3 0h1m5 0h1m7 0h2m3 0h3m5 0h1m4 0h1m11 0h1M120 523.5h1m6 0h1m65 0h1m7 0h1m3 0h2m16 0h1m2 0h1m1 0h1m5 0h1m6 0h3m1 0h3m2 0h1m1 0h1m1 0h1m7 0h1m6 0h1m4 0h2m1 0h1m5 0h1m8 0h1m1 0h1M123 524.5h1m12 0h1m7 0h1m2 0h1m40 0h1m14 0h1m2 0h2m12 0h1m2 0h1m1 0h1m2 0h1m1 0h1m4 0h4m2 0h1m3 0h1m3 0h1m1 0h1m1 0h1m1 0h1m1 0h1m4 0h2m3 0h1m1 0h1m1 0h1m1 0h3m1 0h1m4 0h2m3 0h1m1 0h2M128 525.5h1m5 0h1m59 0h1m17 0h1m3 0h1m2 0h1m2 0h1m5 0h1m5 0h1m1 0h3m5 0h1m6 0h1m3 0h3m2 0h1m1 0h1m4 0h1m3 0h3m2 0h1m2 0h1m2 0h1m1 0h3m4 0h1m3 0h1M219 526.5h1m3 0h1m2 0h1m4 0h1m1 0h1m5 0h2m1 0h1m1 0h1m1 0h2m2 0h1m2 0h1m4 0h1m2 0h1m4 0h2m2 0h1m2 0h4m1 0h2m2 0h1m3 0h1m2 0h1m5 0h1M127 527.5h1m74 0h1m4 0h2m6 0h1m2 0h1m2 0h2m3 0h1m1 0h1m2 0h1m3 0h2m4 0h1m1 0h1m3 0h2m4 0h2m1 0h1m1 0h1m1 0h1m1 0h1m1 0h6m2 0h1m1 0h1m4 0h1m3 0h1m1 0h1m4 0h1m2 0h2M166 528.5h1m37 0h1m16 0h1m1 0h4m2 0h1m5 0h2m1 0h2m2 0h3m2 0h1m3 0h2m3 0h1m1 0h1m2 0h1m9 0h1m6 0h1m5 0h1m7 0h2m2 0h1M122 529.5h1m2 0h1m6 0h1m51 0h1m32 0h2m5 0h2m4 0h2m1 0h1m3 0h1m6 0h1m2 0h1m2 0h1m2 0h1m2 0h1m1 0h2m3 0h1m2 0h1m2 0h1m6 0h1m2 0h2m1 0h1m3 0h1m1 0h1m2 0h1m3 0h1M128 530.5h1m71 0h1m3 0h1m12 0h1m8 0h1m1 0h1m3 0h2m3 0h1m2 0h2m11 0h1m4 0h1m1 0h2m4 0h2m4 0h1m1 0h1m1 0h1m6 0h3m1 0h2m1 0h1m3 0h1M210 531.5h3m3 0h2m2 0h1m5 0h1m10 0h2m6 0h1m1 0h1m3 0h1m2 0h1m6 0h1m1 0h3m2 0h1m1 0h1m1 0h1m1 0h1m1 0h1m2 0h1m1 0h2m1 0h2m1 0h1m2 0h1m2 0h1m1 0h1M119 532.5h1m3 0h1m2 0h1m35 0h1m22 0h1m7 0h1m8 0h1m2 0h1m7 0h2m11 0h1m3 0h1m2 0h1m1 0h1m2 0h1m6 0h1m1 0h1m2 0h1m1 0h3m3 0h1m3 0h2m1 0h2m1 0h1m1 0h1m1 0h1m1 0h1m5 0h1m5 0h1m2 0h1m1 0h1M113 533.5h1m3 0h1m64 0h1m43 0h2m2 0h1m4 0h5m5 0h2m2 0h1m1 0h1m2 0h3m3 0h1m1 0h1m1 0h1m2 0h1m1 0h3m1 0h2m11 0h1m3 0h1m3 0h1M218 534.5h2m3 0h3m11 0h2m1 0h1m1 0h2m4 0h1m2 0h1m3 0h2m1 0h1m3 0h2m4 0h3m2 0h1m2 0h4m6 0h1m5 0h2M179 535.5h1m24 0h1m12 0h1m2 0h1m1 0h1m4 0h1m3 0h3m2 0h3m3 0h1m1 0h1m4 0h1m4 0h1m2 0h6m3 0h3m3 0h1m2 0h1m1 0h1m4 0h2m4 0h1m2 0h1M120 536.5h2m77 0h1m11 0h1m9 0h1m1 0h1m1 0h1m3 0h1m5 0h1m6 0h1m3 0h1m1 0h3m1 0h1m2 0h1m2 0h2m1 0h1m4 0h2m1 0h1m2 0h1m1 0h1m1 0h1m6 0h1m12 0h1M183 537.5h1m20 0h1m9 0h1m1 0h1m3 0h1m2 0h1m3 0h1m1 0h1m6 0h1m5 0h4m1 0h1m1 0h1m3 0h2m1 0h1m1 0h1m3 0h3m6 0h2m2 0h1m11 0h2M129 538.5h1m61 0h1m6 0h1m7 0h1m4 0h1m4 0h1m1 0h1m1 0h1m1 0h1m1 0h1m1 0h1m3 0h1m1 0h3m1 0h2m2 0h1m1 0h1m2 0h1m2 0h1m4 0h1m1 0h1m1 0h2m2 0h2m1 0h1m4 0h2m1 0h1m3 0h1m3 0h2m9 0h2m1 0h1M205 539.5h1m4 0h1m7 0h2m6 0h2m1 0h1m5 0h1m2 0h2m2 0h1m6 0h2m3 0h1m1 0h2m1 0h2m1 0h2m3 0h1m6 0h2m3 0h1m1 0h1m6 0h1M125 540.5h1m8 0h1m75 0h2m3 0h1m9 0h1m1 0h1m1 0h1m1 0h1m3 0h2m1 0h1m1 0h2m3 0h1m4 0h1m1 0h4m3 0h1m1 0h5m2 0h1m1 0h1m1 0h4m5 0h1m2 0h2m5 0h2m1 0h1M117 541.5h1m56 0h1m19 0h1m12 0h1m2 0h2m1 0h1m2 0h2m3 0h2m2 0h1m1 0h1m3 0h1m2 0h2m1 0h1m1 0h1m1 0h1m2 0h1m3 0h1m2 0h1m5 0h4m3 0h1m1 0h1m3 0h1m4 0h1m18 0h1M93 542.5h1m20 0h1m76 0h1m26 0h4m1 0h1m6 0h1m2 0h1m5 0h1m2 0h1m1 0h1m4 0h1m1 0h1m2 0h1m1 0h2m2 0h3m2 0h2m1 0h1m1 0h2m3 0h1m2 0h4m4 0h1m5 0h1M189 543.5h1m12 0h1m7 0h1m3 0h1m3 0h2m5 0h1m1 0h1m1 0h4m1 0h2m1 0h1m1 0h1m1 0h1m1 0h2m4 0h1m2 0h2m5 0h2m2 0h1m1 0h2m1 0h1m5 0h1m8 0h1m1 0h2m2 0h1M161 544.5h1m11 0h1m14 0h1m16 0h1m19 0h1m3 0h1m4 0h1m3 0h1m3 0h2m1 0h3m2 0h1m1 0h3m1 0h1m3 0h1m2 0h1m1 0h3m1 0h2m7 0h1m3 0h1m2 0h2m2 0h1M114 545.5h1m4 0h1m92 0h1m5 0h1m1 0h1m1 0h2m1 0h1m4 0h1m2 0h1m9 0h2m2 0h1m1 0h3m1 0h2m3 0h1m1 0h1m5 0h3m4 0h1m4 0h1m1 0h1m4 0h1m3 0h1m3 0h1M202 546.5h1m2 0h1m5 0h2m2 0h1m2 0h2m3 0h1m5 0h2m10 0h1m10 0h1m2 0h1m2 0h4m3 0h1m11 0h2m1 0h1m1 0h1m1 0h1m9 0h1M108 547.5h1m2 0h1m5 0h1m87 0h1m5 0h1m2 0h1m7 0h1m1 0h1m2 0h4m1 0h1m2 0h1m3 0h2m5 0h3m4 0h1m8 0h2m1 0h1m4 0h1m1 0h1m1 0h2m1 0h1m1 0h1m2 0h1m3 0h1m4 0h1M105 548.5h1m24 0h1m34 0h1m30 0h1m15 0h1m4 0h1m1 0h1m7 0h2m1 0h2m2 0h2m2 0h2m1 0h1m3 0h3m1 0h2m8 0h2m5 0h1m2 0h1m5 0h2m3 0h1m7 0h1m3 0h2M138 549.5h1m68 0h1m6 0h1m1 0h1m6 0h1m3 0h1m4 0h1m1 0h1m10 0h1m1 0h2m3 0h3m2 0h2m2 0h1m4 0h2m5 0h2m2 0h1m4 0h1m5 0h1m4 0h2M119 550.5h1m16 0h1m64 0h1m11 0h1m12 0h1m2 0h1m3 0h2m2 0h1m1 0h2m1 0h1m4 0h2m4 0h1m5 0h2m2 0h1m3 0h2m2 0h1m3 0h2m3 0h1m13 0h1M107 551.5h1m71 0h1m27 0h3m1 0h4m12 0h1m5 0h1m2 0h2m2 0h4m6 0h3m1 0h2m5 0h1m2 0h1m1 0h3m8 0h1m3 0h1m5 0h1M119 552.5h1m8 0h1m67 0h1m12 0h1m5 0h1m10 0h1m7 0h1m5 0h1m1 0h1m3 0h1m2 0h1m1 0h1m3 0h1m2 0h2m1 0h1m8 0h1m1 0h1m3 0h1m5 0h2m4 0h1m6 0h1M112 553.5h1m90 0h1m7 0h2m12 0h2m5 0h1m1 0h2m6 0h1m1 0h2m6 0h1m3 0h1m2 0h2m8 0h1m2 0h1m1 0h1m3 0h1m3 0h1m4 0h1M109 554.5h1m93 0h1m11 0h1m4 0h1m14 0h1m3 0h1m2 0h1m2 0h1m1 0h1m1 0h1m1 0h1m1 0h2m1 0h2m2 0h1m1 0h2m1 0h1m3 0h1m5 0h1m12 0h1m6 0h1M119 555.5h1m16 0h1m32 0h1m24 0h1m25 0h1m3 0h1m3 0h3m2 0h1m1 0h2m10 0h1m1 0h1m1 0h1m8 0h2m7 0h2m2 0h1m1 0h1m7 0h1m5 0h1m4 0h1M104 556.5h1m95 0h1m19 0h3m1 0h1m3 0h1m2 0h1m10 0h1m1 0h2m1 0h1m5 0h1m5 0h3m6 0h1m6 0h1m3 0h1m7 0h1m4 0h1M101 557.5h1m2 0h1m2 0h1m102 0h1m2 0h1m9 0h3m1 0h1m3 0h1m3 0h1m5 0h1m4 0h2m4 0h1m4 0h1m5 0h1m3 0h1m13 0h1M96 558.5h1m10 0h1m67 0h1m10 0h1m5 0h1m16 0h1m9 0h1m2 0h2m1 0h1m8 0h2m2 0h1m2 0h1m1 0h1m6 0h1m1 0h1m2 0h2m2 0h1m3 0h2m4 0h1m1 0h2m5 0h1m13 0h1M104 559.5h1m24 0h1m50 0h1m8 0h1m2 0h1m11 0h1m5 0h1m8 0h1m3 0h2m1 0h1m2 0h1m2 0h1m6 0h1m8 0h1m4 0h1m4 0h1m1 0h2m1 0h2m2 0h1m4 0h1M96 560.5h1m6 0h1m25 0h1m78 0h1m3 0h1m4 0h1m8 0h1m8 0h1m2 0h1m4 0h2m4 0h1m4 0h1m1 0h1m2 0h1m1 0h1m2 0h2m2 0h1m2 0h2m11 0h1m5 0h1M104 561.5h1m1 0h1m14 0h1m50 0h1m34 0h1m11 0h1m5 0h3m2 0h1m1 0h1m2 0h1m2 0h1m1 0h2m2 0h1m5 0h1m1 0h1m4 0h1m2 0h1m3 0h1m5 0h1m6 0h2m4 0h2m2 0h1m3 0h1M100 562.5h1m20 0h1m7 0h1m4 0h1m64 0h1m13 0h1m11 0h1m3 0h1m9 0h1m3 0h1m4 0h1m3 0h1m7 0h2m2 0h2m3 0h1m16 0h1m2 0h1M105 563.5h1m4 0h1m19 0h1m47 0h1m2 0h1m35 0h1m3 0h3m1 0h1m3 0h1m6 0h2m7 0h1m2 0h3m5 0h1m1 0h1m1 0h1m1 0h1m2 0h1m1 0h1m15 0h1M103 564.5h1m1 0h1m9 0h1m85 0h1m3 0h2m15 0h1m4 0h1m1 0h2m9 0h2m8 0h2m2 0h1m1 0h1m5 0h1m5 0h1m6 0h1m5 0h1m3 0h1m9 0h2M97 565.5h1m3 0h2m108 0h1m5 0h1m5 0h2m2 0h1m7 0h1m2 0h1m1 0h2m1 0h1m1 0h1m1 0h1m4 0h1m1 0h1m3 0h2m4 0h1m4 0h3m2 0h1M144 566.5h1m64 0h1m1 0h1m18 0h1m3 0h1m5 0h1m1 0h1m1 0h1m2 0h3m1 0h3m3 0h1m5 0h1m4 0h1m13 0h2m11 0h1M123 567.5h1m43 0h1m4 0h1m13 0h1m3 0h2m9 0h1m8 0h2m4 0h1m2 0h1m12 0h1m5 0h1m3 0h1m3 0h1m1 0h2m4 0h2m4 0h1m14 0h1m5 0h1m1 0h2m2 0h1M97 568.5h1m76 0h1m20 0h1m3 0h1m9 0h1m5 0h1m1 0h1m4 0h1m1 0h1m3 0h1m9 0h2m2 0h1m2 0h1m8 0h1m1 0h2m6 0h1m5 0h1m3 0h1m1 0h1m8 0h1m9 0h1M99 569.5h1m2 0h1m29 0h1m58 0h1m1 0h1m2 0h1m10 0h1m5 0h1m11 0h1m7 0h1m4 0h1m1 0h1m4 0h1m5 0h1m5 0h1m1 0h1m1 0h2m1 0h1m8 0h1m1 0h1m12 0h1M92 570.5h1m5 0h1m24 0h1m28 0h1m26 0h1m11 0h1m10 0h1m15 0h1m4 0h1m15 0h1m2 0h1m1 0h1m7 0h1m3 0h1m2 0h1m4 0h1m6 0h1m16 0h1M108 571.5h1m11 0h1m24 0h1m59 0h1m20 0h1m9 0h1m5 0h1m2 0h1m2 0h1m1 0h1m4 0h1m2 0h1m1 0h1m2 0h1m4 0h1M96 572.5h2m5 0h1m98 0h1m2 0h1m3 0h1m19 0h1m14 0h2m12 0h1m2 0h1m3 0h1m4 0h1m9 0h1m13 0h1M98 573.5h1m34 0h1m29 0h1m13 0h1m27 0h1m4 0h1m6 0h1m11 0h1m2 0h1m5 0h1m2 0h2m8 0h1m1 0h2m1 0h1m6 0h1m7 0h1m10 0h1M103 574.5h1m104 0h1m2 0h1m12 0h1m4 0h1m2 0h1m2 0h1m3 0h1m3 0h1m4 0h1m5 0h1m6 0h2m3 0h1m20 0h1M198 575.5h1m28 0h1m4 0h1m2 0h1m3 0h1m3 0h2m1 0h1m3 0h1m3 0h1m15 0h1m1 0h1m11 0h1m5 0h1M202 576.5h1m6 0h1m12 0h1m17 0h1m6 0h1m4 0h1m3 0h2m5 0h1m10 0h1m2 0h1M98 577.5h1m15 0h1m86 0h1m2 0h1m20 0h1m14 0h1m1 0h1m12 0h1m5 0h2m22 0h1M88 578.5h2m17 0h1m29 0h1m45 0h1m23 0h2m3 0h1m13 0h1m6 0h1m1 0h1m4 0h2m1 0h1m34 0h1m5 0h2m5 0h1M88 579.5h1m3 0h1m60 0h1m15 0h1m38 0h1m2 0h1m3 0h1m2 0h1m8 0h1m8 0h1m5 0h1m2 0h1m8 0h1m1 0h2m17 0h1M91 580.5h1m3 0h2m112 0h1m6 0h1m3 0h2m8 0h1m4 0h1m6 0h1m9 0h1m9 0h1m33 0h1M84 581.5h1m5 0h1m6 0h1m121 0h1m9 0h1m1 0h1m7 0h2m17 0h2m1 0h1m1 0h1m3 0h1m7 0h1M87 582.5h1m121 0h1m1 0h2m22 0h1m4 0h3m26 0h1m6 0h1m13 0h1M80 583.5h1m6 0h1m85 0h1m19 0h1m6 0h1m30 0h1m7 0h1m4 0h1m5 0h1m6 0h1M90 584.5h1m134 0h1m6 0h1m15 0h1m10 0h1m2 0h1m29 0h1M85 585.5h2m113 0h1m4 0h1m6 0h1m7 0h1m15 0h1m22 0h1m6 0h1m5 0h1m11 0h1M96 586.5h1m85 0h1m7 0h1m21 0h1m14 0h1m12 0h1m10 0h1M80 587.5h1m7 0h1m138 0h1m9 0h1m12 0h1m2 0h1m16 0h1M84 588.5h1m132 0h1m7 0h1m15 0h1m2 0h1m15 0h1m2 0h1m9 0h1M146 589.5h1m72 0h1m2 0h1m7 0h1m13 0h1m1 0h3m38 0h1M150 590.5h1m68 0h1m4 0h1m23 0h1M169 591.5h1m27 0h1m2 0h2m10 0h1m16 0h1m14 0h2m1 0h1m1 0h1m14 0h1m5 0h1M83 592.5h1m20 0h1m13 0h1m61 0h1m7 0h1m17 0h1m56 0h1m5 0h1M97 593.5h1m33 0h1m24 0h1m98 0h1m10 0h1M150 594.5h1m56 0h1m31 0h1m14 0h2m1 0h1m12 0h1m16 0h1m1 0h1M116 595.5h1m30 0h1M202 596.5h1m9 0h1m9 0h1m27 0h1m6 0h1m17 0h1m20 0h1M100 597.5h1m25 0h1m1 0h1m20 0h1m53 0h1m41 0h1m8 0h1m37 0h1M77 598.5h1m134 0h1m7 0h1m7 0h2m13 0h1m1 0h1m31 0h1M140 599.5h1m31 0h1m45 0h1m29 0h1m17 0h1M90 600.5h1m13 0h1m68 0h1m24 0h1m6 0h1m1 0h1m36 0h1m2 0h1m11 0h1m5 0h1m10 0h1M142 601.5h1m24 0h1m4 0h1m35 0h1m3 0h1m3 0h1m3 0h2m32 0h1M56 602.5h1m18 0h1m9 0h1m113 0h2m4 0h1m12 0h1m1 0h1m6 0h1m6 0h1m3 0h1m1 0h1m1 0h1M173 603.5h1m34 0h1m7 0h1m5 0h1m14 0h1M199 604.5h1m47 0h1m38 0h2M68 605.5h1m129 0h1m17 0h1m48 0h1m19 0h1m3 0h1M85 606.5h1m3 0h1m103 0h1m31 0h1m62 0h1M140 607.5h1m115 0h1m18 0h1m4 0h1M100 608.5h1m32 0h1m28 0h1m23 0h1m50 0h1m37 0h1m13 0h1M153 609.5h1m50 0h1m18 0h1m39 0h1m2 0h1m10 0h1m2 0h1m3 0h1m1 0h1M80 610.5h1m183 0h1m4 0h1m2 0h2m4 0h1m1 0h1m1 0h1m1 0h1m6 0h1m4 0h1M182 611.5h1m55 0h1m16 0h1m1 0h2m12 0h1m7 0h1m2 0h1m1 0h1m3 0h2m6 0h1M155 612.5h1m98 0h1m8 0h1m11 0h1m2 0h1m1 0h1m1 0h2m2 0h1m6 0h1M73 613.5h1m76 0h1m89 0h1m7 0h1m4 0h1m4 0h1m8 0h1m7 0h1m1 0h1m4 0h2m9 0h1M175 614.5h1m59 0h1m19 0h1m7 0h3m10 0h1m2 0h1m4 0h1M234 615.5h1m9 0h1m3 0h1m8 0h3m3 0h1m4 0h1m9 0h1m8 0h1M236 616.5h1m1 0h3m14 0h3m2 0h3m1 0h1m4 0h1m8 0h1M56 617.5h1m93 0h1m46 0h1m25 0h1m5 0h1m12 0h1m3 0h1m3 0h1m7 0h1m2 0h1M65 618.5h1m8 0h1m151 0h1m7 0h1m1 0h2m1 0h1m1 0h1m1 0h1m1 0h1m2 0h1m5 0h2M215 619.5h1m3 0h1m11 0h2m1 0h1m1 0h1m5 0h1m2 0h1M198 620.5h1m6 0h1m3 0h1m12 0h1m2 0h1m2 0h1m8 0h1m15 0h1M209 621.5h1m1 0h1m1 0h2m3 0h1m4 0h1m3 0h1m2 0h1m1 0h1m4 0h1m7 0h2M140 622.5h1m59 0h1m3 0h2m1 0h2m4 0h2m2 0h5m2 0h1m10 0h2m7 0h1M189 623.5h1m2 0h1m3 0h1m1 0h1m4 0h1m3 0h1m6 0h1m1 0h1m1 0h1m4 0h1m1 0h1m1 0h1m5 0h1M68 624.5h1m120 0h1m5 0h2m5 0h2m2 0h1m2 0h1m5 0h2m1 0h2m1 0h1m2 0h1m45 0h1M101 625.5h1m76 0h1m7 0h1m2 0h2m4 0h1m3 0h2m1 0h1m4 0h1m4 0h1m2 0h1m8 0h1M162 626.5h1m16 0h1m1 0h1m2 0h1m4 0h1m2 0h1m2 0h1m3 0h2m5 0h2m2 0h1m9 0h1m3 0h1m8 0h1M70 627.5h1m101 0h1m4 0h1m1 0h2m5 0h1m8 0h1m1 0h1m1 0h6m2 0h1M125 628.5h1m44 0h1m6 0h3m3 0h1m3 0h3m1 0h1m1 0h1m5 0h1m2 0h1m2 0h1M153 629.5h1m3 0h1m6 0h2m2 0h1m3 0h2m4 0h2m7 0h2M149 630.5h1m1 0h1m3 0h1m1 0h2m8 0h1m4 0h1m3 0h1m1 0h1m1 0h1m1 0h1m7 0h2m17 0h1M52 631.5h1m89 0h1m8 0h1m5 0h2m1 0h2m3 0h2m4 0h1m5 0h1m1 0h2m12 0h1m100 0h1M132 632.5h1m6 0h1m11 0h1m6 0h1m6 0h1m3 0h1m1 0h1m3 0h2m2 0h1m9 0h1m29 0h1M137 633.5h1m5 0h2m1 0h2m3 0h1m2 0h1m1 0h2m3 0h2m3 0h1m16 0h1M134 634.5h1m4 0h1m3 0h1m2 0h1m3 0h1m1 0h1m4 0h1m5 0h1m1 0h1m17 0h1M121 635.5h1m6 0h1m1 0h1m6 0h5m2 0h4m1 0h1m1 0h1m11 0h1M56 636.5h1m47 0h1m15 0h2m1 0h1m3 0h1m1 0h1m1 0h1m1 0h1m1 0h1m1 0h1m1 0h1m5 0h1m2 0h2m3 0h1M56 637.5h1m72 0h2m4 0h1m4 0h2m3 0h1m6 0h1m29 0h1M60 638.5h1m2 0h1m38 0h1m3 0h1m5 0h1m4 0h2m3 0h1m1 0h3m6 0h2m1 0h2m1 0h1M110 639.5h1m2 0h1m6 0h1m1 0h1m4 0h4m2 0h4m2 0h1m5 0h1M60 640.5h1m41 0h2m3 0h2m8 0h2m5 0h1m7 0h1M101 641.5h1m7 0h1m2 0h1m1 0h1m2 0h1m4 0h2m5 0h1M86 642.5h1m4 0h1m2 0h1m5 0h1m6 0h1m1 0h1m3 0h1m10 0h2m74 0h1M68 643.5h1m5 0h1m3 0h1m4 0h1m2 0h1m5 0h1m13 0h1m1 0h1m7 0h1M62 644.5h1m5 0h1m3 0h1m3 0h2m2 0h1m2 0h1m9 0h1m2 0h1m4 0h1m3 0h1m38 0h1M55 645.5h1m4 0h1m23 0h1m4 0h1m2 0h2m3 0h1m3 0h2m22 0h1M57 646.5h1m5 0h1m2 0h1m2 0h2m1 0h1m3 0h1m1 0h2m1 0h1m4 0h1m9 0h1M60 647.5h1m4 0h1m2 0h1m1 0h1m1 0h15m1 0h1m4 0h1m2 0h1m108 0h1M58 648.5h1m3 0h29m111 0h1M55 649.5h1m1 0h35m2 0h1M53 650.5h39M53 651.5h31" stroke="#151515" stroke-width="1" fill="none"/>
<path d="M415 415.5h1m6 0h1m5 0h1m16 0h1m5 0h2m6 0h3m3 0h2m1 0h1m9 0h1m3 0h4m1 0h2m1 0h2m1 0h3m2 0h2m2 0h4m1 0h2m1 0h1m7 0h1m7 0h1m1 0h1m11 0h1m3 0h1m1 0h1M443 416.5h1m4 0h1m4 0h1m6 0h1m1 0h2m6 0h1m3 0h1m2 0h1m2 0h1m2 0h1m3 0h1m4 0h1m2 0h1m2 0h3m1 0h1m1 0h1m1 0h2m1 0h2m1 0h1m2 0h1m1 0h2m5 0h1m1 0h1m1 0h1m1 0h1m1 0h5m2 0h2M440 417.5h1m12 0h1m2 0h1m1 0h1m2 0h1m1 0h1m4 0h1m2 0h1m2 0h1m1 0h1m1 0h1m5 0h2m1 0h2m5 0h1m2 0h1m2 0h1m4 0h3m2 0h2m4 0h2m2 0h2m2 0h1m2 0h2m1 0h1m1 0h1m3 0h1m1 0h1m2 0h1M426 418.5h1m10 0h1m3 0h1m15 0h1m5 0h2m2 0h1m1 0h1m4 0h2m2 0h6m4 0h1m1 0h3m1 0h1m1 0h1m2 0h2m2 0h1m1 0h2m1 0h2m1 0h1m3 0h1m1 0h1m4 0h3m2 0h2m3 0h1m1 0h1M458 419.5h2m4 0h2m2 0h2m2 0h1m1 0h2m1 0h1m1 0h2m1 0h1m4 0h1m1 0h1m2 0h2m1 0h1m1 0h1m1 0h3m1 0h2m5 0h1m1 0h1m1 0h2m6 0h1m1 0h2m3 0h1M423 420.5h1m14 0h1m22 0h1m2 0h2m2 0h1m1 0h1m3 0h25m1 0h6m1 0h1m1 0h3m7 0h2m1 0h1m2 0h1m1 0h1m1 0h2m3 0h1m7 0h1M421 421.5h1m24 0h1m7 0h1m5 0h1m2 0h3m2 0h4m2 0h2m1 0h1m2 0h11m1 0h7m1 0h9m1 0h5m2 0h3m1 0h1m1 0h1m3 0h2m13 0h1M451 422.5h1m2 0h2m2 0h2m2 0h1m1 0h2m2 0h4m1 0h12m1 0h20m1 0h3m1 0h4m1 0h7m5 0h1m14 0h1M443 423.5h1m10 0h1m1 0h1m2 0h2m4 0h4m1 0h5m1 0h2m1 0h33m1 0h3m1 0h6m1 0h1m1 0h1m1 0h1m2 0h5M453 424.5h1m1 0h1m1 0h1m1 0h1m2 0h9m1 0h6m1 0h28m1 0h4m1 0h4m1 0h1m1 0h1m1 0h2m5 0h1M448 425.5h1m1 0h1m3 0h5m1 0h8m1 0h53m1 0h7m1 0h1m1 0h2M449 426.5h1m3 0h2m4 0h61m1 0h7m1 0h1m2 0h1m1 0h2m1 0h1m3 0h1M448 427.5h1m2 0h1m3 0h2m2 0h1m1 0h66m5 0h1m1 0h3M449 428.5h1m1 0h1m4 0h1m1 0h3m1 0h75m3 0h2m4 0h1M451 429.5h2m1 0h76m2 0h4m2 0h1m1 0h3m2 0h1M442 430.5h1m8 0h3m1 0h77m1 0h1m1 0h3m2 0h2m1 0h1m1 0h1M446 431.5h1m2 0h4m2 0h1m1 0h3m1 0h78m2 0h1M448 432.5h3m2 0h1m2 0h79m1 0h2m1 0h2M446 433.5h1m3 0h1m1 0h4m2 0h84m1 0h2M447 434.5h6m1 0h81m1 0h7M444 435.5h1m1 0h1m2 0h1m1 0h95M435 436.5h1m10 0h2m2 0h3m1 0h92M442 437.5h2m1 0h1m2 0h1m1 0h97M444 438.5h2m3 0h4m1 0h93M446 439.5h1m2 0h2m1 0h94M426 440.5h1m11 0h1m9 0h3m1 0h95M441 441.5h1m2 0h1m1 0h2m2 0h97M440 442.5h1m5 0h1m1 0h4m1 0h93M441 443.5h1m4 0h2m1 0h98M442 444.5h2m1 0h4m1 0h97M441 445.5h1m3 0h3m1 0h98M445 446.5h1m2 0h99M437 447.5h1m1 0h1m3 0h1m2 0h1m1 0h99M431 448.5h1m2 0h1m8 0h4m1 0h2m1 0h96M436 449.5h1m5 0h1m5 0h7m1 0h91M443 450.5h1m1 0h1m1 0h4m1 0h95M435 451.5h1m5 0h1m5 0h8m1 0h91M437 452.5h1m3 0h2m2 0h1m3 0h98M425 453.5h1m15 0h1m5 0h8m1 0h91M441 454.5h1m5 0h1m3 0h1m1 0h94M434 455.5h1m7 0h1m1 0h2m3 0h98M445 456.5h12m1 0h89M432 457.5h1m7 0h1m7 0h2m2 0h95M436 458.5h1m1 0h1m1 0h2m4 0h2m2 0h1m2 0h2m1 0h91M435 459.5h1m5 0h1m4 0h1m2 0h1m1 0h1m1 0h5m1 0h88M438 460.5h1m2 0h1m5 0h3m3 0h94M448 461.5h1m1 0h1m1 0h2m1 0h92M431 462.5h1m2 0h1m1 0h1m5 0h3m2 0h1m2 0h1m2 0h2m2 0h90M438 463.5h1m17 0h3m1 0h87M428 464.5h1m11 0h1m7 0h2m1 0h1m3 0h3m1 0h88M429 465.5h1m19 0h1m2 0h1m5 0h1m1 0h6m1 0h80M411 466.5h1m19 0h1m7 0h1m4 0h1m3 0h1m1 0h2m2 0h1m2 0h4m1 0h85M429 467.5h1m9 0h1m12 0h1m4 0h1m4 0h85M422 468.5h1m19 0h3m2 0h2m3 0h2m3 0h1m1 0h88M438 469.5h1m2 0h1m1 0h1m1 0h1m1 0h1m2 0h2m1 0h1m2 0h12m1 0h78M431 470.5h1m3 0h1m2 0h2m5 0h2m1 0h1m6 0h2m5 0h2m1 0h82M430 471.5h1m9 0h3m2 0h1m1 0h2m2 0h1m1 0h5m1 0h1m1 0h2m2 0h82M429 472.5h1m6 0h2m9 0h1m1 0h2m2 0h1m4 0h1m2 0h1m1 0h2m1 0h2m1 0h78M439 473.5h1m1 0h1m1 0h1m1 0h1m4 0h1m1 0h1m5 0h1m5 0h3m2 0h78M421 474.5h1m17 0h1m6 0h1m2 0h1m3 0h1m5 0h1m3 0h2m3 0h79M412 475.5h1m1 0h1m2 0h2m11 0h1m10 0h2m8 0h1m2 0h1m3 0h3m1 0h1m3 0h3m1 0h77M406 476.5h1m1 0h1m25 0h1m13 0h2m7 0h1m4 0h2m2 0h1m5 0h2m1 0h72M427 477.5h1m7 0h1m4 0h1m3 0h2m6 0h1m2 0h1m4 0h1m1 0h1m2 0h3m2 0h77M414 478.5h1m8 0h1m9 0h1m2 0h1m2 0h1m3 0h1m2 0h1m4 0h3m1 0h1m3 0h1m3 0h1m2 0h1m1 0h4m2 0h2m1 0h4m1 0h65M421 479.5h1m5 0h1m8 0h1m4 0h1m1 0h1m7 0h1m1 0h1m3 0h1m1 0h2m5 0h1m1 0h1m2 0h2m2 0h4m1 0h67M422 480.5h2m4 0h1m1 0h1m11 0h1m3 0h1m1 0h2m3 0h3m8 0h1m3 0h4m2 0h2m1 0h8m1 0h61M413 481.5h1m1 0h2m9 0h1m3 0h1m1 0h2m4 0h2m2 0h1m2 0h1m2 0h1m1 0h2m1 0h7m1 0h1m3 0h3m4 0h3m1 0h1m2 0h1m1 0h2m2 0h62M411 482.5h1m5 0h1m10 0h1m2 0h2m3 0h1m7 0h1m1 0h1m1 0h1m2 0h1m1 0h1m5 0h1m1 0h1m4 0h1m4 0h4m1 0h1m1 0h3m2 0h64M403 483.5h1m3 0h1m5 0h1m22 0h3m1 0h3m2 0h1m1 0h1m6 0h1m3 0h3m5 0h1m1 0h3m1 0h75M410 484.5h1m4 0h1m12 0h1m8 0h1m3 0h1m2 0h2m1 0h1m2 0h3m8 0h1m3 0h1m2 0h1m1 0h7m2 0h3m2 0h1m1 0h61M385 485.5h1m34 0h2m2 0h1m5 0h1m8 0h2m1 0h1m8 0h2m3 0h1m2 0h3m8 0h1m1 0h4m1 0h2m1 0h1m1 0h3m1 0h1m1 0h8m1 0h50M410 486.5h1m3 0h1m5 0h1m1 0h1m3 0h2m2 0h3m1 0h1m3 0h1m4 0h1m1 0h1m1 0h3m4 0h1m3 0h1m2 0h1m2 0h1m3 0h2m1 0h2m3 0h1m2 0h7m1 0h52m1 0h7M400 487.5h1m12 0h1m7 0h1m8 0h1m2 0h1m1 0h2m4 0h3m4 0h1m3 0h1m1 0h2m2 0h1m1 0h1m1 0h2m2 0h3m2 0h1m1 0h1m1 0h2m2 0h3m1 0h2m1 0h5m1 0h45m1 0h7m1 0h1M420 488.5h1m24 0h1m1 0h3m2 0h1m1 0h1m1 0h2m1 0h1m1 0h1m2 0h2m1 0h1m1 0h1m3 0h1m1 0h2m2 0h4m1 0h6m1 0h6m1 0h19m1 0h29M405 489.5h1m1 0h1m11 0h1m3 0h3m7 0h1m5 0h3m4 0h3m1 0h1m1 0h2m2 0h1m3 0h1m2 0h3m1 0h2m2 0h1m1 0h1m1 0h7m1 0h1m1 0h1m1 0h1m1 0h9m1 0h44m1 0h3M401 490.5h1m10 0h1m12 0h1m14 0h4m9 0h1m1 0h1m3 0h1m4 0h3m1 0h4m1 0h3m2 0h12m2 0h7m1 0h4m1 0h4m1 0h16m1 0h5m1 0h7m2 0h5M398 491.5h1m11 0h1m3 0h1m2 0h1m9 0h1m1 0h1m5 0h1m5 0h1m3 0h1m4 0h4m3 0h1m1 0h2m8 0h5m1 0h1m2 0h1m1 0h7m1 0h7m1 0h3m1 0h2m1 0h5m1 0h4m1 0h1m1 0h11m1 0h1m1 0h2m1 0h1m1 0h5m1 0h1m1 0h2M417 492.5h1m7 0h1m1 0h1m2 0h1m3 0h2m3 0h1m1 0h1m8 0h1m1 0h4m1 0h1m3 0h1m1 0h1m2 0h1m1 0h4m1 0h2m1 0h1m1 0h1m1 0h1m1 0h5m1 0h1m1 0h5m1 0h2m1 0h8m1 0h20m1 0h13m2 0h1m1 0h1M405 493.5h1m28 0h1m4 0h1m1 0h1m1 0h2m8 0h1m1 0h3m5 0h5m3 0h2m1 0h3m1 0h2m1 0h3m1 0h5m1 0h5m1 0h8m1 0h2m1 0h3m1 0h1m1 0h5m1 0h3m1 0h1m1 0h5m1 0h1m1 0h6m1 0h5M390 494.5h1m8 0h1m7 0h2m11 0h1m2 0h1m4 0h1m1 0h1m10 0h1m4 0h1m1 0h1m2 0h1m2 0h1m6 0h1m1 0h1m1 0h2m1 0h4m1 0h2m1 0h4m1 0h2m1 0h9m2 0h2m1 0h1m1 0h1m1 0h2m1 0h5m1 0h3m2 0h14m1 0h1m2 0h4m1 0h8M403 495.5h1m2 0h1m14 0h1m5 0h1m1 0h1m4 0h1m1 0h1m6 0h2m2 0h2m4 0h2m1 0h1m1 0h2m5 0h4m1 0h2m1 0h7m1 0h3m1 0h5m1 0h7m1 0h1m1 0h5m1 0h12m1 0h4m1 0h10m1 0h7m1 0h2M416 496.5h1m19 0h1m2 0h1m7 0h1m1 0h1m1 0h2m2 0h1m1 0h1m3 0h1m1 0h1m6 0h2m1 0h5m1 0h3m1 0h5m2 0h12m1 0h4m1 0h5m1 0h12m2 0h2m2 0h1m1 0h4m1 0h1m1 0h3m1 0h2M381 497.5h1m10 0h1m19 0h1m9 0h1m6 0h3m14 0h1m1 0h1m3 0h1m2 0h1m1 0h1m8 0h1m2 0h3m1 0h3m1 0h3m1 0h4m2 0h5m1 0h2m1 0h14m3 0h3m1 0h4m1 0h1m1 0h4m1 0h1m2 0h4m1 0h3m1 0h1m2 0h3M437 498.5h1m2 0h4m5 0h2m8 0h1m3 0h3m2 0h8m2 0h2m1 0h24m1 0h5m2 0h2m2 0h1m1 0h1m1 0h5m3 0h11m1 0h1m4 0h1M432 499.5h1m10 0h2m2 0h1m3 0h1m2 0h1m1 0h1m3 0h1m8 0h3m2 0h1m1 0h2m1 0h2m2 0h7m2 0h4m2 0h14m1 0h1m2 0h2m1 0h1m1 0h4m1 0h2m1 0h1m1 0h1m1 0h6m4 0h2M405 500.5h2m13 0h1m1 0h3m1 0h1m2 0h1m2 0h1m4 0h1m4 0h1m2 0h2m9 0h1m2 0h2m2 0h2m1 0h1m2 0h1m2 0h1m1 0h1m2 0h1m2 0h1m1 0h4m1 0h1m2 0h1m1 0h1m1 0h4m5 0h2m1 0h2m1 0h1m1 0h1m1 0h2m1 0h3m1 0h2m1 0h3m1 0h2m1 0h4m1 0h2m3 0h1m1 0h4M387 501.5h1m27 0h1m6 0h1m1 0h2m4 0h1m10 0h1m17 0h1m2 0h1m4 0h1m1 0h1m2 0h7m1 0h1m2 0h3m1 0h3m1 0h4m1 0h2m1 0h7m2 0h2m1 0h2m1 0h9m3 0h2m1 0h2m1 0h4m1 0h6m2 0h1M413 502.5h1m4 0h1m6 0h1m1 0h1m5 0h1m23 0h1m4 0h5m4 0h1m1 0h1m2 0h6m1 0h1m2 0h2m2 0h3m1 0h8m1 0h5m1 0h11m2 0h2m1 0h3m1 0h6m1 0h2m1 0h3m1 0h1m2 0h1M424 503.5h1m6 0h1m4 0h1m24 0h1m2 0h2m1 0h2m3 0h5m1 0h2m1 0h1m1 0h3m2 0h3m2 0h2m1 0h2m2 0h1m1 0h2m2 0h2m2 0h5m2 0h8m2 0h8m1 0h2m1 0h8M391 504.5h1m41 0h3m1 0h1m1 0h1m8 0h1m14 0h1m2 0h1m4 0h2m2 0h4m2 0h4m1 0h4m2 0h4m3 0h3m2 0h3m1 0h1m1 0h1m1 0h4m1 0h2m2 0h1m5 0h4m2 0h2m1 0h1m3 0h3m2 0h2M408 505.5h1m9 0h1m2 0h1m3 0h1m20 0h1m6 0h1m1 0h1m4 0h2m5 0h6m2 0h5m2 0h1m2 0h1m1 0h1m1 0h2m1 0h1m1 0h1m1 0h10m1 0h2m1 0h3m1 0h4m1 0h1m1 0h1m1 0h1m1 0h3m1 0h1m1 0h1m2 0h3m4 0h2m1 0h1M399 506.5h1m7 0h1m10 0h1m5 0h1m13 0h1m1 0h1m20 0h2m2 0h1m2 0h2m2 0h1m1 0h1m5 0h1m1 0h9m1 0h8m2 0h1m1 0h2m2 0h4m1 0h2m1 0h2m1 0h2m1 0h1m3 0h1m1 0h1m1 0h1m1 0h2m3 0h1m1 0h1m4 0h2M407 507.5h1m49 0h1m6 0h1m2 0h1m2 0h1m1 0h2m1 0h6m3 0h2m1 0h2m1 0h2m2 0h2m1 0h1m2 0h2m1 0h3m1 0h1m1 0h1m1 0h1m1 0h1m3 0h3m3 0h6m2 0h1m1 0h2m1 0h2m1 0h2m2 0h1m1 0h2M428 508.5h1m12 0h1m1 0h1m3 0h1m6 0h1m8 0h1m5 0h3m4 0h1m1 0h2m1 0h1m2 0h5m1 0h1m1 0h2m1 0h2m1 0h2m1 0h4m1 0h2m2 0h1m1 0h1m2 0h9m1 0h2m2 0h12m2 0h1M400 509.5h1m38 0h1m3 0h1m15 0h1m5 0h1m1 0h1m2 0h1m2 0h1m2 0h1m2 0h3m1 0h1m1 0h4m4 0h2m1 0h3m1 0h3m3 0h2m1 0h1m1 0h4m1 0h1m1 0h1m1 0h6m3 0h2m1 0h1m1 0h1m1 0h3m1 0h1m1 0h5M397 510.5h1m14 0h1m9 0h1m39 0h4m1 0h1m1 0h1m3 0h2m2 0h2m1 0h3m1 0h5m4 0h1m1 0h3m3 0h1m1 0h1m1 0h3m1 0h2m1 0h1m1 0h5m1 0h3m1 0h5m1 0h3m1 0h4m2 0h2m2 0h2M377 511.5h1m16 0h1m57 0h1m9 0h1m3 0h3m1 0h1m3 0h2m1 0h3m1 0h1m1 0h2m2 0h1m2 0h2m1 0h4m1 0h4m1 0h1m1 0h1m1 0h2m1 0h2m1 0h5m1 0h7m3 0h1m1 0h1m2 0h2m3 0h4m3 0h1M395 512.5h1m7 0h1m33 0h1m22 0h2m4 0h1m7 0h2m3 0h1m3 0h1m2 0h3m1 0h1m2 0h1m2 0h2m1 0h2m1 0h1m1 0h2m1 0h3m4 0h4m2 0h1m1 0h1m1 0h1m1 0h4m1 0h4m1 0h1m1 0h3m2 0h2M395 513.5h1m12 0h2m50 0h1m5 0h1m1 0h2m4 0h1m2 0h2m1 0h2m1 0h3m2 0h1m1 0h2m1 0h3m1 0h2m1 0h1m4 0h1m1 0h1m1 0h1m1 0h4m1 0h3m1 0h1m2 0h2m1 0h6m1 0h3m1 0h1m3 0h2m1 0h1M381 514.5h1m38 0h1m3 0h1m36 0h1m1 0h1m8 0h5m1 0h1m1 0h4m2 0h1m6 0h2m1 0h2m1 0h3m1 0h4m2 0h2m1 0h1m2 0h1m1 0h2m1 0h4m1 0h4m1 0h1m3 0h4m1 0h1m2 0h3M394 515.5h1m5 0h1m2 0h1m29 0h1m10 0h1m21 0h1m2 0h2m1 0h1m1 0h1m3 0h2m1 0h2m1 0h2m1 0h1m2 0h1m2 0h1m2 0h1m4 0h2m3 0h1m1 0h1m4 0h1m1 0h5m1 0h7m1 0h1m1 0h1m2 0h3m1 0h3m1 0h5M396 516.5h2m63 0h1m2 0h1m3 0h1m5 0h2m1 0h3m2 0h1m2 0h1m1 0h1m1 0h1m2 0h4m1 0h3m1 0h3m1 0h1m1 0h3m1 0h4m1 0h2m1 0h6m3 0h3m1 0h4m3 0h2m3 0h3M428 517.5h1m9 0h1m4 0h1m20 0h1m2 0h1m1 0h1m7 0h2m2 0h2m1 0h1m1 0h3m1 0h2m2 0h8m1 0h2m4 0h2m1 0h1m1 0h1m1 0h3m1 0h1m2 0h8m3 0h1m1 0h2m1 0h1m1 0h1m1 0h2m1 0h1M393 518.5h1m21 0h1m47 0h2m7 0h2m1 0h1m2 0h3m1 0h4m1 0h3m1 0h2m1 0h1m2 0h1m1 0h4m1 0h1m1 0h2m2 0h2m1 0h1m2 0h1m1 0h3m2 0h5m2 0h2m1 0h3m2 0h2m2 0h2m1 0h2M418 519.5h1m6 0h1m37 0h2m2 0h1m5 0h1m1 0h1m2 0h1m4 0h4m1 0h1m8 0h1m1 0h1m1 0h2m2 0h3m2 0h6m2 0h3m1 0h1m2 0h7m2 0h3m3 0h1m1 0h1m2 0h2M388 520.5h1m17 0h1m32 0h1m25 0h1m2 0h2m1 0h2m4 0h3m1 0h4m5 0h1m2 0h2m1 0h1m1 0h1m2 0h1m2 0h9m1 0h4m1 0h4m1 0h11m2 0h1m1 0h3m3 0h2M410 521.5h1m7 0h1m24 0h1m23 0h1m5 0h1m2 0h1m1 0h2m1 0h1m4 0h1m1 0h3m1 0h4m1 0h1m1 0h4m4 0h3m2 0h2m3 0h3m4 0h7m1 0h2m2 0h1m2 0h5m2 0h1M373 522.5h1m43 0h1m31 0h1m10 0h1m9 0h1m1 0h2m6 0h1m8 0h6m1 0h2m1 0h1m2 0h6m4 0h1m1 0h7m1 0h1m6 0h9m2 0h1m1 0h2m2 0h1M388 523.5h1m75 0h2m4 0h2m1 0h3m2 0h1m2 0h1m1 0h1m2 0h4m3 0h1m2 0h8m1 0h1m1 0h4m1 0h5m2 0h3m4 0h6m4 0h2m1 0h2m1 0h5M469 524.5h3m2 0h2m1 0h1m2 0h3m1 0h1m4 0h3m1 0h3m1 0h2m2 0h5m1 0h1m1 0h2m1 0h4m1 0h1m3 0h1m1 0h11m1 0h1m2 0h1m3 0h2m1 0h1M389 525.5h1m67 0h1m5 0h1m7 0h1m2 0h1m2 0h2m1 0h1m1 0h6m1 0h3m1 0h1m1 0h1m1 0h1m4 0h1m1 0h1m1 0h10m2 0h2m3 0h1m1 0h2m1 0h1m2 0h3m2 0h5m2 0h1m2 0h1M384 526.5h1m46 0h1m24 0h1m1 0h1m3 0h2m4 0h3m1 0h1m1 0h3m4 0h2m1 0h2m2 0h3m1 0h2m1 0h1m5 0h1m1 0h1m2 0h17m1 0h1m1 0h5m1 0h1m1 0h2m2 0h1m2 0h1m2 0h2M392 527.5h1m22 0h1m43 0h1m3 0h1m1 0h2m2 0h1m1 0h1m1 0h1m2 0h1m1 0h4m1 0h2m1 0h2m5 0h2m6 0h3m1 0h1m1 0h1m2 0h1m1 0h5m1 0h4m4 0h3m1 0h1m2 0h3m1 0h7M377 528.5h2m15 0h1m20 0h1m4 0h1m39 0h1m13 0h7m2 0h6m2 0h3m5 0h2m1 0h4m1 0h3m1 0h6m1 0h1m3 0h1m1 0h2m1 0h11m2 0h1m1 0h3m1 0h1M418 529.5h1m33 0h1m14 0h1m1 0h1m1 0h1m1 0h1m2 0h1m1 0h1m1 0h2m4 0h4m1 0h1m3 0h1m1 0h2m2 0h2m1 0h2m1 0h4m1 0h2m1 0h1m1 0h5m3 0h1m1 0h1m1 0h6m1 0h2m3 0h2m3 0h1M398 530.5h1m17 0h1m49 0h1m3 0h2m1 0h2m2 0h1m1 0h1m1 0h1m3 0h8m2 0h1m2 0h2m1 0h1m1 0h2m4 0h1m1 0h8m2 0h2m1 0h7m1 0h10m2 0h1m1 0h1M379 531.5h1m22 0h1m38 0h1m19 0h1m1 0h1m3 0h1m2 0h3m1 0h4m4 0h1m1 0h3m1 0h1m3 0h1m1 0h1m1 0h1m1 0h1m1 0h5m2 0h4m1 0h1m1 0h3m1 0h7m2 0h4m1 0h1m1 0h1m3 0h1m1 0h2m2 0h2M378 532.5h1m27 0h1m58 0h2m6 0h3m1 0h1m2 0h2m2 0h1m1 0h1m1 0h2m1 0h5m1 0h2m1 0h5m1 0h4m2 0h3m1 0h1m2 0h2m3 0h1m4 0h5m1 0h1m1 0h1m1 0h1m1 0h2m1 0h1M381 533.5h2m11 0h1m3 0h2m70 0h1m5 0h1m9 0h3m4 0h2m2 0h1m1 0h1m2 0h2m1 0h4m1 0h3m2 0h2m1 0h4m2 0h2m1 0h3m1 0h12m1 0h2M380 534.5h1m4 0h1m34 0h1m5 0h1m12 0h1m1 0h1m16 0h1m11 0h2m1 0h1m1 0h1m4 0h6m1 0h1m1 0h4m2 0h1m1 0h4m1 0h4m1 0h4m2 0h2m1 0h1m2 0h1m1 0h6m1 0h5m4 0h1m1 0h2m5 0h1M392 535.5h1m57 0h1m2 0h1m6 0h1m6 0h1m3 0h2m3 0h4m2 0h1m5 0h6m1 0h3m5 0h2m2 0h3m2 0h5m1 0h10m2 0h11m1 0h5M368 536.5h1m8 0h1m78 0h1m7 0h1m2 0h1m5 0h1m1 0h4m1 0h1m1 0h4m3 0h5m1 0h3m2 0h4m2 0h2m3 0h7m2 0h1m1 0h1m1 0h1m1 0h4m1 0h4m1 0h3m1 0h1m3 0h2M444 537.5h1m8 0h1m2 0h1m10 0h3m4 0h1m4 0h1m1 0h1m1 0h1m2 0h2m1 0h1m2 0h1m1 0h10m1 0h1m4 0h2m2 0h2m1 0h1m1 0h1m3 0h6m1 0h2m1 0h4m2 0h2m3 0h2M388 538.5h1m9 0h1m7 0h1m47 0h2m3 0h1m3 0h1m2 0h3m1 0h1m2 0h1m1 0h2m2 0h1m1 0h5m1 0h2m1 0h1m1 0h4m3 0h3m2 0h2m2 0h2m1 0h1m1 0h5m1 0h11m5 0h6m1 0h3M374 539.5h1m1 0h1m69 0h1m12 0h2m6 0h2m3 0h1m1 0h2m3 0h3m4 0h1m1 0h1m1 0h1m3 0h1m1 0h2m2 0h1m1 0h1m2 0h1m1 0h1m2 0h1m1 0h2m1 0h1m2 0h2m2 0h1m1 0h1m1 0h2m2 0h1m1 0h2m1 0h2m2 0h8M400 540.5h1m47 0h2m5 0h1m6 0h1m2 0h1m2 0h6m5 0h2m1 0h1m1 0h1m2 0h1m2 0h2m1 0h1m1 0h1m3 0h7m2 0h1m2 0h1m1 0h2m1 0h1m1 0h7m2 0h3m1 0h2m2 0h1m3 0h1m1 0h1M366 541.5h1m5 0h1m19 0h1m45 0h1m8 0h1m2 0h1m8 0h1m1 0h2m3 0h1m1 0h2m1 0h1m2 0h2m2 0h5m4 0h3m1 0h4m2 0h8m2 0h1m1 0h2m1 0h3m1 0h1m1 0h3m1 0h1m1 0h1m1 0h1m2 0h1m1 0h2m2 0h1m2 0h3m1 0h1m1 0h1m1 0h1M402 542.5h1m37 0h1m10 0h1m1 0h1m4 0h1m1 0h1m6 0h1m10 0h1m2 0h2m1 0h1m2 0h3m1 0h9m1 0h2m1 0h1m1 0h2m2 0h4m1 0h9m1 0h1m1 0h1m1 0h2m1 0h2m2 0h3m1 0h2M358 543.5h1m4 0h1m12 0h1m7 0h1m55 0h2m2 0h1m4 0h1m7 0h1m2 0h1m1 0h2m2 0h2m3 0h1m3 0h1m1 0h5m1 0h1m1 0h2m1 0h1m1 0h4m4 0h2m1 0h5m1 0h1m1 0h6m2 0h1m1 0h1m1 0h1m1 0h2m1 0h2m2 0h2m5 0h3m2 0h1m1 0h1M371 544.5h1m1 0h1m47 0h1m16 0h1m4 0h1m8 0h1m2 0h2m1 0h1m7 0h2m1 0h2m1 0h1m1 0h2m1 0h5m3 0h2m1 0h1m2 0h1m2 0h1m2 0h2m2 0h1m2 0h5m1 0h2m1 0h4m1 0h2m1 0h3m1 0h1m2 0h2m1 0h1m1 0h3m1 0h3m1 0h5M435 545.5h2m6 0h1m1 0h1m3 0h1m2 0h1m3 0h1m6 0h1m3 0h1m1 0h2m1 0h1m4 0h2m2 0h3m1 0h1m1 0h4m1 0h1m3 0h3m2 0h1m3 0h3m2 0h1m1 0h1m1 0h1m1 0h1m1 0h5m3 0h4m2 0h2m1 0h1m1 0h3m1 0h3m1 0h1M368 546.5h1m69 0h1m2 0h1m3 0h1m3 0h5m1 0h1m2 0h1m3 0h1m2 0h1m1 0h1m4 0h4m1 0h2m3 0h1m1 0h1m1 0h2m2 0h1m1 0h2m3 0h1m1 0h1m1 0h6m1 0h1m2 0h2m1 0h2m2 0h5m1 0h7m1 0h4m1 0h1m1 0h3M370 547.5h1m24 0h1m18 0h1m21 0h1m7 0h1m1 0h2m2 0h2m2 0h2m8 0h3m1 0h5m1 0h3m2 0h1m1 0h3m1 0h7m1 0h1m1 0h1m1 0h4m1 0h2m1 0h4m1 0h3m2 0h1m1 0h7m3 0h6m1 0h1m1 0h1m1 0h1m1 0h4M368 548.5h1m10 0h1m30 0h1m13 0h1m11 0h1m2 0h1m2 0h1m1 0h1m7 0h2m2 0h1m1 0h1m1 0h2m1 0h5m1 0h1m5 0h3m2 0h2m1 0h3m2 0h2m1 0h2m1 0h1m1 0h2m1 0h4m2 0h2m1 0h9m1 0h4m1 0h2m2 0h2m1 0h2m1 0h1m1 0h1m3 0h1m2 0h4M378 549.5h1m3 0h1m3 0h1m1 0h1m9 0h1m8 0h1m41 0h1m3 0h5m4 0h1m2 0h1m3 0h6m1 0h1m1 0h2m1 0h1m1 0h2m1 0h1m1 0h4m1 0h2m3 0h1m2 0h1m1 0h1m1 0h3m1 0h3m3 0h4m1 0h1m1 0h2m1 0h1m1 0h3m1 0h3m3 0h1m1 0h2m3 0h2M367 550.5h1m24 0h1m25 0h1m14 0h1m8 0h1m1 0h1m3 0h2m1 0h1m2 0h1m1 0h2m1 0h1m4 0h5m2 0h1m1 0h1m2 0h1m1 0h2m5 0h4m1 0h2m1 0h1m1 0h3m2 0h3m1 0h3m1 0h1m2 0h2m1 0h4m3 0h2m1 0h1m1 0h1m2 0h2m1 0h2m2 0h1m1 0h3m2 0h1m2 0h1M363 551.5h1m61 0h1m8 0h1m7 0h1m1 0h2m6 0h2m4 0h1m2 0h4m2 0h2m1 0h2m4 0h1m1 0h2m2 0h1m2 0h1m5 0h2m2 0h3m1 0h2m3 0h2m1 0h5m3 0h1m2 0h1m2 0h1m2 0h3m1 0h10m1 0h3m1 0h1m1 0h1M391 552.5h1m50 0h1m4 0h1m10 0h1m1 0h4m1 0h2m1 0h1m2 0h1m1 0h2m1 0h1m2 0h1m1 0h1m3 0h1m1 0h2m1 0h1m1 0h2m4 0h1m1 0h5m1 0h2m1 0h8m1 0h1m3 0h1m1 0h1m1 0h1m3 0h1m1 0h14M437 553.5h2m10 0h1m3 0h1m1 0h1m3 0h3m1 0h1m3 0h1m2 0h2m1 0h2m5 0h4m1 0h3m2 0h2m1 0h2m2 0h1m2 0h4m2 0h1m1 0h1m1 0h1m1 0h5m4 0h2m1 0h3m1 0h1m1 0h1m3 0h2m1 0h1m1 0h1m1 0h1m1 0h2M368 554.5h2m6 0h1m14 0h1m45 0h1m2 0h1m4 0h1m2 0h1m4 0h1m2 0h1m3 0h1m1 0h1m1 0h3m1 0h2m1 0h1m1 0h1m2 0h2m1 0h2m3 0h1m1 0h2m2 0h5m1 0h2m1 0h2m1 0h4m1 0h2m1 0h6m1 0h4m1 0h8m1 0h4m2 0h2m1 0h1m1 0h1m1 0h1M364 555.5h1m19 0h1m5 0h1m44 0h1m8 0h2m1 0h2m2 0h3m1 0h1m1 0h1m2 0h2m2 0h2m1 0h1m3 0h3m1 0h1m1 0h2m6 0h1m1 0h1m2 0h4m1 0h12m1 0h1m1 0h1m1 0h1m1 0h1m1 0h2m1 0h6m1 0h2m1 0h2m1 0h2m1 0h1m1 0h1m1 0h1m3 0h1m2 0h1M372 556.5h1m66 0h1m1 0h1m1 0h2m1 0h3m4 0h1m1 0h1m1 0h6m1 0h2m2 0h1m1 0h2m1 0h1m1 0h2m1 0h1m3 0h2m2 0h4m2 0h1m2 0h2m1 0h2m3 0h1m1 0h1m1 0h2m1 0h1m1 0h5m1 0h2m1 0h1m1 0h1m1 0h2m1 0h1m2 0h3m1 0h1m1 0h1m1 0h2m1 0h4M369 557.5h2m12 0h1m11 0h1m20 0h1m23 0h1m2 0h2m1 0h1m1 0h1m1 0h1m3 0h2m1 0h1m1 0h1m2 0h2m1 0h1m1 0h1m1 0h8m1 0h5m1 0h5m2 0h2m2 0h2m1 0h1m1 0h1m2 0h1m1 0h2m2 0h1m2 0h1m1 0h4m2 0h2m3 0h1m1 0h11m1 0h4M383 558.5h1m2 0h1m14 0h1m37 0h2m5 0h2m12 0h2m1 0h1m5 0h1m2 0h1m1 0h1m2 0h5m3 0h3m1 0h2m2 0h1m2 0h1m3 0h1m1 0h3m1 0h2m1 0h3m1 0h3m1 0h1m3 0h4m2 0h5m2 0h1m1 0h1m2 0h3m1 0h1M361 559.5h1m81 0h2m2 0h2m1 0h1m1 0h2m3 0h5m5 0h1m1 0h2m1 0h1m2 0h1m1 0h1m2 0h1m2 0h3m1 0h3m2 0h3m1 0h5m1 0h5m1 0h4m2 0h2m1 0h3m1 0h1m2 0h3m1 0h1m2 0h4m1 0h2m2 0h1m1 0h5M378 560.5h1m30 0h1m21 0h1m4 0h2m2 0h1m1 0h1m4 0h2m3 0h1m2 0h2m2 0h2m1 0h4m2 0h1m3 0h1m1 0h2m3 0h1m2 0h2m1 0h1m1 0h1m2 0h1m1 0h3m1 0h5m2 0h1m1 0h2m5 0h3m1 0h1m2 0h1m1 0h1m3 0h2m2 0h1m1 0h2m1 0h1m1 0h5m1 0h1m2 0h2M363 561.5h1m26 0h1m50 0h1m1 0h2m1 0h1m1 0h1m3 0h1m1 0h1m3 0h2m1 0h2m2 0h1m1 0h2m2 0h5m2 0h3m1 0h3m1 0h1m2 0h1m1 0h6m1 0h9m3 0h2m1 0h2m1 0h1m1 0h2m1 0h2m2 0h3m4 0h5m1 0h1m1 0h1m1 0h3M362 562.5h1m79 0h1m1 0h1m3 0h1m1 0h1m1 0h1m3 0h6m1 0h4m1 0h4m3 0h2m1 0h4m1 0h2m1 0h1m1 0h1m1 0h4m2 0h4m1 0h1m2 0h1m2 0h3m1 0h1m1 0h1m1 0h6m1 0h3m3 0h1m2 0h1m2 0h6m1 0h2m1 0h1m1 0h1M368 563.5h1m27 0h1m35 0h1m6 0h2m3 0h1m2 0h1m6 0h1m1 0h1m1 0h4m3 0h3m1 0h1m1 0h10m1 0h1m2 0h1m2 0h1m2 0h1m2 0h2m5 0h1m5 0h2m2 0h3m1 0h2m4 0h4m1 0h2m1 0h1m1 0h6m6 0h1M382 564.5h1m5 0h1m1 0h1m5 0h1m8 0h1m28 0h1m3 0h2m3 0h1m1 0h1m3 0h2m1 0h1m1 0h1m1 0h1m1 0h2m2 0h5m2 0h1m1 0h1m1 0h2m1 0h1m4 0h3m1 0h2m2 0h1m1 0h2m1 0h1m2 0h2m1 0h1m2 0h1m1 0h2m1 0h5m1 0h8m2 0h5m1 0h2m1 0h1m1 0h1m2 0h2m4 0h1M406 565.5h1m9 0h1m19 0h1m3 0h1m2 0h2m3 0h1m1 0h1m1 0h1m4 0h2m1 0h1m1 0h1m3 0h1m4 0h1m1 0h3m1 0h1m1 0h3m1 0h1m1 0h5m2 0h1m3 0h1m1 0h3m1 0h1m1 0h6m1 0h1m1 0h2m3 0h1m1 0h2m2 0h2m1 0h3m1 0h4m1 0h4m1 0h4M383 566.5h2m9 0h1m36 0h1m1 0h1m3 0h3m1 0h1m1 0h3m2 0h1m1 0h1m1 0h1m1 0h4m1 0h6m3 0h2m4 0h1m2 0h2m1 0h10m2 0h1m5 0h1m1 0h2m1 0h1m1 0h6m1 0h6m2 0h1m3 0h1m2 0h4m1 0h2m2 0h1m3 0h2m1 0h1m1 0h1M354 567.5h1m10 0h1m9 0h1m54 0h1m2 0h1m1 0h1m6 0h1m3 0h2m5 0h1m2 0h1m5 0h1m3 0h1m2 0h1m1 0h6m1 0h8m1 0h4m1 0h1m2 0h2m1 0h5m1 0h1m2 0h2m1 0h2m1 0h2m3 0h1m3 0h1m1 0h1m1 0h1m2 0h4m1 0h2m1 0h1m2 0h3m1 0h1m1 0h1M387 568.5h1m44 0h1m6 0h1m2 0h1m2 0h1m3 0h2m2 0h4m1 0h1m4 0h3m2 0h1m1 0h3m1 0h2m1 0h3m1 0h2m1 0h2m4 0h2m1 0h1m2 0h4m3 0h1m1 0h3m2 0h1m1 0h3m1 0h3m3 0h2m2 0h1m1 0h9m1 0h1m1 0h1m1 0h2M357 569.5h1m37 0h1m47 0h2m1 0h1m2 0h8m1 0h3m2 0h1m1 0h2m4 0h1m1 0h4m1 0h1m4 0h1m1 0h1m2 0h1m1 0h1m2 0h1m2 0h1m1 0h1m1 0h2m2 0h3m1 0h1m3 0h1m1 0h3m1 0h1m1 0h2m1 0h2m1 0h1m1 0h9m1 0h5m1 0h1M356 570.5h1m17 0h1m3 0h1m58 0h1m1 0h2m2 0h5m1 0h3m1 0h2m4 0h3m1 0h3m3 0h1m1 0h1m1 0h3m1 0h3m1 0h1m3 0h1m1 0h1m1 0h2m2 0h1m1 0h1m1 0h2m1 0h1m1 0h6m2 0h3m1 0h1m1 0h4m1 0h1m2 0h2m1 0h3m1 0h2m1 0h2m2 0h2m1 0h1m2 0h3M332 571.5h1m22 0h1m35 0h1m46 0h1m1 0h2m3 0h4m1 0h4m3 0h1m3 0h2m1 0h1m1 0h1m1 0h1m1 0h2m2 0h5m3 0h4m2 0h3m1 0h4m1 0h2m1 0h1m3 0h1m3 0h5m1 0h2m2 0h4m2 0h7m1 0h1m1 0h1m1 0h1m7 0h1M352 572.5h1m2 0h1m3 0h1m16 0h1m36 0h1m23 0h2m3 0h4m3 0h1m4 0h1m1 0h3m1 0h1m1 0h4m2 0h1m1 0h2m2 0h4m3 0h5m1 0h2m2 0h1m1 0h2m4 0h1m1 0h3m1 0h1m3 0h1m2 0h3m1 0h3m2 0h2m2 0h3m1 0h1m2 0h1m2 0h3m1 0h1m2 0h1m2 0h1M366 573.5h1m71 0h1m3 0h2m2 0h3m1 0h3m1 0h2m1 0h3m1 0h1m3 0h2m2 0h1m1 0h1m1 0h3m2 0h1m1 0h4m2 0h6m2 0h5m2 0h1m3 0h1m3 0h1m1 0h1m1 0h6m1 0h2m2 0h1m1 0h1m1 0h6m1 0h1m1 0h3m1 0h3m2 0h1M350 574.5h1m4 0h1m3 0h1m1 0h1m21 0h1m7 0h1m27 0h1m12 0h1m1 0h1m5 0h1m1 0h1m1 0h1m2 0h3m1 0h6m1 0h1m5 0h3m2 0h2m2 0h1m2 0h1m2 0h2m1 0h1m1 0h1m1 0h1m3 0h1m1 0h4m1 0h5m6 0h1m2 0h2m1 0h1m1 0h2m2 0h2m1 0h1m1 0h2m1 0h1m4 0h9m2 0h1M350 575.5h1m14 0h1m3 0h1m6 0h1m1 0h1m38 0h1m4 0h1m14 0h3m2 0h2m1 0h1m1 0h1m4 0h3m1 0h2m3 0h7m1 0h4m2 0h1m2 0h1m2 0h1m1 0h2m1 0h2m1 0h4m1 0h1m2 0h1m1 0h13m1 0h1m2 0h2m1 0h1m1 0h4m1 0h9m2 0h1m1 0h2m2 0h2m1 0h1M339 576.5h1m88 0h1m4 0h1m5 0h1m3 0h1m3 0h1m4 0h5m1 0h1m2 0h2m1 0h2m1 0h1m1 0h4m1 0h4m3 0h1m1 0h4m1 0h2m2 0h1m1 0h1m1 0h1m2 0h1m2 0h1m2 0h3m1 0h1m1 0h4m1 0h1m1 0h1m1 0h2m1 0h1m1 0h1m2 0h3m2 0h2m2 0h4m3 0h1M380 577.5h1m10 0h1m1 0h1m9 0h1m32 0h1m2 0h3m1 0h2m1 0h1m1 0h1m4 0h1m1 0h1m1 0h2m1 0h1m1 0h2m1 0h5m1 0h3m3 0h2m2 0h2m1 0h2m1 0h1m1 0h1m2 0h3m4 0h8m1 0h1m1 0h2m1 0h2m1 0h4m2 0h3m2 0h1m1 0h1m4 0h1m1 0h2m1 0h1m1 0h1m1 0h1m2 0h1M352 578.5h1m8 0h1m1 0h1m8 0h1m36 0h1m25 0h1m4 0h2m7 0h6m2 0h2m2 0h2m1 0h1m2 0h1m1 0h2m1 0h9m5 0h5m1 0h1m3 0h1m2 0h5m2 0h5m1 0h1m1 0h4m2 0h2m1 0h1m1 0h2m1 0h1m2 0h5m1 0h1m1 0h6M356 579.5h1m14 0h1m65 0h1m1 0h4m5 0h1m1 0h1m1 0h2m3 0h6m1 0h1m1 0h1m3 0h8m2 0h2m2 0h1m1 0h1m1 0h3m4 0h2m2 0h1m1 0h7m1 0h1m1 0h1m2 0h4m2 0h2m2 0h1m1 0h2m3 0h2m2 0h2m1 0h1m5 0h3M350 580.5h1m12 0h1m12 0h1m62 0h1m2 0h1m6 0h1m2 0h3m4 0h2m4 0h1m1 0h6m2 0h1m4 0h5m3 0h3m4 0h2m1 0h2m1 0h2m2 0h3m1 0h10m1 0h4m1 0h2m1 0h3m1 0h4m1 0h2m3 0h2M353 581.5h1m6 0h1m19 0h1m25 0h1m30 0h1m1 0h1m1 0h1m9 0h3m1 0h4m1 0h2m2 0h3m2 0h1m4 0h2m2 0h2m3 0h1m2 0h1m1 0h1m1 0h2m1 0h1m1 0h2m2 0h1m1 0h3m1 0h4m1 0h2m3 0h2m2 0h1m2 0h2m10 0h1m1 0h1m1 0h2m1 0h1m2 0h1m1 0h1M344 582.5h1m6 0h1m21 0h1m43 0h1m6 0h1m11 0h2m2 0h4m2 0h1m4 0h2m1 0h2m1 0h1m2 0h4m1 0h1m2 0h1m2 0h1m2 0h2m4 0h1m3 0h1m5 0h2m3 0h1m2 0h3m1 0h1m1 0h4m1 0h1m1 0h1m2 0h1m3 0h5m1 0h3m4 0h1m1 0h1m1 0h4m2 0h2m2 0h2M321 583.5h1m46 0h1m9 0h1m30 0h1m5 0h1m3 0h1m19 0h2m3 0h1m8 0h1m1 0h2m1 0h1m1 0h9m5 0h3m1 0h2m3 0h3m1 0h5m1 0h1m1 0h1m2 0h1m1 0h1m1 0h1m1 0h1m1 0h3m2 0h2m1 0h1m4 0h1m1 0h1m2 0h5m1 0h2m1 0h2m1 0h2m2 0h1m1 0h1m1 0h1m1 0h1M343 584.5h1m1 0h1m27 0h1m5 0h1m20 0h1m4 0h1m32 0h1m4 0h1m3 0h1m4 0h1m4 0h3m6 0h3m1 0h1m6 0h1m1 0h1m3 0h1m1 0h3m1 0h1m2 0h1m4 0h1m2 0h2m3 0h1m2 0h3m1 0h4m1 0h5m1 0h1m1 0h3m2 0h2m1 0h1m1 0h1m1 0h3M325 585.5h1m20 0h1m12 0h1m18 0h1m46 0h1m15 0h1m1 0h2m2 0h2m7 0h2m4 0h2m3 0h1m1 0h2m3 0h1m1 0h5m1 0h2m4 0h2m1 0h2m2 0h2m4 0h1m1 0h2m4 0h1m1 0h2m2 0h7m2 0h6m1 0h5m6 0h1m2 0h2M339 586.5h1m5 0h1m15 0h1m6 0h1m3 0h1m7 0h1m4 0h1m6 0h1m39 0h1m5 0h1m3 0h1m6 0h1m5 0h3m5 0h4m1 0h1m1 0h1m1 0h4m3 0h3m3 0h1m3 0h2m3 0h1m2 0h1m2 0h3m2 0h2m2 0h1m4 0h1m1 0h1m1 0h2m1 0h4m1 0h2m3 0h4m8 0h1M328 587.5h1m79 0h1m3 0h1m13 0h1m6 0h1m5 0h1m1 0h1m4 0h1m3 0h1m2 0h4m3 0h2m1 0h1m1 0h1m1 0h1m9 0h1m2 0h2m1 0h1m5 0h1m1 0h1m2 0h2m1 0h1m3 0h1m2 0h1m5 0h1m1 0h1m1 0h1m1 0h1m2 0h1m1 0h2m3 0h4m4 0h1m1 0h3m2 0h1m1 0h2M377 588.5h1m10 0h1m7 0h1m4 0h1m33 0h1m16 0h1m6 0h1m9 0h1m2 0h1m1 0h1m1 0h1m7 0h2m1 0h1m2 0h4m1 0h1m1 0h2m2 0h2m2 0h4m1 0h1m1 0h2m2 0h1m1 0h1m1 0h3m4 0h1m4 0h1m5 0h1m2 0h1m1 0h1M343 589.5h2m87 0h1m28 0h1m2 0h2m5 0h1m1 0h1m3 0h1m2 0h2m4 0h1m1 0h2m6 0h1m2 0h1m1 0h5m2 0h1m5 0h1m1 0h1m5 0h3m8 0h2m2 0h1M337 590.5h1m17 0h1m27 0h1m10 0h1m46 0h1m3 0h1m3 0h1m1 0h1m4 0h1m2 0h1m1 0h1m2 0h1m1 0h2m1 0h2m3 0h1m1 0h3m8 0h1m1 0h1m1 0h2m1 0h1m2 0h1m4 0h1m1 0h2m2 0h1m2 0h2m1 0h1m3 0h1m1 0h3m3 0h5m2 0h1m6 0h1m2 0h1m1 0h1M342 591.5h1m5 0h1m82 0h1m15 0h1m9 0h1m3 0h2m2 0h2m1 0h2m2 0h1m4 0h1m1 0h2m1 0h1m2 0h1m1 0h1m1 0h2m4 0h3m2 0h4m1 0h1m2 0h4m2 0h2m2 0h2m3 0h4m1 0h3m2 0h1m7 0h3M342 592.5h1m23 0h1m20 0h1m25 0h3m20 0h1m11 0h1m2 0h1m6 0h2m1 0h3m6 0h1m2 0h1m2 0h4m3 0h1m4 0h1m4 0h2m2 0h3m4 0h1m1 0h3m3 0h1m2 0h2m1 0h2m2 0h1m1 0h1m2 0h1m1 0h1m4 0h1m1 0h1m8 0h1M362 593.5h1m24 0h1m10 0h1m15 0h1m26 0h1m5 0h1m3 0h2m1 0h2m1 0h1m4 0h1m7 0h2m1 0h1m2 0h1m1 0h3m4 0h2m1 0h2m4 0h2m2 0h1m4 0h1m2 0h1m1 0h1m3 0h2m4 0h1m1 0h1m1 0h1m3 0h1m1 0h1m1 0h1m14 0h1M339 594.5h1m1 0h1m29 0h1m4 0h1m26 0h1m18 0h1m15 0h1m5 0h1m4 0h1m4 0h1m10 0h1m4 0h1m3 0h1m3 0h1m3 0h3m5 0h1m1 0h1m1 0h1m3 0h1m2 0h1m6 0h1m7 0h1m1 0h1m1 0h2m1 0h2m3 0h1m2 0h1m2 0h1m1 0h2m1 0h1m2 0h1M343 595.5h1m29 0h1m53 0h1m19 0h1m3 0h1m2 0h1m4 0h1m4 0h1m7 0h2m3 0h1m2 0h3m1 0h1m2 0h3m6 0h2m4 0h1m3 0h1m1 0h1m1 0h1m1 0h1m4 0h1m2 0h1m1 0h2m2 0h1m1 0h1m3 0h3m2 0h2M378 596.5h2m7 0h1m29 0h2m4 0h1m10 0h1m24 0h2m3 0h1m5 0h1m7 0h1m1 0h2m1 0h1m7 0h3m4 0h1m3 0h1m9 0h1m2 0h1m2 0h1m1 0h2m4 0h2m1 0h1m5 0h1M365 597.5h1m87 0h1m2 0h1m9 0h4m8 0h1m5 0h1m1 0h1m4 0h1m4 0h1m1 0h1m6 0h1m3 0h2m3 0h2m1 0h2m1 0h1m1 0h2m3 0h5m2 0h2m5 0h2M320 598.5h1m43 0h1m45 0h1m29 0h1m4 0h1m8 0h1m1 0h1m5 0h1m5 0h1m3 0h1m1 0h4m6 0h1m4 0h1m4 0h1m7 0h1m2 0h1m4 0h1m3 0h2m1 0h1m1 0h1m5 0h2m2 0h1m3 0h1m1 0h1m6 0h1M375 599.5h1m18 0h1m2 0h1m16 0h1m19 0h1m3 0h1m14 0h1m14 0h2m3 0h1m1 0h1m3 0h1m14 0h3m2 0h1m2 0h1m3 0h1m10 0h1m1 0h1m3 0h1m4 0h1m3 0h1m2 0h1m8 0h1m1 0h1M401 600.5h1m23 0h1m1 0h1m8 0h1m2 0h1m10 0h1m23 0h1m8 0h1m3 0h1m3 0h1m3 0h1m9 0h1m7 0h1m2 0h1m1 0h1m8 0h1m1 0h1m4 0h1m4 0h3m2 0h1M380 601.5h1m21 0h2m10 0h1m34 0h1m15 0h1m5 0h1m1 0h2m8 0h1m13 0h2m4 0h2m5 0h3m1 0h1m6 0h1m3 0h1m4 0h1m1 0h1m3 0h1m6 0h1m1 0h1M337 602.5h1m30 0h1m2 0h1m41 0h1m40 0h1m20 0h1m4 0h1m36 0h1m1 0h4m3 0h1m3 0h1m2 0h1m1 0h1m6 0h1m2 0h1M335 603.5h1m32 0h2m7 0h1m8 0h1m3 0h1m9 0h1m86 0h1m10 0h1m5 0h2m3 0h1m1 0h1m3 0h1m7 0h1m2 0h1m3 0h1m2 0h1m1 0h1m2 0h2m1 0h1M374 604.5h1m11 0h1m18 0h1m2 0h1m32 0h1m5 0h1m6 0h1m3 0h1m13 0h1m16 0h1m28 0h3m7 0h1m2 0h1m5 0h2m4 0h2m1 0h1M379 605.5h1m7 0h1m3 0h1m10 0h1m67 0h1m6 0h1m6 0h1m2 0h1m17 0h1m9 0h1m1 0h2m1 0h1m2 0h1m1 0h2m14 0h1m1 0h1m1 0h1M342 606.5h1m43 0h1m20 0h1m4 0h1m5 0h1m2 0h1m10 0h1m41 0h1m3 0h1m9 0h1m15 0h1m3 0h2m4 0h1m2 0h1m6 0h2m1 0h1m1 0h2m2 0h1m3 0h1m2 0h1m2 0h1m1 0h2M339 607.5h1m64 0h1m3 0h1m3 0h2m1 0h1m22 0h1m21 0h1m12 0h1m27 0h1m8 0h1m2 0h4m4 0h4m2 0h1m8 0h2m2 0h1m2 0h3M345 608.5h1m32 0h1m9 0h1m2 0h1m3 0h1m14 0h1m4 0h1m5 0h1m36 0h1m3 0h1m4 0h1m32 0h1m3 0h2m3 0h1m4 0h1m2 0h1m7 0h2m3 0h1m3 0h3m1 0h1m3 0h1m3 0h1M342 609.5h1m25 0h1m1 0h1m7 0h1m4 0h1m5 0h1m2 0h2m29 0h1m4 0h1m1 0h1m19 0h1m6 0h1m4 0h1m6 0h1m4 0h1m9 0h1m8 0h1m18 0h1m3 0h2m1 0h1m7 0h1m2 0h2m2 0h1m1 0h1m3 0h1m2 0h2M353 610.5h1m33 0h1m26 0h1m21 0h2m22 0h1m11 0h1m1 0h2m17 0h1m5 0h1m9 0h2m5 0h1m1 0h1m3 0h1m5 0h1m1 0h4m3 0h1m4 0h2M376 611.5h1m11 0h1m8 0h1m7 0h1m6 0h3m7 0h1m3 0h2m5 0h1m8 0h1m25 0h1m4 0h1m5 0h1m20 0h1m4 0h1m1 0h2m2 0h2m1 0h1m2 0h2m2 0h4m7 0h1m1 0h1m1 0h3m2 0h1m4 0h1M337 612.5h1m26 0h1m1 0h1m5 0h1m24 0h1m2 0h1m9 0h1m4 0h1m2 0h1m28 0h1m21 0h1m3 0h1m1 0h1m7 0h2m6 0h2m4 0h3m2 0h5m1 0h2m1 0h2m2 0h1m2 0h1m2 0h4m3 0h1m4 0h4m1 0h3m1 0h4M345 613.5h1m27 0h1m4 0h1m4 0h1m1 0h1m2 0h1m7 0h1m2 0h2m1 0h1m5 0h3m1 0h1m18 0h1m6 0h1m4 0h1m8 0h1m2 0h1m3 0h1m8 0h1m1 0h1m3 0h1m5 0h3m5 0h2m4 0h2m11 0h1m1 0h4m1 0h1m2 0h1m1 0h1m1 0h1m2 0h1m1 0h2m1 0h1m1 0h4m3 0h2m3 0h1m2 0h1M349 614.5h1m24 0h1m7 0h1m10 0h1m1 0h1m1 0h3m5 0h1m1 0h2m1 0h1m2 0h3m15 0h1m9 0h1m4 0h1m3 0h2m14 0h1m1 0h2m4 0h1m12 0h1m6 0h1m1 0h1m1 0h1m9 0h1m3 0h1m1 0h1m2 0h1m1 0h1m1 0h1m1 0h1m1 0h1m3 0h1m1 0h1m2 0h1m3 0h2m1 0h1M354 615.5h1m21 0h1m5 0h2m1 0h1m4 0h3m2 0h2m1 0h4m1 0h1m4 0h4m1 0h1m6 0h1m3 0h1m1 0h1m3 0h1m17 0h1m7 0h1m3 0h1m4 0h1m4 0h1m4 0h1m4 0h1m4 0h3m5 0h1m4 0h1m4 0h1m4 0h2m1 0h1m1 0h1m2 0h1m1 0h1m1 0h4m1 0h1m7 0h2m2 0h2m1 0h1m2 0h1M343 616.5h1m11 0h1m20 0h2m4 0h1m4 0h2m4 0h1m1 0h2m1 0h3m3 0h1m3 0h1m1 0h4m1 0h1m1 0h1m2 0h1m4 0h1m3 0h1m13 0h1m1 0h1m2 0h1m2 0h1m3 0h1m1 0h5m1 0h1m2 0h5m6 0h4m2 0h1m3 0h4m4 0h2m1 0h1m2 0h2m3 0h2m8 0h3m2 0h1m4 0h2m1 0h1m2 0h1m2 0h1m4 0h3m1 0h1m1 0h1M328 617.5h1m19 0h1m25 0h3m11 0h2m3 0h5m1 0h2m2 0h2m1 0h3m1 0h2m1 0h1m1 0h1m1 0h3m6 0h1m9 0h1m1 0h1m5 0h3m4 0h1m1 0h1m1 0h1m4 0h1m2 0h1m6 0h1m1 0h1m6 0h1m1 0h2m4 0h1m5 0h1m3 0h1m9 0h3m1 0h2m9 0h1m2 0h1m2 0h2m1 0h1m2 0h1m1 0h2m1 0h1m3 0h1m2 0h1M373 618.5h1m7 0h1m3 0h1m2 0h3m1 0h2m1 0h3m2 0h3m2 0h3m4 0h1m1 0h1m3 0h3m3 0h1m3 0h1m2 0h1m1 0h1m4 0h1m1 0h2m2 0h1m1 0h2m2 0h1m2 0h1m1 0h2m3 0h1m3 0h2m1 0h2m1 0h1m1 0h1m2 0h1m4 0h1m5 0h3m5 0h2m8 0h1m9 0h1m2 0h2m1 0h1m2 0h1m2 0h1m2 0h3m4 0h4m1 0h2M375 619.5h1m3 0h2m5 0h1m1 0h8m1 0h1m1 0h2m1 0h2m1 0h1m1 0h4m1 0h2m2 0h2m8 0h2m7 0h1m3 0h2m4 0h1m3 0h1m6 0h5m5 0h1m1 0h2m1 0h1m3 0h1m4 0h1m6 0h1m2 0h1m1 0h1m2 0h2m4 0h4m2 0h1m9 0h3m5 0h2m1 0h1m1 0h2m1 0h1m1 0h1m2 0h2m1 0h3m1 0h1M352 620.5h1m10 0h1m8 0h2m4 0h1m1 0h2m1 0h1m2 0h1m2 0h3m1 0h2m1 0h1m1 0h6m1 0h3m1 0h5m2 0h2m2 0h6m2 0h1m2 0h3m1 0h1m1 0h1m6 0h3m1 0h1m6 0h4m4 0h1m1 0h1m2 0h2m3 0h1m1 0h1m1 0h2m5 0h1m4 0h2m5 0h1m3 0h1m6 0h2m1 0h2m2 0h2m1 0h1m6 0h1m9 0h1m2 0h1m3 0h2m2 0h1M330 621.5h1m29 0h1m4 0h1m3 0h1m3 0h1m4 0h1m1 0h1m2 0h1m1 0h1m2 0h2m1 0h4m3 0h5m1 0h1m2 0h2m2 0h1m5 0h4m1 0h2m4 0h1m2 0h1m1 0h1m2 0h1m3 0h1m1 0h1m2 0h1m1 0h1m1 0h2m2 0h2m1 0h2m2 0h2m1 0h1m12 0h1m2 0h1m2 0h1m5 0h1m9 0h1m2 0h1m1 0h1m4 0h2m1 0h1m1 0h1m6 0h1m1 0h1m2 0h1m1 0h1m2 0h1m3 0h1m5 0h1m2 0h1m1 0h2M346 622.5h1m17 0h1m8 0h1m2 0h4m3 0h5m1 0h1m1 0h1m1 0h4m3 0h3m1 0h6m2 0h1m1 0h3m1 0h1m1 0h1m5 0h1m4 0h2m5 0h5m1 0h1m3 0h1m3 0h1m4 0h1m7 0h2m2 0h2m7 0h1m9 0h2m13 0h1m5 0h1m7 0h2m6 0h1m2 0h1m3 0h1m1 0h1m1 0h1M312 623.5h1m8 0h1m19 0h1m14 0h1m11 0h1m1 0h2m1 0h1m3 0h1m2 0h2m1 0h1m1 0h2m1 0h1m1 0h2m1 0h5m1 0h3m1 0h15m1 0h1m2 0h1m1 0h1m1 0h1m4 0h1m1 0h1m2 0h1m1 0h1m6 0h2m5 0h1m2 0h2m6 0h2m1 0h1m1 0h4m4 0h1m4 0h1m1 0h1m5 0h1m1 0h1m1 0h2m2 0h1m9 0h1m6 0h1m1 0h3m5 0h1m5 0h2m12 0h3M319 624.5h1m19 0h1m16 0h1m17 0h1m3 0h3m1 0h9m1 0h2m2 0h6m1 0h4m1 0h1m1 0h3m1 0h2m1 0h2m3 0h2m2 0h1m2 0h1m1 0h1m1 0h1m5 0h3m3 0h1m2 0h2m8 0h1m3 0h1m2 0h2m2 0h1m26 0h1m2 0h1m1 0h1m5 0h3m7 0h1m4 0h1m1 0h1m7 0h1m3 0h1m1 0h1M337 625.5h1m12 0h1m18 0h21m1 0h5m1 0h1m2 0h1m1 0h4m1 0h2m2 0h1m1 0h2m1 0h1m1 0h1m1 0h1m5 0h1m2 0h1m3 0h1m1 0h2m1 0h1m6 0h1m6 0h1m1 0h2m11 0h1m13 0h1m25 0h1m1 0h1m10 0h1m1 0h1m1 0h1m17 0h2m1 0h1M366 626.5h3m1 0h24m1 0h7m2 0h5m5 0h2m1 0h1m15 0h1m4 0h2m2 0h1m7 0h2m4 0h1m5 0h1m4 0h3m8 0h1m40 0h1m1 0h1m10 0h1m1 0h2m2 0h1M322 627.5h1m24 0h1m15 0h1m1 0h31m1 0h2m1 0h2m2 0h3m3 0h1m1 0h1m3 0h1m4 0h1m1 0h1m6 0h1m3 0h2m10 0h1m1 0h1m1 0h1m7 0h1m2 0h1m17 0h1m3 0h2m10 0h2m16 0h1m4 0h1m2 0h1m7 0h2m2 0h2M352 628.5h1m4 0h36m3 0h1m1 0h4m6 0h1m1 0h1m8 0h1m2 0h1m10 0h1m11 0h1m2 0h1m21 0h1m18 0h1m33 0h1m3 0h2m5 0h1m3 0h1m2 0h1M352 629.5h3m1 0h35m2 0h3m1 0h2m1 0h1m1 0h3m2 0h2m2 0h2m10 0h1m25 0h1m13 0h1m2 0h1m22 0h1m32 0h1m19 0h1m3 0h1M346 630.5h1m2 0h38m2 0h3m1 0h2m2 0h1m1 0h3m1 0h2m3 0h1m4 0h1m5 0h1m43 0h1m44 0h1m17 0h1m7 0h1m4 0h2m2 0h1M345 631.5h40m1 0h2m1 0h4m8 0h3m1 0h2m1 0h1m9 0h1m101 0h1m22 0h1M341 632.5h1m1 0h40m2 0h3m1 0h4m5 0h2m1 0h1m7 0h2m2 0h1m2 0h1m37 0h1m8 0h1m35 0h2m12 0h2m3 0h1m23 0h1M311 633.5h1m29 0h38m5 0h1m2 0h2m4 0h1m2 0h2m1 0h1m8 0h1m35 0h1m1 0h1m64 0h1m14 0h3m8 0h1M337 634.5h41m2 0h2m7 0h1m2 0h1m2 0h2m2 0h1m13 0h1m103 0h1m1 0h1m5 0h1m12 0h1m6 0h1M332 635.5h43m4 0h1m2 0h2m2 0h1m10 0h2m1 0h2m8 0h1m4 0h1m101 0h2m6 0h1M322 636.5h1m5 0h44m2 0h1m4 0h1m3 0h1m11 0h1m1 0h1m5 0h2m22 0h1m98 0h1m5 0h1M328 637.5h43m3 0h1m4 0h1m1 0h1m7 0h1m3 0h1m39 0h1m89 0h1m12 0h1m2 0h1M322 638.5h1m1 0h43m2 0h1m3 0h1m14 0h1m6 0h1m18 0h1m108 0h1m1 0h2M323 639.5h39m1 0h1m29 0h1m116 0h1m4 0h1m8 0h1m11 0h1m5 0h1M315 640.5h1m2 0h40m1 0h1m1 0h2m9 0h1m2 0h1m4 0h1m1 0h1m3 0h1m28 0h1m8 0h1m98 0h1M316 641.5h4m1 0h33m1 0h1m2 0h2m17 0h2m12 0h1m58 0h1m83 0h2M317 642.5h1m1 0h34m1 0h2m59 0h1m100 0h1m28 0h1M313 643.5h1m1 0h2m1 0h32m15 0h1m139 0h1m33 0h2M314 644.5h34m23 0h1m5 0h1m14 0h1m134 0h1M311 645.5h26m1 0h1m1 0h2m23 0h1m41 0h1m86 0h1m26 0h1m11 0h1M310 646.5h6m1 0h16m1 0h1m1 0h1m1 0h1m64 0h1m102 0h1m6 0h1m23 0h1" stroke="#151515" stroke-width="1" fill="none"/>
<path d="M656 417.5h1m1 0h1m17 0h1m5 0h1m7 0h1m5 0h1m3 0h1m1 0h1m3 0h1m1 0h1m3 0h1m2 0h3m3 0h5m11 0h2m5 0h1m4 0h6m4 0h1m2 0h2m4 0h2m2 0h1m3 0h1m2 0h1m1 0h1m2 0h4m3 0h1m2 0h1M658 418.5h1m4 0h1m22 0h2m5 0h1m1 0h1m1 0h1m2 0h1m1 0h2m7 0h2m5 0h2m3 0h1m1 0h2m3 0h1m2 0h1m1 0h1m8 0h3m1 0h1m2 0h1m1 0h2m2 0h2m2 0h1m1 0h2m1 0h1m3 0h1m1 0h8m3 0h1m3 0h1m4 0h2M646 419.5h1m26 0h1m8 0h1m2 0h1m8 0h1m9 0h1m2 0h1m2 0h2m3 0h1m3 0h1m1 0h1m1 0h2m2 0h1m1 0h1m1 0h1m3 0h1m5 0h1m2 0h3m2 0h2m4 0h1m1 0h2m1 0h2m1 0h1m1 0h5m2 0h6m2 0h1m1 0h1m1 0h1m1 0h3m1 0h5M651 420.5h1m3 0h1m4 0h1m9 0h1m18 0h2m5 0h3m1 0h1m1 0h2m2 0h1m1 0h2m2 0h1m2 0h1m4 0h4m1 0h1m2 0h1m2 0h1m1 0h1m2 0h1m1 0h1m2 0h2m1 0h1m3 0h1m1 0h3m1 0h1m2 0h5m1 0h7m1 0h11m1 0h1m1 0h1m3 0h2m1 0h1M652 421.5h1m39 0h1m4 0h1m2 0h1m1 0h1m1 0h1m3 0h1m1 0h3m2 0h2m3 0h1m2 0h1m1 0h2m2 0h1m1 0h1m1 0h3m1 0h1m1 0h2m1 0h1m3 0h6m6 0h3m1 0h7m1 0h5m1 0h1m1 0h3m1 0h5m1 0h7M662 422.5h1m19 0h1m1 0h1m16 0h1m4 0h1m4 0h1m1 0h1m1 0h1m6 0h4m7 0h1m2 0h2m2 0h1m1 0h3m1 0h17m1 0h14m2 0h3m1 0h6m3 0h2M632 423.5h1m19 0h1m26 0h1m2 0h1m8 0h1m1 0h1m7 0h1m3 0h1m1 0h1m5 0h1m15 0h2m6 0h2m3 0h37m2 0h2m1 0h3m1 0h3m1 0h3M691 424.5h1m2 0h1m8 0h3m2 0h2m1 0h2m2 0h3m5 0h1m2 0h2m9 0h3m1 0h1m1 0h1m1 0h10m1 0h1m1 0h28m1 0h4m1 0h2M683 425.5h1m5 0h1m1 0h1m1 0h1m3 0h1m6 0h1m10 0h1m6 0h1m7 0h1m4 0h9m1 0h1m1 0h40m1 0h2m1 0h1M687 426.5h1m1 0h1m2 0h1m1 0h1m2 0h1m1 0h1m2 0h1m5 0h1m4 0h2m1 0h1m8 0h1m6 0h1m3 0h1m2 0h4m1 0h48m1 0h1M682 427.5h1m3 0h1m2 0h1m1 0h1m4 0h1m2 0h2m3 0h1m5 0h2m3 0h2m3 0h1m4 0h2m4 0h1m2 0h1m3 0h44m1 0h10m1 0h1M690 428.5h1m3 0h2m1 0h1m3 0h2m2 0h1m1 0h2m4 0h1m3 0h1m6 0h2m2 0h1m2 0h1m1 0h1m1 0h1m2 0h4m1 0h1m1 0h3m1 0h46M680 429.5h1m1 0h1m13 0h1m7 0h3m8 0h1m1 0h2m4 0h1m6 0h1m1 0h4m3 0h52m1 0h3M676 430.5h1m3 0h1m10 0h1m3 0h3m5 0h1m1 0h1m4 0h1m4 0h2m1 0h2m1 0h1m4 0h1m1 0h1m3 0h1m1 0h7m1 0h53M686 431.5h1m2 0h1m4 0h1m4 0h1m1 0h1m3 0h1m5 0h2m1 0h1m2 0h1m5 0h2m5 0h4m2 0h1m1 0h57M694 432.5h1m6 0h1m2 0h1m2 0h1m2 0h2m1 0h3m3 0h2m6 0h1m1 0h5m1 0h60M687 433.5h1m4 0h2m6 0h1m3 0h2m1 0h1m5 0h1m2 0h1m1 0h3m3 0h1m3 0h67M685 434.5h1m9 0h2m2 0h3m1 0h1m3 0h1m3 0h1m2 0h2m2 0h1m4 0h1m1 0h7m1 0h57m1 0h4M684 435.5h2m12 0h1m1 0h1m2 0h2m3 0h2m1 0h1m1 0h1m3 0h2m1 0h1m4 0h1m1 0h1m1 0h66M681 436.5h1m9 0h1m1 0h3m1 0h5m2 0h1m3 0h2m8 0h2m2 0h5m1 0h3m1 0h63M685 437.5h1m10 0h3m6 0h1m5 0h1m2 0h1m1 0h1m1 0h1m2 0h5m2 0h67M684 438.5h1m3 0h1m1 0h1m2 0h1m5 0h3m1 0h1m1 0h1m5 0h2m1 0h1m2 0h1m3 0h1m2 0h7m1 0h63M681 439.5h1m4 0h2m3 0h1m3 0h1m2 0h2m2 0h2m2 0h1m1 0h4m1 0h2m1 0h1m1 0h1m2 0h3m1 0h1m1 0h68M674 440.5h1m4 0h1m1 0h1m10 0h2m2 0h1m7 0h1m1 0h2m1 0h1m5 0h3m1 0h2m1 0h73M681 441.5h1m1 0h1m3 0h1m1 0h2m2 0h1m5 0h2m3 0h3m1 0h1m1 0h1m1 0h1m2 0h3m1 0h76M677 442.5h1m2 0h1m1 0h1m2 0h1m12 0h1m6 0h1m2 0h1m1 0h1m3 0h1m2 0h2m1 0h1m1 0h4m1 0h68M681 443.5h1m1 0h1m5 0h1m7 0h1m8 0h1m5 0h1m6 0h2m1 0h1m1 0h1m1 0h69M679 444.5h1m5 0h3m1 0h1m1 0h2m1 0h1m2 0h3m6 0h1m3 0h1m7 0h1m2 0h3m1 0h70M674 445.5h1m1 0h1m2 0h1m6 0h2m5 0h1m2 0h1m1 0h2m1 0h2m1 0h1m6 0h1m1 0h7m1 0h74M676 446.5h1m4 0h1m6 0h1m4 0h1m1 0h1m4 0h3m1 0h1m3 0h1m1 0h6m1 0h1m1 0h2m1 0h73M677 447.5h1m1 0h1m2 0h1m1 0h2m3 0h1m2 0h1m2 0h1m1 0h2m2 0h2m1 0h1m4 0h1m4 0h3m1 0h3m1 0h1m1 0h1m1 0h69M669 448.5h1m7 0h1m2 0h1m4 0h2m2 0h2m1 0h2m5 0h1m1 0h3m5 0h2m1 0h1m1 0h1m2 0h78M679 449.5h1m1 0h1m1 0h1m3 0h6m1 0h1m1 0h1m7 0h1m3 0h1m1 0h3m3 0h79M679 450.5h1m1 0h1m1 0h3m2 0h1m2 0h3m9 0h1m3 0h1m2 0h2m2 0h81M675 451.5h1m4 0h2m2 0h1m3 0h1m2 0h2m1 0h1m2 0h1m4 0h1m1 0h1m7 0h1m4 0h78M657 452.5h1m16 0h2m1 0h1m8 0h1m1 0h2m1 0h1m2 0h2m2 0h1m1 0h1m3 0h2m3 0h6m1 0h79M668 453.5h1m1 0h1m1 0h1m9 0h1m2 0h2m7 0h1m7 0h1m7 0h1m1 0h3m1 0h79M674 454.5h1m2 0h3m2 0h3m7 0h1m6 0h2m8 0h5m3 0h1m1 0h76M673 455.5h1m3 0h1m3 0h5m4 0h1m7 0h1m4 0h1m2 0h1m1 0h8m1 0h78M655 456.5h1m13 0h1m5 0h2m1 0h1m16 0h1m1 0h1m3 0h1m1 0h1m3 0h1m1 0h86M584 457.5h1m76 0h1m2 0h1m10 0h1m7 0h2m11 0h1m3 0h1m5 0h6m3 0h80M661 458.5h1m1 0h2m3 0h2m2 0h1m3 0h1m8 0h1m2 0h1m7 0h1m10 0h1m3 0h2m1 0h81M664 459.5h1m2 0h1m3 0h1m2 0h1m5 0h1m11 0h1m3 0h1m13 0h1m1 0h4m1 0h78M669 460.5h1m3 0h1m1 0h1m1 0h1m6 0h1m3 0h1m1 0h1m16 0h2m1 0h1m1 0h2m1 0h80M622 461.5h1m41 0h2m8 0h1m3 0h2m12 0h1m10 0h2m1 0h2m1 0h3m1 0h82M660 462.5h1m1 0h2m1 0h2m1 0h1m5 0h1m1 0h1m4 0h1m2 0h1m8 0h1m3 0h1m2 0h1m3 0h1m4 0h1m4 0h81M660 463.5h1m9 0h3m11 0h1m9 0h1m5 0h1m4 0h5m2 0h83M664 464.5h2m2 0h2m3 0h1m7 0h1m8 0h1m5 0h1m3 0h3m2 0h1m1 0h1m2 0h1m1 0h3m1 0h1m1 0h77M657 465.5h1m2 0h1m3 0h3m1 0h2m1 0h2m28 0h1m4 0h3m1 0h1m1 0h1m1 0h4m1 0h76M652 466.5h1m7 0h3m1 0h5m5 0h2m9 0h1m15 0h1m8 0h1m2 0h4m1 0h77M662 467.5h1m2 0h4m1 0h1m4 0h1m2 0h2m1 0h1m23 0h2m1 0h6m1 0h80M658 468.5h2m2 0h1m2 0h1m1 0h2m1 0h1m3 0h3m2 0h1m27 0h1m3 0h84M658 469.5h1m2 0h2m1 0h5m1 0h2m1 0h1m5 0h1m1 0h1m17 0h2m6 0h2m1 0h4m1 0h2m1 0h77M658 470.5h2m3 0h1m4 0h1m4 0h2m9 0h1m15 0h1m6 0h1m3 0h3m1 0h80M659 471.5h2m2 0h2m2 0h3m25 0h1m15 0h1m1 0h1m1 0h4m1 0h1m1 0h71m1 0h1M658 472.5h1m1 0h1m1 0h8m2 0h3m1 0h1m26 0h1m5 0h6m1 0h79M658 473.5h1m1 0h1m3 0h1m1 0h5m2 0h1m2 0h1m2 0h1m27 0h3m3 0h81M655 474.5h1m2 0h1m1 0h2m1 0h6m2 0h1m26 0h1m5 0h1m3 0h2m1 0h1m2 0h4m1 0h75M654 475.5h1m4 0h2m1 0h2m1 0h1m1 0h4m23 0h1m8 0h1m3 0h1m1 0h1m4 0h81M653 476.5h1m1 0h1m1 0h2m1 0h1m5 0h1m3 0h1m20 0h1m7 0h1m9 0h2m2 0h2m1 0h79M656 477.5h2m1 0h3m1 0h2m1 0h1m3 0h1m37 0h1m4 0h2m3 0h75M659 478.5h1m2 0h1m1 0h6m3 0h1m34 0h5m2 0h76m1 0h1m1 0h1M653 479.5h1m2 0h4m1 0h4m3 0h1m3 0h1m32 0h2m1 0h1m2 0h1m1 0h2m1 0h72m1 0h6M657 480.5h3m1 0h1m4 0h1m5 0h1m11 0h1m2 0h1m6 0h1m5 0h1m6 0h1m4 0h1m1 0h3m1 0h73m2 0h2M660 481.5h1m1 0h2m6 0h1m33 0h1m2 0h1m5 0h1m1 0h1m1 0h2m1 0h66m1 0h5m2 0h1M653 482.5h1m3 0h2m1 0h1m2 0h1m46 0h1m1 0h1m2 0h2m1 0h72m2 0h1m1 0h1M649 483.5h1m3 0h1m2 0h2m3 0h2m1 0h1m1 0h1m8 0h1m34 0h1m6 0h3m1 0h62m1 0h1m1 0h6m2 0h1M644 484.5h1m7 0h1m3 0h1m5 0h1m30 0h1m5 0h1m2 0h1m2 0h1m6 0h3m4 0h3m1 0h58m1 0h6m3 0h3M653 485.5h1m1 0h6m3 0h2m23 0h1m13 0h1m4 0h1m6 0h2m1 0h1m3 0h6m1 0h53m1 0h3m1 0h1m1 0h2m2 0h1M607 486.5h1m37 0h2m2 0h1m3 0h1m2 0h1m2 0h2m3 0h1m6 0h1m19 0h1m19 0h2m2 0h68m1 0h4m3 0h2M649 487.5h2m2 0h2m2 0h1m6 0h1m7 0h1m2 0h1m11 0h1m12 0h1m4 0h1m4 0h1m5 0h1m1 0h1m1 0h2m1 0h15m1 0h45m3 0h1m1 0h2m3 0h1M640 488.5h1m9 0h1m5 0h1m3 0h1m1 0h1m6 0h1m34 0h1m4 0h1m2 0h1m1 0h1m3 0h58m1 0h5m1 0h2m1 0h3m1 0h1m2 0h1M648 489.5h1m1 0h1m1 0h2m1 0h1m5 0h2m42 0h1m3 0h1m1 0h1m3 0h4m1 0h56m2 0h6m1 0h1M647 490.5h2m9 0h2m3 0h2m42 0h2m5 0h2m1 0h1m2 0h12m1 0h5m1 0h32m2 0h4m1 0h1m1 0h1m1 0h4m3 0h1m1 0h1M646 491.5h1m2 0h2m1 0h5m1 0h1m60 0h16m1 0h32m1 0h6m2 0h4m3 0h1M646 492.5h2m1 0h1m3 0h1m1 0h1m2 0h1m3 0h1m36 0h1m8 0h2m10 0h40m1 0h12m1 0h2m4 0h2m1 0h1M644 493.5h1m6 0h2m4 0h2m38 0h1m8 0h1m7 0h1m3 0h17m2 0h3m1 0h5m1 0h21m2 0h4m1 0h1m2 0h1M643 494.5h2m2 0h2m2 0h1m1 0h1m2 0h1m21 0h1m22 0h1m6 0h1m7 0h1m1 0h11m1 0h4m1 0h5m2 0h7m1 0h5m1 0h7m1 0h1m1 0h6m2 0h2m1 0h1m4 0h1m1 0h1M647 495.5h1m4 0h3m2 0h1m1 0h1m15 0h1m26 0h1m9 0h1m5 0h16m1 0h5m1 0h2m1 0h13m1 0h3m2 0h4m1 0h1m2 0h2m4 0h2m1 0h1m3 0h1m7 0h1M641 496.5h1m3 0h1m5 0h2m1 0h3m35 0h3m8 0h2m4 0h3m2 0h2m1 0h1m2 0h13m2 0h2m1 0h2m1 0h1m1 0h1m2 0h2m3 0h4m1 0h1m2 0h2m1 0h3m1 0h1m2 0h2m4 0h1M645 497.5h1m2 0h1m1 0h3m5 0h1m25 0h1m11 0h1m3 0h1m5 0h1m6 0h2m2 0h15m1 0h2m1 0h9m1 0h3m1 0h9m2 0h5m1 0h2m3 0h2M644 498.5h1m1 0h2m1 0h2m2 0h1m3 0h1m28 0h1m21 0h2m2 0h1m4 0h3m2 0h1m1 0h9m1 0h3m4 0h1m1 0h1m5 0h2m2 0h5m5 0h2m5 0h1m7 0h1m1 0h1M640 499.5h1m1 0h1m3 0h1m5 0h1m18 0h1m32 0h2m3 0h1m6 0h4m1 0h9m1 0h2m1 0h1m1 0h2m1 0h1m1 0h2m6 0h1m1 0h1m1 0h2m2 0h1m1 0h2m5 0h1M641 500.5h4m1 0h1m1 0h1m1 0h1m2 0h1m7 0h1m40 0h1m9 0h1m2 0h11m1 0h2m1 0h1m3 0h2m2 0h1m1 0h1m1 0h1m3 0h1m2 0h1m3 0h1m4 0h1m5 0h1m6 0h1M637 501.5h1m6 0h4m4 0h1m14 0h1m30 0h1m8 0h1m4 0h3m1 0h8m1 0h8m1 0h3m2 0h3m4 0h1m7 0h2M630 502.5h1m16 0h3m3 0h1m4 0h1m14 0h1m34 0h1m2 0h1m2 0h7m2 0h1m2 0h3m1 0h1m1 0h2m11 0h1m2 0h1m2 0h1m1 0h1m3 0h1m1 0h1m1 0h1m1 0h1m2 0h1M641 503.5h2m1 0h1m3 0h2m2 0h1m2 0h1m1 0h1m39 0h2m12 0h2m2 0h1m1 0h12m2 0h1m7 0h2m16 0h2m5 0h1M634 504.5h1m4 0h1m1 0h2m1 0h2m3 0h1m2 0h1m3 0h1m27 0h1m6 0h1m3 0h1m14 0h1m1 0h15m1 0h2m1 0h1m10 0h1m14 0h1m4 0h1m3 0h1m13 0h1M639 505.5h2m3 0h2m2 0h1m50 0h1m12 0h17m1 0h1m4 0h1m19 0h1M642 506.5h1m5 0h3m26 0h1m8 0h1m23 0h3m1 0h8m1 0h4m15 0h1m7 0h1M634 507.5h1m1 0h1m3 0h3m3 0h2m1 0h2m13 0h1m4 0h1m27 0h1m2 0h1m2 0h1m7 0h12m2 0h2m7 0h2M599 508.5h1m40 0h4m1 0h1m5 0h1m4 0h1m7 0h1m27 0h1m14 0h3m2 0h11m1 0h1m3 0h1m1 0h1m10 0h1m37 0h1M641 509.5h4m8 0h1m17 0h1m2 0h1m23 0h1m8 0h2m1 0h1m1 0h2m1 0h7m1 0h2m12 0h1M635 510.5h1m3 0h1m1 0h1m6 0h1m20 0h1m7 0h1m30 0h1m1 0h12m2 0h2m3 0h1m2 0h1m5 0h1m11 0h1m2 0h1M632 511.5h1m5 0h1m1 0h1m2 0h3m5 0h1m5 0h1m33 0h1m6 0h1m8 0h1m2 0h1m1 0h5m1 0h5m2 0h1m8 0h1m24 0h1M625 512.5h1m4 0h1m3 0h1m4 0h2m8 0h1m31 0h1m5 0h1m11 0h1m3 0h1m2 0h1m2 0h10m2 0h2M630 513.5h3m4 0h3m4 0h1m6 0h1m12 0h1m6 0h1m9 0h1m18 0h1m5 0h3m2 0h2m1 0h7m16 0h1m7 0h1m10 0h1m4 0h1m6 0h1M611 514.5h1m20 0h4m1 0h2m4 0h1m36 0h1m19 0h1m1 0h1m5 0h2m1 0h6m3 0h1m5 0h2M630 515.5h1m6 0h2m3 0h1m1 0h1m4 0h1m1 0h1m4 0h2m24 0h1m10 0h1m10 0h1m1 0h1m4 0h8m30 0h1m10 0h1M633 516.5h1m1 0h1m1 0h2m1 0h1m1 0h3m26 0h1m4 0h1m6 0h1m12 0h1m5 0h2m3 0h6m1 0h4m1 0h1m1 0h1m22 0h1M626 517.5h1m2 0h1m1 0h1m1 0h2m2 0h4m2 0h2m3 0h1m22 0h1m11 0h1m14 0h1m6 0h1m1 0h10m3 0h1m1 0h2m35 0h1M630 518.5h1m1 0h1m1 0h2m2 0h1m2 0h1m9 0h1m14 0h1m7 0h2m31 0h3m2 0h2m1 0h6m4 0h1m2 0h1m17 0h1m43 0h1M631 519.5h2m1 0h2m1 0h1m28 0h1m40 0h3m1 0h1m1 0h2m1 0h1m2 0h1m72 0h1M625 520.5h1m4 0h1m1 0h6m10 0h1m6 0h1m19 0h1m8 0h1m2 0h1m18 0h8m10 0h1m14 0h1m20 0h1M629 521.5h1m2 0h1m1 0h2m1 0h3m3 0h2m20 0h1m17 0h1m5 0h1m1 0h1m11 0h1m2 0h1m1 0h1m1 0h5m1 0h1m45 0h1M631 522.5h1m2 0h2m5 0h1m4 0h1m10 0h2m20 0h1m13 0h1m12 0h1m2 0h2m3 0h1m14 0h1m19 0h1M627 523.5h1m1 0h1m7 0h1m4 0h2m5 0h1m13 0h1m15 0h1m1 0h1m2 0h1m2 0h1m1 0h1m1 0h1m2 0h1m1 0h1m11 0h7m1 0h2m34 0h1M623 524.5h1m2 0h1m1 0h1m1 0h2m1 0h1m1 0h1m6 0h1m31 0h1m8 0h1m2 0h1m8 0h1m10 0h1m1 0h1m1 0h3m1 0h2m4 0h1M626 525.5h1m4 0h1m1 0h2m16 0h1m15 0h1m8 0h1m3 0h1m8 0h1m5 0h1m2 0h1m7 0h2m3 0h2m1 0h1m2 0h1m3 0h1m1 0h1m11 0h1m3 0h1M626 526.5h1m2 0h1m49 0h1m12 0h1m3 0h1m9 0h2m4 0h1m3 0h1M626 527.5h2m1 0h1m3 0h2m7 0h1m29 0h1m7 0h1m1 0h1m13 0h1m6 0h2m1 0h1m5 0h1M622 528.5h1m2 0h2m5 0h3m2 0h1m1 0h1m13 0h1m5 0h1m25 0h1m5 0h1m6 0h1m3 0h1m6 0h1m10 0h1m7 0h1m12 0h1m12 0h1M619 529.5h1m9 0h2m4 0h2m12 0h2m4 0h2m19 0h1m7 0h1m5 0h1m5 0h1m4 0h1m6 0h1m18 0h1m1 0h1m15 0h1m23 0h1m4 0h1M618 530.5h1m1 0h1m7 0h2m3 0h1m2 0h1m14 0h1m6 0h1m3 0h1m24 0h1m3 0h1m1 0h1m2 0h1m2 0h1m9 0h1m29 0h1m8 0h1M606 531.5h1m19 0h2m2 0h1m1 0h1m1 0h1m1 0h2m32 0h1m13 0h1m7 0h1m6 0h2m3 0h1m10 0h1m8 0h1m6 0h1M620 532.5h3m2 0h2m3 0h1m5 0h1m11 0h1m10 0h1m2 0h1m10 0h1m35 0h1m3 0h1m48 0h1M622 533.5h2m1 0h3m1 0h2m1 0h1m7 0h1m4 0h1m16 0h1m4 0h1m17 0h1m5 0h3m6 0h1m8 0h1m13 0h1m1 0h1m50 0h1m2 0h1M620 534.5h1m3 0h2m5 0h1m38 0h1m10 0h1m1 0h1m19 0h1m4 0h2m79 0h1m3 0h1M621 535.5h4m6 0h2m26 0h1m23 0h1m56 0h1m5 0h3M618 536.5h1m1 0h3m1 0h1m2 0h1m1 0h1m1 0h2m28 0h1m19 0h1m2 0h1m7 0h1m3 0h1m2 0h1m4 0h2m21 0h1m4 0h2m4 0h1m29 0h1m24 0h1M614 537.5h1m5 0h1m2 0h1m1 0h3m1 0h1m1 0h1m1 0h1m34 0h1m14 0h1m4 0h1m3 0h2m10 0h1m25 0h1m2 0h1m5 0h1m12 0h1m20 0h1M618 538.5h1m4 0h4m2 0h2m2 0h1m22 0h1m6 0h1m3 0h1m13 0h1m1 0h1m7 0h1m10 0h3m4 0h1m6 0h1m10 0h1m10 0h1m20 0h1M616 539.5h2m5 0h3m1 0h2m1 0h1m19 0h1m16 0h1m22 0h1m4 0h1m12 0h1m4 0h1m4 0h1m4 0h2m13 0h1M609 540.5h1m5 0h1m1 0h1m3 0h2m1 0h2m49 0h1m2 0h1m1 0h1m3 0h1m17 0h2m2 0h1m5 0h1m4 0h1m1 0h1m1 0h2M612 541.5h1m5 0h2m3 0h2m20 0h1m4 0h1m5 0h1m1 0h1m20 0h1m1 0h1m1 0h1m8 0h1m5 0h1m31 0h1m17 0h2m9 0h1m5 0h1M612 542.5h1m3 0h3m2 0h1m2 0h1m2 0h1m1 0h1m9 0h1m3 0h1m38 0h1m11 0h2m9 0h1m22 0h1m30 0h1m15 0h1m6 0h1M615 543.5h1m5 0h1m3 0h3m22 0h1m5 0h1m25 0h1m11 0h1m3 0h1m8 0h1m1 0h1m8 0h1m8 0h1m2 0h1M613 544.5h2m6 0h2m14 0h1m18 0h1m24 0h1m8 0h1m1 0h1m13 0h1m6 0h2M611 545.5h1m4 0h4m3 0h3m20 0h1m12 0h1m5 0h1m1 0h1m1 0h1m26 0h1m20 0h1m8 0h1m14 0h1m40 0h1M613 546.5h1m1 0h3m5 0h2m1 0h1m2 0h1m14 0h1m5 0h1m6 0h1m16 0h1m9 0h1m15 0h1m2 0h1m1 0h1m29 0h1m20 0h1M593 547.5h1m13 0h1m3 0h2m1 0h2m1 0h5m1 0h1m11 0h1m14 0h1m4 0h1m11 0h1m5 0h1m5 0h1m12 0h1m8 0h1m2 0h1M608 548.5h1m6 0h4m6 0h1m22 0h1m6 0h1m34 0h1m2 0h1m4 0h1m7 0h1m20 0h1m54 0h1M610 549.5h1m2 0h2m1 0h3m2 0h1m41 0h1m7 0h2m26 0h1m18 0h1m29 0h1M610 550.5h1m7 0h1m2 0h1m1 0h2m6 0h1m15 0h1m6 0h1m6 0h1m9 0h1m8 0h1m4 0h1m3 0h1m13 0h1m5 0h1m13 0h1m25 0h1m24 0h1M608 551.5h1m1 0h1m2 0h1m2 0h4m2 0h1m20 0h2m2 0h1m3 0h1m9 0h1m16 0h1m8 0h1m22 0h1m3 0h1m18 0h1m20 0h1m25 0h1m4 0h1M596 552.5h1m14 0h2m1 0h1m6 0h1m14 0h1m5 0h1m4 0h1m4 0h1m10 0h1m1 0h1m1 0h1m2 0h2m2 0h1m8 0h1m27 0h1m8 0h1m1 0h2m11 0h2m30 0h1M564 553.5h1m43 0h1m1 0h1m1 0h1m1 0h2m1 0h1m2 0h1m5 0h1m44 0h1m4 0h1m12 0h1m2 0h1m3 0h1m7 0h1m7 0h1m5 0h1m5 0h1m1 0h1m32 0h1m14 0h1M600 554.5h1m5 0h2m2 0h1m1 0h5m1 0h2m2 0h1m30 0h1m25 0h1m14 0h1m8 0h1m23 0h1m1 0h1m6 0h1m26 0h1M582 555.5h1m4 0h1m18 0h1m1 0h3m1 0h3m2 0h2m3 0h1m6 0h1m22 0h1m1 0h1m7 0h1m9 0h1m6 0h1m14 0h1m17 0h1m6 0h1m3 0h1M605 556.5h1m6 0h3m3 0h1m16 0h1m11 0h1m24 0h1m4 0h2m3 0h1m50 0h1M608 557.5h2m2 0h1m9 0h1m16 0h1m1 0h1m11 0h1m9 0h1m13 0h1m36 0h1m29 0h1m1 0h1m3 0h1M608 558.5h9m27 0h2m3 0h1m4 0h1m17 0h1m6 0h1m19 0h1m1 0h2m6 0h1m3 0h1m5 0h1m16 0h1m7 0h1M602 559.5h1m6 0h1m1 0h4m2 0h1m15 0h2m20 0h1m1 0h1m16 0h1m1 0h1m2 0h1m2 0h1m30 0h1m11 0h1M601 560.5h1m4 0h3m1 0h2m1 0h1m2 0h1m13 0h1m9 0h1m35 0h1m6 0h1m9 0h1m9 0h1m5 0h1m66 0h1m4 0h1M595 561.5h1m7 0h1m1 0h1m7 0h1m2 0h1m2 0h1m10 0h1m25 0h1m16 0h1m7 0h1m15 0h2m18 0h1m35 0h1M601 562.5h1m2 0h1m2 0h2m3 0h1m4 0h1m17 0h1m2 0h1m13 0h1m6 0h1m7 0h1m6 0h1m1 0h1m12 0h1m19 0h1m27 0h1M605 563.5h1m3 0h4m8 0h1m15 0h1m16 0h1m8 0h2m3 0h1m13 0h2m44 0h1m32 0h1M597 564.5h1m4 0h1m4 0h2m16 0h1m37 0h1m15 0h2m2 0h1m4 0h1m29 0h1m11 0h1m40 0h1m2 0h1m2 0h1m4 0h1M592 565.5h1m9 0h1m1 0h4m3 0h3m3 0h1m4 0h1m3 0h1m7 0h1m4 0h1m18 0h1m2 0h1m2 0h1m9 0h1m45 0h2m60 0h1M599 566.5h7m1 0h2m3 0h1m54 0h1m46 0h1m3 0h1m45 0h1M600 567.5h1m5 0h2m26 0h1m2 0h1m18 0h1m5 0h1m22 0h1m8 0h1m2 0h1m4 0h1m18 0h1m9 0h1m16 0h1M598 568.5h1m1 0h1m2 0h1m1 0h3m16 0h1m22 0h1m16 0h1m24 0h1m16 0h1m9 0h1m11 0h1M581 569.5h2m13 0h1m3 0h1m3 0h4m6 0h1m63 0h1m28 0h1m4 0h1M587 570.5h1m12 0h1m1 0h1m1 0h3m1 0h1m15 0h1m55 0h1m14 0h1m1 0h1m8 0h1m13 0h1m31 0h1m16 0h1M601 571.5h2m3 0h1m1 0h3m1 0h1m14 0h1m36 0h1m15 0h1m29 0h1m16 0h1m9 0h1m5 0h1m3 0h1M593 572.5h1m3 0h1m6 0h1m1 0h4m2 0h1m1 0h1m1 0h1m7 0h1m5 0h1m12 0h1m2 0h1m39 0h1m17 0h1m25 0h1m16 0h1m3 0h1M568 573.5h1m18 0h1m7 0h1m4 0h1m1 0h3m2 0h1m1 0h1m29 0h1m10 0h1m56 0h1m1 0h1m5 0h1m55 0h1m5 0h2m3 0h1m5 0h1M588 574.5h1m5 0h2m2 0h3m1 0h1m1 0h2m31 0h1m42 0h1m8 0h1m22 0h1M591 575.5h1m4 0h1m1 0h1m1 0h1m1 0h1m1 0h1m1 0h1m1 0h1m9 0h1m6 0h1m33 0h1m41 0h1m77 0h1M584 576.5h2m2 0h1m3 0h1m4 0h1m3 0h2m2 0h2m1 0h2m70 0h1m14 0h1m24 0h1m68 0h1M596 577.5h1m2 0h1m1 0h3m5 0h2m100 0h1m52 0h1m18 0h1M597 578.5h1m1 0h3m3 0h1m1 0h1m4 0h1m5 0h1m15 0h1m29 0h1m7 0h1m16 0h2m6 0h1m25 0h1m7 0h1m12 0h1m10 0h1m14 0h1M596 579.5h2m1 0h2m1 0h2m6 0h1m29 0h1m10 0h1m30 0h1m26 0h1m31 0h1M591 580.5h2m3 0h1m1 0h1m1 0h1m1 0h4m17 0h1m24 0h1m16 0h1m6 0h1m4 0h1m3 0h1m26 0h1m16 0h1m55 0h1M596 581.5h1m1 0h3m2 0h2m61 0h1m27 0h1m2 0h1m39 0h1m23 0h1M583 582.5h1m4 0h1m4 0h7m14 0h1m7 0h1m63 0h1m36 0h1m9 0h1M589 583.5h2m3 0h1m1 0h1m1 0h1m5 0h1m1 0h1m3 0h1m22 0h1m10 0h1m10 0h1m25 0h1m29 0h1m1 0h1m18 0h1M589 584.5h1m4 0h4m2 0h1m4 0h1m2 0h1m3 0h1m19 0h1m47 0h1M589 585.5h1m5 0h1m2 0h1m2 0h1m38 0h1m7 0h1m29 0h1m2 0h3m66 0h1m35 0h1M584 586.5h1m5 0h1m3 0h1m1 0h1m2 0h2m3 0h1m75 0h1m23 0h1m3 0h1m17 0h1M582 587.5h1m2 0h3m1 0h2m1 0h1m4 0h1m1 0h2m1 0h1m2 0h1m8 0h1m27 0h1m61 0h1m26 0h2m35 0h1m17 0h1M583 588.5h2m2 0h1m7 0h1m2 0h3m15 0h1m15 0h1m47 0h1m39 0h1M576 589.5h1m10 0h5m1 0h1m1 0h1m5 0h1m2 0h1m40 0h1m85 0h1m11 0h1m11 0h1M585 590.5h1m2 0h3m1 0h4m2 0h1m1 0h1m1 0h1m2 0h1m30 0h1m1 0h1m33 0h1m8 0h1m14 0h1m31 0h1m1 0h1m43 0h1m7 0h1M582 591.5h1m1 0h5m1 0h1m1 0h1m1 0h1m1 0h1m1 0h1m8 0h1m29 0h1m31 0h1m71 0h1m17 0h1M586 592.5h1m2 0h5m3 0h2m55 0h1m3 0h1m68 0h1m10 0h1m2 0h1m11 0h1m38 0h1M582 593.5h1m3 0h2m1 0h3m2 0h2m1 0h3m20 0h1m4 0h1m79 0h1m10 0h1m71 0h1M582 594.5h1m1 0h2m3 0h4m1 0h1m1 0h1m3 0h1m38 0h1m23 0h1m1 0h1m16 0h1m17 0h1m36 0h2m16 0h2m6 0h1m3 0h1M585 595.5h4m4 0h2m1 0h1m43 0h1m34 0h1m12 0h1m36 0h1m13 0h1m24 0h1m4 0h1M584 596.5h2m2 0h3m6 0h3m6 0h1m40 0h1m23 0h1m15 0h1m1 0h1m58 0h1M580 597.5h1m6 0h1m2 0h4m18 0h2m47 0h1m26 0h1m21 0h2m27 0h1m4 0h1m16 0h2M579 598.5h1m4 0h3m1 0h1m7 0h1m6 0h1m26 0h1m13 0h1m28 0h1m10 0h1m36 0h1M576 599.5h1m5 0h5m2 0h1m3 0h1m2 0h1m84 0h1m3 0h1m14 0h1m26 0h1m37 0h1M576 600.5h1m3 0h1m4 0h1m3 0h1m3 0h1m9 0h1m2 0h1m111 0h1m37 0h1M584 601.5h3m2 0h1m2 0h2m11 0h1m163 0h1M582 602.5h2m2 0h1m2 0h2m8 0h1m23 0h1m31 0h1m6 0h1m11 0h1m14 0h1m4 0h1M572 603.5h1m8 0h1m4 0h1m20 0h1m79 0h1m16 0h1m67 0h1M589 604.5h1m6 0h1m17 0h1m86 0h1M579 605.5h1m1 0h1m2 0h2m3 0h1m9 0h1m136 0h1m34 0h1M580 606.5h1m1 0h1m2 0h3m2 0h1m123 0h1m17 0h1m54 0h1M577 607.5h2m2 0h1m11 0h1m14 0h1m85 0h1m16 0h1M579 608.5h1m1 0h1m1 0h1m158 0h1m23 0h1m2 0h1m20 0h1M578 609.5h2m5 0h1m27 0h1m2 0h1m35 0h1m4 0h1m27 0h1M579 610.5h1m2 0h4m13 0h1m1 0h1m71 0h1m23 0h1m5 0h1m6 0h1m20 0h1M573 611.5h1m3 0h2m2 0h1m6 0h1m142 0h1m23 0h1m20 0h1M575 612.5h2m1 0h1m2 0h2m86 0h1m11 0h1m3 0h1m8 0h1m36 0h1m20 0h1m18 0h1M574 613.5h1m7 0h3m1 0h1m82 0h1m42 0h1m4 0h1m37 0h1m25 0h1M579 614.5h2m1 0h1m2 0h1m22 0h1m49 0h1m53 0h1m11 0h1m8 0h1M577 615.5h1m1 0h1m4 0h1m1 0h1m109 0h1m1 0h1m77 0h1m12 0h1M573 616.5h1m5 0h1m7 0h1m13 0h1m7 0h1m9 0h1m78 0h1m18 0h1m1 0h1m20 0h1m28 0h1M575 617.5h1m12 0h1m23 0h1m3 0h1m4 0h1m11 0h1m115 0h1m2 0h1m1 0h1M576 618.5h1m3 0h2m4 0h1m8 0h1m10 0h2m12 0h1m11 0h1m80 0h1M576 619.5h2m1 0h1m1 0h1m90 0h1m44 0h1m28 0h1m2 0h1m14 0h1m3 0h1M566 620.5h1m5 0h1m6 0h2m17 0h2m15 0h1m38 0h1m18 0h1m63 0h1m12 0h1M577 621.5h1m1 0h1m9 0h1m1 0h1m2 0h1m2 0h1m20 0h1m27 0h1m119 0h1M570 622.5h1m5 0h3m8 0h1m21 0h1m58 0h1m9 0h1m14 0h1M565 623.5h1m5 0h1m9 0h1m15 0h1m9 0h1m13 0h1m28 0h1m15 0h1m79 0h1m4 0h1M578 624.5h1m1 0h1m10 0h1m11 0h2m1 0h1m4 0h1m2 0h1m29 0h1m21 0h1m61 0h1M576 625.5h1m3 0h1m11 0h1m14 0h1m1 0h1m6 0h1m7 0h1m7 0h1m2 0h1m2 0h1m72 0h1m29 0h1m15 0h1M565 626.5h1m3 0h1m5 0h4m2 0h1m4 0h1m4 0h2m1 0h2m9 0h1m4 0h1m5 0h1m3 0h1m1 0h2m5 0h2m11 0h1m36 0h1m72 0h1m20 0h1M560 627.5h1m11 0h3m1 0h2m3 0h1m9 0h2m2 0h1m2 0h1m6 0h1m3 0h1m4 0h1m3 0h1m6 0h3m1 0h1m4 0h1m14 0h1m7 0h1m58 0h1m18 0h1m12 0h1m17 0h1M566 628.5h1m3 0h1m5 0h1m12 0h1m11 0h1m2 0h1m1 0h2m2 0h1m2 0h1m2 0h1m1 0h1m7 0h1m18 0h1m59 0h1m3 0h1M568 629.5h1m3 0h1m1 0h1m2 0h1m6 0h1m2 0h1m5 0h2m12 0h1m9 0h2m1 0h1m9 0h1m105 0h1m27 0h1m5 0h1M568 630.5h1m1 0h1m1 0h1m1 0h1m1 0h1m3 0h1m5 0h1m1 0h1m4 0h2m2 0h1m2 0h1m1 0h1m2 0h1m6 0h1m2 0h1m1 0h1m5 0h1m8 0h4m2 0h1m6 0h1m34 0h1m10 0h1m86 0h1M561 631.5h1m1 0h1m2 0h1m3 0h2m1 0h2m1 0h1m1 0h1m2 0h1m4 0h1m6 0h3m1 0h1m2 0h1m6 0h1m12 0h1m10 0h1m10 0h1m101 0h1M567 632.5h1m5 0h1m2 0h1m5 0h1m12 0h8m3 0h1m1 0h3m1 0h1m1 0h1m2 0h2m1 0h1m1 0h1m3 0h1m4 0h2m45 0h1m14 0h1m13 0h1m73 0h1m6 0h1M566 633.5h1m8 0h2m9 0h1m3 0h2m2 0h1m1 0h1m1 0h2m1 0h1m1 0h1m6 0h1m2 0h1m1 0h1m2 0h4m4 0h2m6 0h1m46 0h1m1 0h1m7 0h1m19 0h1m6 0h1m20 0h1m11 0h1m29 0h1m8 0h2M560 634.5h1m2 0h3m2 0h3m5 0h1m4 0h1m1 0h1m1 0h1m2 0h1m1 0h1m2 0h5m4 0h1m1 0h1m1 0h1m4 0h1m1 0h2m2 0h1m1 0h1m7 0h1m2 0h1m1 0h1m8 0h1m6 0h1m1 0h1m2 0h1m34 0h1m1 0h1m35 0h1m4 0h1m6 0h1m10 0h1m3 0h1m2 0h1m4 0h1m15 0h1m5 0h1M575 635.5h1m2 0h3m1 0h4m1 0h11m1 0h1m1 0h3m4 0h1m5 0h1m3 0h1m1 0h2m1 0h3m4 0h1m5 0h1m19 0h1m2 0h1m31 0h1m1 0h1m14 0h1m15 0h1m8 0h1m2 0h1m6 0h3m5 0h1m7 0h1m1 0h1m1 0h1m4 0h1m12 0h1m3 0h1M569 636.5h2m1 0h1m2 0h1m1 0h24m1 0h2m4 0h1m1 0h1m3 0h2m2 0h1m5 0h2m2 0h1m13 0h1m14 0h1m8 0h1m4 0h1m3 0h1m12 0h1m21 0h1m3 0h3m6 0h1m4 0h1m6 0h1m8 0h1m5 0h1m10 0h1m14 0h2m2 0h1M563 637.5h1m1 0h1m5 0h3m4 0h19m1 0h7m2 0h2m1 0h2m2 0h1m1 0h1m2 0h4m2 0h1m2 0h1m5 0h1m6 0h1m8 0h1m36 0h1m5 0h1m19 0h1m7 0h1m2 0h2m4 0h1m1 0h1m8 0h1m21 0h1m8 0h1m1 0h1m6 0h1m1 0h1M565 638.5h1m1 0h1m1 0h2m3 0h2m1 0h21m1 0h4m2 0h1m3 0h1m1 0h3m1 0h1m2 0h1m6 0h1m3 0h1m7 0h1m15 0h2m9 0h1m2 0h1m10 0h1m1 0h1m10 0h1m12 0h1m14 0h1m18 0h1m2 0h1m13 0h1m4 0h1m18 0h1m11 0h1M561 639.5h1m1 0h1m2 0h3m1 0h1m1 0h29m1 0h3m7 0h1m5 0h1m1 0h2m1 0h1m1 0h1m1 0h2m3 0h2m4 0h1m4 0h1m16 0h2m11 0h1m1 0h1m10 0h1m1 0h1m24 0h1m11 0h1m8 0h1m16 0h2m37 0h1M568 640.5h1m2 0h29m3 0h4m1 0h1m1 0h2m2 0h2m1 0h1m4 0h1m3 0h1m4 0h3m34 0h1m4 0h1m3 0h1m7 0h1m9 0h1m8 0h1m5 0h1m9 0h1m5 0h2m11 0h1m11 0h1m7 0h1m6 0h1m4 0h1m10 0h1M564 641.5h1m4 0h34m1 0h1m5 0h2m1 0h1m7 0h1m2 0h1m4 0h1m8 0h2m13 0h1m6 0h1m1 0h1m7 0h1m20 0h1m1 0h1m6 0h2m5 0h1m14 0h1m11 0h1m29 0h1m2 0h1m4 0h1M564 642.5h1m1 0h1m1 0h29m3 0h1m2 0h1m2 0h2m2 0h1m5 0h1m10 0h1m2 0h1m7 0h1m2 0h1m4 0h2m7 0h1m2 0h1m1 0h3m1 0h1m24 0h1m1 0h1m13 0h1m18 0h1m4 0h1m1 0h1m18 0h1m1 0h1m13 0h1m7 0h1m3 0h1m5 0h1M564 643.5h2m1 0h28m2 0h1m1 0h1m2 0h1m2 0h1m5 0h1m1 0h1m5 0h1m2 0h1m8 0h1m3 0h1m26 0h1m8 0h1m12 0h1m21 0h1m12 0h1m33 0h1M561 644.5h1m3 0h27m1 0h4m1 0h2m3 0h1m3 0h2m3 0h1m1 0h1m10 0h1m7 0h1m54 0h1m1 0h1m4 0h1m19 0h1m23 0h1m29 0h1m10 0h1M561 645.5h2m1 0h26m4 0h2m2 0h5m1 0h1m3 0h2m1 0h1m1 0h1m4 0h1m4 0h1m1 0h1m18 0h1m22 0h1m3 0h1m47 0h1m11 0h1m5 0h1M562 646.5h2m1 0h19m3 0h1m1 0h2m4 0h1m1 0h2m1 0h1m4 0h2m6 0h2m3 0h2m2 0h1m6 0h1m70 0h1m2 0h1m44 0h1M561 647.5h1m1 0h19m2 0h1m1 0h1m2 0h4m3 0h3m1 0h3m1 0h1m1 0h2m18 0h2m8 0h1m20 0h1m8 0h1m9 0h1m36 0h1m34 0h1m29 0h1M561 648.5h2m1 0h1m1 0h3m1 0h10m1 0h1m4 0h2m1 0h4m3 0h1m4 0h2m8 0h1m145 0h1m31 0h1" stroke="#151515" stroke-width="1" fill="none"/>
<path d="M893 416.5h1m9 0h1m6 0h1m1 0h1m5 0h1m15 0h1m1 0h1m8 0h1m2 0h1m1 0h2m1 0h1m3 0h1m5 0h1m1 0h2m1 0h3m1 0h2m1 0h1m2 0h2m3 0h5m1 0h3m8 0h2m1 0h1m5 0h2m2 0h2m2 0h1m3 0h3m1 0h5m8 0h1M872 417.5h2m38 0h1m2 0h1m4 0h1m1 0h1m1 0h1m9 0h1m8 0h1m5 0h1m1 0h3m3 0h3m1 0h2m1 0h2m1 0h2m1 0h3m1 0h1m1 0h3m1 0h4m1 0h1m1 0h1m1 0h3m1 0h1m7 0h3m1 0h1m1 0h1m1 0h4m1 0h2m1 0h1m1 0h2m2 0h1m1 0h1m1 0h2m4 0h2m3 0h4M935 418.5h1m5 0h1m2 0h1m8 0h3m1 0h2m3 0h1m1 0h1m1 0h2m2 0h1m1 0h1m3 0h4m1 0h1m1 0h1m1 0h1m1 0h2m1 0h1m3 0h4m1 0h1m2 0h5m2 0h4m1 0h3m1 0h3m1 0h4m3 0h1m3 0h1m2 0h2m1 0h1m1 0h1M925 419.5h1m1 0h1m1 0h1m8 0h1m4 0h1m3 0h1m1 0h1m2 0h2m6 0h2m1 0h2m1 0h2m2 0h3m1 0h2m1 0h2m1 0h1m2 0h2m1 0h2m3 0h1m1 0h2m4 0h2m2 0h2m3 0h2m1 0h2m2 0h12m1 0h2m4 0h1m1 0h1m1 0h4M889 420.5h1m25 0h1m29 0h1m4 0h1m4 0h1m2 0h4m4 0h4m1 0h3m2 0h3m1 0h1m1 0h1m1 0h1m2 0h1m3 0h4m2 0h3m1 0h1m1 0h1m1 0h2m4 0h3m1 0h2m1 0h5m1 0h3m2 0h4m3 0h2m1 0h1M923 421.5h1m19 0h1m4 0h1m5 0h1m7 0h2m2 0h1m2 0h4m1 0h2m1 0h2m1 0h3m1 0h4m1 0h1m1 0h2m3 0h3m1 0h2m1 0h2m1 0h5m1 0h2m1 0h2m1 0h8m1 0h5m1 0h1m3 0h1M919 422.5h1m9 0h1m18 0h1m10 0h2m1 0h1m3 0h1m4 0h2m1 0h1m1 0h3m1 0h3m1 0h1m1 0h1m5 0h2m2 0h2m1 0h2m1 0h4m1 0h27m1 0h2m1 0h2M868 423.5h1m85 0h1m7 0h2m1 0h2m1 0h2m3 0h3m1 0h1m4 0h2m2 0h1m1 0h2m1 0h1m1 0h5m1 0h11m1 0h14m1 0h7m2 0h1m3 0h1M920 424.5h1m29 0h1m8 0h2m1 0h1m1 0h1m1 0h1m1 0h1m2 0h2m1 0h3m2 0h1m2 0h11m2 0h2m1 0h22m1 0h15m1 0h3M958 425.5h1m5 0h2m1 0h1m7 0h3m2 0h3m1 0h2m1 0h1m2 0h9m1 0h36m1 0h1m1 0h1m1 0h1M945 426.5h1m9 0h1m2 0h1m1 0h1m3 0h1m2 0h1m2 0h3m2 0h1m1 0h2m1 0h4m2 0h49m1 0h1m1 0h1M948 427.5h1m1 0h1m4 0h1m5 0h3m4 0h4m2 0h1m3 0h2m1 0h4m1 0h2m1 0h40m1 0h4m1 0h6M952 428.5h1m4 0h2m1 0h1m2 0h2m2 0h5m1 0h67m1 0h1M947 429.5h1m3 0h1m5 0h1m2 0h2m2 0h2m3 0h2m2 0h8m1 0h5m1 0h53M942 430.5h1m6 0h1m6 0h3m4 0h1m2 0h3m3 0h16m1 0h49m1 0h3M947 431.5h1m8 0h1m2 0h3m1 0h2m1 0h5m2 0h7m1 0h61M954 432.5h1m3 0h1m1 0h2m2 0h2m3 0h1m2 0h67m2 0h1M947 433.5h1m2 0h1m2 0h1m2 0h1m4 0h2m1 0h1m1 0h3m1 0h3m1 0h1m2 0h4m1 0h54m1 0h4M949 434.5h2m6 0h1m2 0h1m5 0h1m2 0h1m1 0h7m2 0h61M950 435.5h1m2 0h1m4 0h1m1 0h1m4 0h1m2 0h74M932 436.5h1m32 0h1m2 0h2m3 0h2m1 0h66M957 437.5h1m1 0h1m1 0h1m1 0h1m1 0h1m1 0h2m2 0h1m1 0h69M951 438.5h1m5 0h1m6 0h1m1 0h1m1 0h8m1 0h65M959 439.5h2m1 0h1m3 0h76M947 440.5h1m8 0h1m1 0h1m1 0h1m2 0h3m4 0h1m2 0h68M950 441.5h1m3 0h1m10 0h3m1 0h2m2 0h69M961 442.5h1m1 0h1m1 0h1m1 0h1m1 0h73M954 443.5h1m7 0h1m1 0h9m1 0h68M961 444.5h2m3 0h76M951 445.5h1m7 0h1m4 0h8m1 0h69M947 446.5h1m15 0h1m1 0h1m1 0h75M941 447.5h1m8 0h1m6 0h1m1 0h1m2 0h1m1 0h2m1 0h2m1 0h72M954 448.5h1m1 0h1m3 0h1m4 0h77M952 449.5h1m10 0h1m1 0h77M950 450.5h1m4 0h1m3 0h1m1 0h3m1 0h3m1 0h73M959 451.5h2m1 0h80M957 452.5h1m1 0h2m1 0h2m1 0h77M835 453.5h1m124 0h2m1 0h79M960 454.5h1m1 0h1m1 0h78M955 455.5h1m1 0h1m2 0h82M957 456.5h3m1 0h2m3 0h76M949 457.5h1m9 0h4m1 0h4m1 0h1m1 0h70M954 458.5h1m5 0h6m1 0h75M960 459.5h1m2 0h79M958 460.5h1m1 0h82M955 461.5h1m1 0h1m1 0h83M954 462.5h1m2 0h1m1 0h2m1 0h80M952 463.5h1m7 0h2m2 0h78M955 464.5h3m1 0h7m1 0h75M953 465.5h2m1 0h1m1 0h2m1 0h1m1 0h1m1 0h76M949 466.5h1m5 0h1m3 0h83M921 467.5h1m24 0h1m15 0h78m1 0h1M955 468.5h1m1 0h2m1 0h1m1 0h80M956 469.5h2m1 0h1m1 0h1m1 0h79M952 470.5h1m2 0h1m1 0h2m1 0h76m2 0h4M955 471.5h1m1 0h1m4 0h4m1 0h68m1 0h3m1 0h2M952 472.5h1m8 0h1m1 0h75m3 0h1M939 473.5h1m12 0h1m8 0h2m1 0h77M945 474.5h1m2 0h1m4 0h1m3 0h4m1 0h73m1 0h6M952 475.5h1m3 0h2m3 0h1m1 0h71m1 0h2m2 0h1M949 476.5h1m5 0h3m3 0h70m2 0h4m1 0h1m1 0h1M948 477.5h1m8 0h6m1 0h1m1 0h70m1 0h3M959 478.5h1m1 0h1m1 0h2m1 0h70m2 0h1M955 479.5h1m1 0h1m3 0h2m1 0h72m1 0h2m1 0h1M953 480.5h1m7 0h3m1 0h2m2 0h60m1 0h9m1 0h1M959 481.5h1m4 0h1m1 0h69m1 0h2m3 0h1M942 482.5h1m4 0h1m9 0h1m2 0h3m2 0h65m2 0h1m2 0h2M961 483.5h1m1 0h3m1 0h1m1 0h2m1 0h58m1 0h1m2 0h1m1 0h3M945 484.5h1m15 0h2m3 0h59m2 0h6M956 485.5h1m1 0h1m1 0h2m4 0h1m1 0h7m1 0h53m3 0h1M958 486.5h2m1 0h2m2 0h2m1 0h2m1 0h53m4 0h2m2 0h2m1 0h1M959 487.5h1m1 0h1m1 0h2m2 0h6m1 0h5m1 0h45m1 0h3m2 0h2M948 488.5h1m8 0h2m2 0h5m1 0h1m2 0h9m1 0h38m1 0h3m1 0h1m4 0h1m2 0h1M956 489.5h1m1 0h1m2 0h2m1 0h8m1 0h2m1 0h29m1 0h4m1 0h7m1 0h4m1 0h1m1 0h2m4 0h1M863 490.5h1m76 0h1m17 0h1m2 0h1m1 0h8m1 0h43m2 0h3m1 0h1m3 0h3m10 0h1M960 491.5h1m1 0h1m1 0h4m1 0h3m2 0h5m1 0h27m1 0h8m1 0h7m1 0h2M954 492.5h1m1 0h1m1 0h1m1 0h11m2 0h1m3 0h5m1 0h12m1 0h3m1 0h6m1 0h3m1 0h1m2 0h2m2 0h1m2 0h1m11 0h1M956 493.5h1m1 0h5m1 0h8m2 0h12m1 0h14m1 0h12m2 0h1m6 0h1m3 0h1M956 494.5h4m1 0h12m1 0h3m1 0h5m1 0h1m1 0h3m1 0h9m1 0h5m1 0h3m1 0h3m1 0h1m2 0h1m2 0h2m5 0h1M952 495.5h1m4 0h1m1 0h8m1 0h1m1 0h2m1 0h1m1 0h3m1 0h1m1 0h1m1 0h1m2 0h2m1 0h1m4 0h6m1 0h1m1 0h5m8 0h1m1 0h1m4 0h1m1 0h1M945 496.5h1m10 0h10m1 0h6m1 0h1m5 0h1m1 0h1m1 0h14m1 0h2m1 0h1m3 0h3m2 0h1m2 0h2M848 497.5h1m106 0h2m1 0h1m1 0h5m1 0h1m1 0h3m1 0h2m1 0h2m2 0h1m3 0h2m1 0h1m1 0h2m2 0h8m2 0h1m1 0h2m1 0h2m5 0h1m5 0h1M920 498.5h1m34 0h4m1 0h9m2 0h2m1 0h1m5 0h2m5 0h2m4 0h2m5 0h1m1 0h4m6 0h1m10 0h1M937 499.5h1m7 0h1m3 0h1m1 0h2m2 0h1m1 0h5m1 0h6m3 0h1m1 0h2m4 0h2m3 0h3m1 0h1m4 0h1m3 0h3m1 0h1m2 0h1m2 0h1m10 0h1M940 500.5h1m14 0h2m2 0h1m1 0h9m4 0h1m6 0h3m4 0h4m3 0h2m1 0h1m2 0h2m1 0h4m4 0h1M833 501.5h1m109 0h1m5 0h1m3 0h2m2 0h7m1 0h2m1 0h3m2 0h1m11 0h1m1 0h1m1 0h1m1 0h1m9 0h4m6 0h1M932 502.5h1m21 0h1m2 0h11m3 0h1m8 0h1m5 0h1m1 0h1m3 0h2m4 0h1m3 0h2M945 503.5h1m3 0h1m4 0h7m1 0h2m2 0h1m1 0h1m18 0h1m1 0h1m7 0h1M938 504.5h1m4 0h1m2 0h1m2 0h1m1 0h4m1 0h10m1 0h2m35 0h1m3 0h1M938 505.5h1m8 0h1m4 0h1m1 0h10m1 0h3m1 0h1m14 0h1m14 0h1M946 506.5h1m2 0h2m1 0h2m1 0h10m1 0h2m17 0h1M944 507.5h1m6 0h1m1 0h2m1 0h1m1 0h8m17 0h1m14 0h1M923 508.5h1m13 0h1m8 0h1m4 0h2m1 0h3m2 0h7m1 0h1m5 0h1m11 0h1m2 0h1M921 509.5h1m25 0h1m3 0h14m7 0h1M946 510.5h4m1 0h14M926 511.5h1m2 0h1m8 0h1m2 0h1m5 0h1m2 0h7m1 0h3m1 0h2m6 0h1m13 0h1M860 512.5h1m58 0h1m10 0h1m15 0h2m1 0h2m1 0h10m1 0h2m21 0h1M915 513.5h1m26 0h2m3 0h1m2 0h4m1 0h2m1 0h4m31 0h1m18 0h1M937 514.5h1m1 0h1m5 0h1m4 0h7m1 0h3m1 0h1m2 0h1m4 0h1M924 515.5h1m4 0h1m11 0h1m1 0h1m4 0h12m2 0h1m22 0h1M941 516.5h1m5 0h1m1 0h5m1 0h4m1 0h1m3 0h1M920 517.5h1m16 0h1m2 0h3m3 0h2m1 0h2m1 0h7m1 0h1m4 0h1M923 518.5h1m3 0h1m4 0h1m5 0h1m5 0h2m2 0h1m2 0h5m1 0h2m2 0h1m10 0h1m54 0h1M929 519.5h1m3 0h1m6 0h1m2 0h1m1 0h5m1 0h8m1 0h1m27 0h1m35 0h1M907 520.5h1m13 0h1m11 0h1m4 0h1m2 0h1m1 0h2m1 0h1m1 0h6m1 0h1m1 0h1m47 0h1M858 521.5h1m75 0h1m7 0h1m4 0h1m5 0h3m1 0h1M916 522.5h1m2 0h1m10 0h1m3 0h1m13 0h2m1 0h2m2 0h4m2 0h1m9 0h1M885 523.5h1m20 0h1m1 0h1m19 0h1m1 0h1m3 0h1m5 0h1m6 0h2m2 0h1m2 0h2m66 0h1M927 524.5h1m1 0h1m8 0h1m1 0h1m1 0h1m2 0h1m3 0h2m1 0h4M896 525.5h1m2 0h1m24 0h1m1 0h1m6 0h1m1 0h1m2 0h1m1 0h1m6 0h1m3 0h1m7 0h1m2 0h1m11 0h1m33 0h1M879 526.5h1m12 0h1m16 0h1m18 0h1m7 0h1m7 0h2m6 0h1m3 0h1M913 527.5h1m13 0h2m1 0h2m5 0h1m1 0h1m6 0h1M918 528.5h1m11 0h1m1 0h1m2 0h1m9 0h1m4 0h2M916 529.5h1m1 0h1m8 0h1m2 0h1m2 0h2m3 0h1m1 0h1m1 0h3m2 0h1m9 0h1m10 0h1M909 530.5h1m5 0h1m9 0h1m5 0h2m9 0h1m17 0h1m20 0h1m12 0h1M863 531.5h1m49 0h1m2 0h1m14 0h1m1 0h2m6 0h1m1 0h1m2 0h1m11 0h1m6 0h1m62 0h1M892 532.5h1m17 0h1m7 0h1m13 0h1m2 0h3m3 0h1m7 0h1m20 0h1m18 0h1M897 533.5h1m18 0h1m3 0h1m12 0h1m4 0h1m2 0h1m5 0h1M886 534.5h1m7 0h1m16 0h1m2 0h3m4 0h2m2 0h1m1 0h1m1 0h1m1 0h1m7 0h1m4 0h1m1 0h1m8 0h1m60 0h1m16 0h1M875 535.5h1m12 0h1m1 0h1m4 0h1m1 0h1m9 0h1m3 0h1m7 0h2m4 0h1m3 0h1m4 0h2m9 0h1m6 0h1m88 0h1M888 536.5h1m27 0h2m16 0h2m4 0h1m7 0h2m13 0h1m35 0h1M908 537.5h1m5 0h1m2 0h1m2 0h2m1 0h1m1 0h1M864 538.5h1m14 0h1m28 0h1m7 0h1m6 0h1m8 0h1m3 0h1m4 0h1m18 0h1m29 0h1M852 539.5h1m33 0h1m3 0h1m23 0h4m3 0h3m8 0h2m1 0h1m24 0h1m3 0h1m34 0h1m4 0h1M846 540.5h1m31 0h1m9 0h1m1 0h1m15 0h1m16 0h2m9 0h1m9 0h1M870 541.5h1m6 0h1m16 0h1m9 0h1m3 0h1m7 0h1m3 0h2m10 0h1m1 0h1m91 0h1M871 542.5h1m2 0h1m10 0h1m4 0h1m4 0h1m21 0h2m2 0h2m21 0h1M853 543.5h1m53 0h1m3 0h2m5 0h1m3 0h1m4 0h1m1 0h1m1 0h1m4 0h1m6 0h1m20 0h1M837 544.5h1m12 0h1m39 0h4m3 0h1m8 0h1m3 0h2m3 0h2m1 0h1m19 0h1m16 0h1m54 0h1m5 0h1M883 545.5h2m2 0h2m10 0h1m10 0h1m4 0h1m1 0h1m3 0h2m5 0h1m1 0h1m3 0h1m73 0h1M892 546.5h1m1 0h1m1 0h1m1 0h1m2 0h2m7 0h1m3 0h1m2 0h2m17 0h1m17 0h1m32 0h1M862 547.5h1m17 0h2m20 0h1m1 0h1m3 0h1m1 0h3m1 0h1m14 0h1m101 0h1M876 548.5h1m4 0h1m2 0h1m6 0h1m8 0h1m3 0h1m1 0h1m2 0h1m3 0h1m10 0h1m4 0h1m6 0h2m48 0h1M844 549.5h1m47 0h1m1 0h1m7 0h1m1 0h1m5 0h2m9 0h1m9 0h1m5 0h1m59 0h1m2 0h1M887 550.5h1m4 0h2m4 0h1m3 0h1m1 0h1m5 0h2m39 0h1M886 551.5h1m2 0h1m8 0h1m5 0h2m3 0h2m1 0h1m5 0h1m2 0h2m25 0h1M865 552.5h1m16 0h1m20 0h2m3 0h1m1 0h1m2 0h1m1 0h2m2 0h1M856 553.5h1m15 0h1m11 0h1m4 0h1m2 0h2m4 0h2m2 0h1m2 0h1m1 0h2m7 0h1m2 0h1m2 0h1m71 0h1M841 554.5h1m26 0h1m13 0h3m3 0h1m1 0h1m2 0h1m4 0h1m2 0h1m5 0h1m2 0h1m1 0h1m4 0h1m8 0h1m19 0h2M813 555.5h1m26 0h1m31 0h1m23 0h1m7 0h1m2 0h1m1 0h3m110 0h1M865 556.5h1m1 0h1m9 0h1m1 0h1m9 0h1m2 0h1m3 0h1m3 0h1m9 0h1m3 0h2m19 0h1M847 557.5h1m14 0h1m2 0h1m7 0h1m3 0h1m7 0h1m3 0h1m2 0h1m2 0h2m5 0h2m1 0h1m3 0h1m1 0h1m2 0h1m4 0h1m2 0h1M854 558.5h1m4 0h1m13 0h1m21 0h1m1 0h2m5 0h1m2 0h1m1 0h1m1 0h1m3 0h1m2 0h1m8 0h1m7 0h1m12 0h1M836 559.5h1m44 0h1m4 0h4m3 0h1m2 0h3m1 0h1m3 0h1m7 0h2m7 0h1m7 0h1m14 0h1m15 0h1m78 0h1M834 560.5h1m34 0h1m4 0h1m6 0h1m6 0h1m1 0h3m5 0h3m2 0h1m1 0h1m6 0h1m7 0h1m56 0h1M855 561.5h1m10 0h1m3 0h1m14 0h2m2 0h1m3 0h1m6 0h3m1 0h1m15 0h1m13 0h1m3 0h1m24 0h1M816 562.5h1m53 0h1m9 0h1m4 0h1m2 0h2m4 0h2m87 0h1m14 0h1m22 0h1M875 563.5h1m1 0h1m3 0h1m3 0h1m4 0h3m3 0h1m2 0h3m9 0h1m16 0h1m6 0h1m3 0h1m73 0h1m9 0h1M880 564.5h2m2 0h1m4 0h1m1 0h2m13 0h1m4 0h1m37 0h1m18 0h1m40 0h1m25 0h1M881 565.5h1m4 0h1m1 0h2m7 0h1m3 0h1m4 0h1m44 0h1m12 0h1m22 0h1M845 566.5h1m13 0h1m2 0h1m9 0h1m6 0h2m1 0h1m2 0h3m3 0h2m4 0h2m6 0h1M863 567.5h1m29 0h1m2 0h1m1 0h1m5 0h1m12 0h1M821 568.5h1m48 0h1m27 0h1m9 0h1m23 0h1m39 0h1m10 0h1m18 0h1M869 569.5h2m1 0h1m2 0h2m1 0h1m3 0h2m2 0h1m16 0h1m95 0h1m29 0h1M866 570.5h2m7 0h1m4 0h2m2 0h1m2 0h1m5 0h1m13 0h1m1 0h1m1 0h2M844 571.5h1m5 0h1m18 0h1m1 0h2m1 0h1m2 0h1m6 0h2m5 0h1m5 0h1m14 0h1m1 0h1M825 572.5h1m39 0h1m4 0h1m13 0h2m1 0h3m56 0h1m44 0h1m9 0h1M831 573.5h1m16 0h2m8 0h1m8 0h2m8 0h1m4 0h1m3 0h1m1 0h1m1 0h2m1 0h1m53 0h1m3 0h1m19 0h1m14 0h1m16 0h1M868 574.5h1m15 0h1m1 0h1m2 0h1m113 0h1M868 575.5h1m1 0h1m1 0h1m1 0h1m2 0h1m8 0h1m1 0h2m1 0h1m8 0h1m1 0h1m72 0h1M861 576.5h1m7 0h1m5 0h1m1 0h2m1 0h1m2 0h1m7 0h1m1 0h1m5 0h1m59 0h2M879 577.5h2m1 0h1m12 0h1m11 0h1m13 0h1m79 0h1m29 0h1M852 578.5h1m4 0h1m12 0h1m3 0h1m2 0h2m5 0h1m13 0h1m101 0h1M857 579.5h1m10 0h3m1 0h1m4 0h1m3 0h1m6 0h1m3 0h1m26 0h1m21 0h1m7 0h1m13 0h1m8 0h1m32 0h1M858 580.5h1m2 0h1m6 0h1m2 0h1m3 0h1m15 0h1m12 0h1m24 0h1m97 0h1M857 581.5h1m3 0h1m2 0h2m7 0h1m4 0h1m5 0h1m1 0h1m11 0h1m2 0h1m10 0h1m20 0h1m58 0h1m45 0h1M839 582.5h1m33 0h1m21 0h1m4 0h1m12 0h1m20 0h1m65 0h1m16 0h1M843 583.5h1m9 0h1m7 0h1m8 0h1m6 0h1m1 0h1m7 0h1m14 0h1m138 0h1M835 584.5h1m3 0h1m6 0h1m10 0h1m2 0h1m8 0h1m1 0h1m3 0h1m10 0h1m4 0h1m71 0h1m70 0h1M817 585.5h1m34 0h1m1 0h1m9 0h1m1 0h2m3 0h2m13 0h1m9 0h1m10 0h1m101 0h1M818 586.5h1m9 0h1m20 0h1m3 0h1m6 0h1m1 0h1m7 0h1m2 0h1m4 0h1m14 0h1m7 0h1m15 0h1m4 0h1m7 0h1m60 0h1M846 587.5h1m1 0h1m1 0h2m13 0h1m1 0h1m2 0h1m4 0h2m1 0h1m18 0h1m82 0h1m4 0h1M840 588.5h1m23 0h1m3 0h1m2 0h1m4 0h1m30 0h1m31 0h1m8 0h1m79 0h1M829 589.5h1m5 0h1m31 0h1m1 0h3m1 0h1M854 590.5h1m9 0h2m2 0h3m1 0h2m4 0h1m119 0h1M822 591.5h1m8 0h1m2 0h1m13 0h1m3 0h1m4 0h1m1 0h2m3 0h1m1 0h1m1 0h1m2 0h1m24 0h1m6 0h1m36 0h1m11 0h1m8 0h1M839 592.5h1m13 0h1m1 0h3m8 0h2m8 0h1m3 0h1m43 0h1m60 0h2m43 0h2M824 593.5h1m26 0h1m1 0h1m7 0h1m1 0h1m9 0h1m3 0h1m17 0h1m5 0h1m57 0h1m45 0h1M844 594.5h1m5 0h1m9 0h1m1 0h1m5 0h1m1 0h1m2 0h1m80 0h1m5 0h1m4 0h1m12 0h1M841 595.5h1m4 0h2m1 0h1m3 0h1m11 0h1m4 0h1m5 0h1m1 0h1m6 0h1m58 0h1M850 596.5h1m1 0h1m5 0h1m1 0h2m114 0h1M838 597.5h1m1 0h1m7 0h1m9 0h2m1 0h1m1 0h1m2 0h1m53 0h1m7 0h1m14 0h1m35 0h1m53 0h1m5 0h1M818 598.5h1m19 0h4m4 0h1m1 0h1m9 0h1m2 0h2m2 0h2m34 0h1m123 0h1M834 599.5h1m6 0h1m2 0h1m2 0h1m2 0h2m3 0h1m2 0h1m1 0h4m43 0h1m7 0h1m22 0h1m61 0h1m22 0h1M820 600.5h1m18 0h1m1 0h1m4 0h1m15 0h1m6 0h1m1 0h1m20 0h1m46 0h1m46 0h1M819 601.5h1m12 0h1m2 0h1m6 0h1m1 0h2m2 0h2m11 0h1m45 0h1M836 602.5h1m1 0h1m1 0h1m1 0h1m2 0h1m1 0h1m1 0h1m3 0h2m20 0h1m15 0h1M838 603.5h1m2 0h1m3 0h1m2 0h1m3 0h1m10 0h1m34 0h1m4 0h1m4 0h1m23 0h1m40 0h1M840 604.5h1m4 0h2m1 0h2m3 0h1m5 0h1m19 0h1m49 0h1m60 0h1M829 605.5h1m2 0h1m4 0h1m7 0h1m2 0h1m6 0h1m54 0h1m32 0h1m49 0h1M820 606.5h1m19 0h1m12 0h1m35 0h1m82 0h1M819 607.5h1m9 0h1m6 0h1m2 0h1m4 0h1m10 0h1m78 0h1m52 0h1M832 608.5h1m7 0h1m4 0h1m1 0h2m3 0h1m1 0h1m101 0h1m37 0h1M828 609.5h1m7 0h1m3 0h1m1 0h1m16 0h1m48 0h1m28 0h1M832 610.5h1m17 0h1m4 0h1m45 0h1m50 0h1m41 0h1M834 611.5h2m16 0h1m8 0h1m20 0h1m6 0h1m27 0h1m89 0h1M813 612.5h1m36 0h1m12 0h1m33 0h1m9 0h1m92 0h1m31 0h1M813 613.5h1m18 0h1m5 0h1m17 0h1m1 0h1m139 0h1m33 0h1M846 614.5h1m54 0h1m8 0h1m10 0h1m63 0h1M846 615.5h1m3 0h1m38 0h1m13 0h1m57 0h1M817 616.5h1m4 0h1m21 0h1m51 0h1m9 0h1M814 617.5h1m31 0h1m16 0h1m7 0h1m11 0h1m19 0h1m3 0h1m53 0h1M820 618.5h1m2 0h1m2 0h1m16 0h1m21 0h1m5 0h1m55 0h1m19 0h1m9 0h1m27 0h1M838 619.5h1m19 0h1m17 0h1m6 0h1m18 0h1m14 0h1m35 0h1M839 620.5h2m9 0h1m1 0h1m4 0h2m21 0h1m3 0h1m7 0h1m21 0h1m31 0h1m31 0h1m13 0h1M839 621.5h1m4 0h1m10 0h1m4 0h1m6 0h1m13 0h1m3 0h1m2 0h1m108 0h1m10 0h1M836 622.5h1m4 0h2m3 0h1m2 0h1m19 0h1m1 0h1m2 0h1m3 0h1m60 0h1m15 0h1m14 0h1M837 623.5h1m11 0h1m4 0h4m1 0h1m4 0h1m2 0h1m7 0h1m3 0h1m2 0h1m4 0h1m1 0h1m34 0h1m56 0h1m13 0h1m14 0h2m29 0h1M826 624.5h1m1 0h1m1 0h1m12 0h2m6 0h2m1 0h1m1 0h1m2 0h2m1 0h1m10 0h1m6 0h1m17 0h1m51 0h1m47 0h1m3 0h1m17 0h2m1 0h1m14 0h1M824 625.5h1m2 0h1m4 0h1m3 0h2m4 0h2m2 0h1m3 0h2m1 0h1m2 0h1m2 0h2m2 0h1m2 0h1m13 0h1m1 0h1m13 0h3m37 0h1m42 0h1m2 0h1m13 0h1m1 0h1m3 0h1m11 0h1m14 0h1M824 626.5h1m6 0h1m2 0h2m4 0h1m1 0h1m2 0h1m2 0h1m3 0h3m4 0h2m3 0h1m1 0h2m5 0h2m3 0h1m5 0h1m11 0h1m16 0h1m7 0h1m31 0h1m17 0h1m38 0h1m19 0h1m7 0h1M825 627.5h1m3 0h1m5 0h1m4 0h3m2 0h5m2 0h2m1 0h3m1 0h1m4 0h2m2 0h1m2 0h3m1 0h1m3 0h2m4 0h1m2 0h1m6 0h1m3 0h1m3 0h1m10 0h1m29 0h1m8 0h1m9 0h1m1 0h1m54 0h1M817 628.5h1m14 0h2m1 0h1m2 0h3m1 0h1m3 0h1m2 0h1m2 0h3m2 0h4m2 0h2m1 0h2m1 0h1m3 0h2m2 0h1m8 0h1m8 0h1m32 0h1m14 0h1m4 0h1m19 0h1m19 0h1m4 0h1m2 0h1m34 0h1m5 0h1m2 0h1M816 629.5h1m3 0h1m1 0h2m2 0h1m4 0h1m4 0h1m3 0h1m3 0h7m1 0h3m2 0h1m3 0h2m1 0h1m8 0h1m48 0h1m15 0h2m3 0h1m33 0h1m7 0h1m7 0h1m6 0h2m3 0h1m8 0h1m12 0h1m8 0h1M810 630.5h1m1 0h1m6 0h1m2 0h1m1 0h1m1 0h1m1 0h1m1 0h1m1 0h1m2 0h2m4 0h1m1 0h3m2 0h8m1 0h2m1 0h1m1 0h2m1 0h1m2 0h1m6 0h2m1 0h2m15 0h1m8 0h1m2 0h1m9 0h1m38 0h1m17 0h1m3 0h1m4 0h1m45 0h1M816 631.5h1m4 0h1m2 0h3m5 0h1m1 0h2m2 0h13m1 0h6m1 0h1m1 0h2m1 0h1m3 0h1m1 0h2m1 0h2m5 0h1m2 0h1m4 0h1m8 0h1m24 0h1m17 0h1m2 0h1m10 0h1m1 0h1m2 0h1m2 0h1m3 0h1m15 0h1m1 0h1m17 0h1m8 0h1m3 0h1m2 0h1m14 0h1m2 0h1M819 632.5h1m1 0h1m1 0h1m8 0h1m1 0h1m1 0h6m1 0h18m2 0h2m1 0h1m2 0h1m1 0h1m4 0h1m1 0h1m3 0h1m1 0h1m12 0h1m9 0h1m10 0h1m25 0h1m20 0h1m3 0h1m9 0h2m13 0h1m3 0h1m2 0h1m1 0h1m7 0h1m13 0h1M813 633.5h1m2 0h1m6 0h1m3 0h5m1 0h6m1 0h3m2 0h17m1 0h2m1 0h1m1 0h3m6 0h1m3 0h2m6 0h1m1 0h1m6 0h1m32 0h1m1 0h2m2 0h1m5 0h1m16 0h1m3 0h1m9 0h1m3 0h1m1 0h1m16 0h1m1 0h2m34 0h1m2 0h1M816 634.5h1m1 0h2m5 0h2m1 0h1m2 0h1m2 0h7m1 0h11m2 0h4m1 0h2m2 0h1m12 0h1m7 0h1m2 0h1m7 0h1m1 0h1m8 0h1m16 0h1m4 0h1m18 0h1m17 0h1m31 0h1m24 0h1m10 0h1m4 0h1M811 635.5h1m3 0h1m2 0h3m2 0h1m2 0h4m1 0h4m2 0h3m2 0h3m1 0h7m1 0h2m1 0h5m8 0h2m3 0h1m5 0h2m1 0h1m10 0h1m18 0h1m2 0h1m44 0h1m28 0h1m49 0h1M810 636.5h1m1 0h1m1 0h1m8 0h1m2 0h1m2 0h5m2 0h17m1 0h1m1 0h2m1 0h1m1 0h3m1 0h1m3 0h1m1 0h1m1 0h1m4 0h1m2 0h1m1 0h1m3 0h1m3 0h1m5 0h1m19 0h1m10 0h1m16 0h1m11 0h1m7 0h1M810 637.5h1m4 0h10m3 0h2m1 0h3m1 0h7m1 0h6m1 0h1m1 0h2m1 0h8m1 0h3m1 0h1m1 0h1m5 0h1m21 0h1m9 0h1m21 0h2m11 0h1m19 0h1m36 0h1m5 0h1M810 638.5h1m2 0h1m1 0h1m2 0h1m3 0h1m1 0h7m1 0h1m1 0h1m1 0h2m1 0h1m1 0h11m3 0h1m1 0h5m3 0h1m13 0h1m27 0h1m11 0h1m36 0h1m15 0h1m3 0h1m55 0h1m3 0h1M809 639.5h2m1 0h1m2 0h2m2 0h1m1 0h2m3 0h2m4 0h1m1 0h5m1 0h1m1 0h2m2 0h1m1 0h1m1 0h4m3 0h1m1 0h1m1 0h1m1 0h1m4 0h1m6 0h2m8 0h2m13 0h1m11 0h1m30 0h1m25 0h1m33 0h1M809 640.5h1m1 0h1m1 0h1m2 0h1m3 0h4m1 0h1m1 0h5m1 0h4m2 0h2m2 0h4m2 0h1m2 0h7m1 0h2m2 0h1m3 0h1m5 0h1m2 0h1m3 0h1m3 0h1m1 0h1m26 0h1m4 0h1m41 0h2m32 0h1m17 0h1m22 0h1M810 641.5h1m1 0h2m2 0h1m2 0h1m1 0h2m1 0h2m4 0h1m1 0h2m1 0h1m1 0h1m3 0h3m1 0h5m10 0h1m8 0h1m36 0h2m36 0h1m22 0h1M809 642.5h5m1 0h1m1 0h2m1 0h1m3 0h3m1 0h1m2 0h1m1 0h1m2 0h1m1 0h3m1 0h1m4 0h1m1 0h1m6 0h2m14 0h1m3 0h1m18 0h1m5 0h1m27 0h1" stroke="#151515" stroke-width="1" fill="none"/>
<g clip-path="url(#c0)"><ellipse cx="262.5" cy="440.8" rx="35" ry="20.5" transform="rotate(18 262.5 440.8)" fill="url(#g0)"/></g>
<g clip-path="url(#c1)"><ellipse cx="507" cy="442" rx="56" ry="21" transform="rotate(3 507 442)" fill="url(#g1)"/></g>
<g clip-path="url(#c2)"><ellipse cx="757.6" cy="461.6" rx="43" ry="24.4" transform="rotate(-35 757.6 461.6)" fill="url(#g2)"/></g>
<g clip-path="url(#c3)"><ellipse cx="1006" cy="456" rx="51" ry="23" transform="rotate(-34 1006 456)" fill="url(#g3)"/></g>
<g clip-path="url(#c4)"><ellipse cx="347" cy="638" rx="24" ry="4" transform="rotate(-15 347 638)" fill="url(#g4)"/></g>
<g clip-path="url(#c5)"><ellipse cx="580" cy="642" rx="13" ry="3" transform="rotate(-15 580 642)" fill="url(#g5)"/></g>
<g clip-path="url(#c6)"><ellipse cx="828" cy="637" rx="22" ry="4" transform="rotate(-12 828 637)" fill="url(#g6)"/></g>
<g clip-path="url(#c7)"><ellipse cx="70" cy="651" rx="9" ry="1.8" transform="rotate(-5 70 651)" fill="url(#g7)"/></g>
<rect x="204" y="54.2" width="80.3" height="1.8" fill="#707070"/>
<rect x="281.9" y="55" width="1.6" height="80" fill="#505050" opacity="0.8"/>
<rect x="449" y="54.2" width="78.7" height="1.8" fill="#707070"/>
<rect x="525.3" y="55" width="1.6" height="70" fill="#505050" opacity="0.8"/>
<rect x="694" y="54.2" width="91.3" height="1.8" fill="#707070"/>
<rect x="782.9" y="55" width="1.6" height="65" fill="#505050" opacity="0.8"/>
<rect x="968" y="54.2" width="78.0" height="1.8" fill="#707070"/>
<rect x="1043.6" y="55" width="1.6" height="73" fill="#505050" opacity="0.8"/>
<rect x="46.50" y="53.50" width="237.80" height="236.80" fill="none" stroke="#111" stroke-width="1.4"/>
<polygon points="52.3,242.0 133.0,129.4 157.3,144.7 75.6,257.4" fill="none" stroke="#000" stroke-width="1.8" stroke-linejoin="miter"/>
<rect x="293.60" y="53.40" width="234.10" height="235.00" fill="none" stroke="#111" stroke-width="1.4"/>
<polygon points="299.6,244.9 381.4,131.7 404.6,146.7 321.8,259.5" fill="none" stroke="#000" stroke-width="1.8" stroke-linejoin="miter"/>
<rect x="535.00" y="53.90" width="250.30" height="235.10" fill="none" stroke="#111" stroke-width="1.4"/>
<polygon points="545.9,244.5 628.7,131.6 651.7,147.5 569.7,260.4" fill="none" stroke="#000" stroke-width="1.8" stroke-linejoin="miter"/>
<rect x="797.20" y="53.90" width="248.80" height="229.70" fill="none" stroke="#111" stroke-width="1.4"/>
<polygon points="802.1,238.1 892.8,132.0 916.2,148.7 824.8,255.4" fill="none" stroke="#000" stroke-width="1.8" stroke-linejoin="miter"/>
<rect x="47.00" y="413.40" width="251.20" height="239.50" fill="none" stroke="#111" stroke-width="1.4"/>
<polygon points="71.1,582.9 156.7,464.2 178.9,477.8 93.3,597.7" fill="none" stroke="#000" stroke-width="1.8" stroke-linejoin="miter"/>
<rect x="308.40" y="414.20" width="240.20" height="234.00" fill="none" stroke="#111" stroke-width="1.4"/>
<polygon points="325.3,586.7 406.7,474.0 427.9,488.5 346.5,601.6" fill="none" stroke="#000" stroke-width="1.8" stroke-linejoin="miter"/>
<rect x="558.70" y="416.10" width="237.10" height="234.50" fill="none" stroke="#111" stroke-width="1.4"/>
<polygon points="569.4,586.7 656.7,462.8 679.3,477.2 590.7,601.6" fill="none" stroke="#000" stroke-width="1.8" stroke-linejoin="miter"/>
<rect x="807.30" y="414.40" width="236.20" height="230.10" fill="none" stroke="#111" stroke-width="1.4"/>
<polygon points="819.4,577.6 908.5,454.6 929.3,469.1 841.1,592.5" fill="none" stroke="#000" stroke-width="1.8" stroke-linejoin="miter"/>
</svg></body></html>
